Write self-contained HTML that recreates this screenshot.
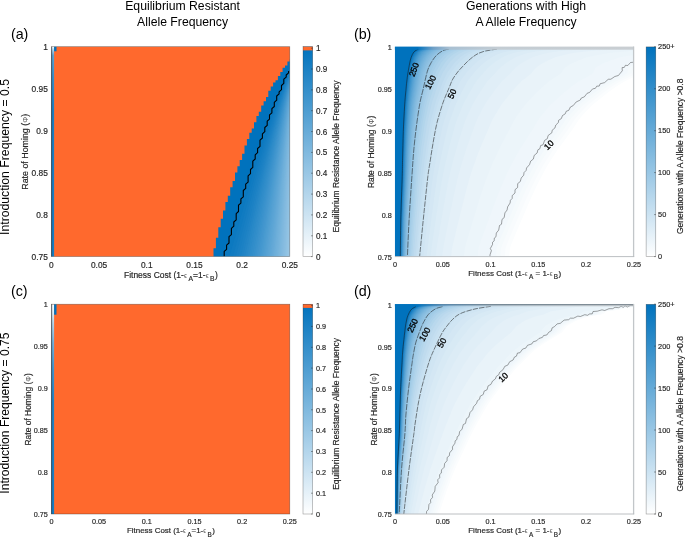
<!DOCTYPE html>
<html><head><meta charset="utf-8"><title>Figure</title>
<style>html,body{margin:0;padding:0;background:#fff}svg{display:block;will-change:transform;filter:blur(0.3px)}</style></head>
<body>
<svg width="685" height="542" viewBox="0 0 685 542" font-family="'Liberation Sans', Arial, Helvetica, sans-serif">
<defs>
<clipPath id="clipa"><rect x="49" y="44" width="243" height="215"/></clipPath>
<clipPath id="clipb"><rect x="392" y="44" width="244" height="215"/></clipPath>
<clipPath id="clipc"><rect x="49" y="302" width="243" height="214"/></clipPath>
<clipPath id="clipd"><rect x="392" y="302" width="244" height="214"/></clipPath>
<linearGradient id="cbg" x1="0" y1="0" x2="0" y2="1"><stop offset="0" stop-color="#0072bd"/><stop offset="1" stop-color="#fff"/></linearGradient>
<linearGradient id="fca" x1="0" y1="0" x2="0" y2="1"><stop offset="0" stop-color="#ffffff"/><stop offset="0.015" stop-color="#b2d5eb"/><stop offset="0.04" stop-color="#59a3d4"/><stop offset="0.15" stop-color="#338eca"/><stop offset="0.3" stop-color="#1a80c4"/><stop offset="1" stop-color="#147dc2"/></linearGradient>
<linearGradient id="fcc" x1="0" y1="0" x2="0" y2="1"><stop offset="0" stop-color="#ffffff"/><stop offset="0.04" stop-color="#e0eef7"/><stop offset="0.09" stop-color="#b2d5eb"/><stop offset="0.18" stop-color="#73b1db"/><stop offset="0.3" stop-color="#4095ce"/><stop offset="0.45" stop-color="#1f83c5"/><stop offset="1" stop-color="#147dc2"/></linearGradient>
<linearGradient id="topb" x1="0" y1="0" x2="1" y2="0"><stop offset="0" stop-color="#0072bd"/><stop offset="0.095" stop-color="#0072bd"/><stop offset="0.16" stop-color="#6f9fc6"/><stop offset="0.23" stop-color="#a9c0d2"/><stop offset="0.43" stop-color="#c3ccd3"/><stop offset="1" stop-color="#c9ced2"/></linearGradient>
<linearGradient id="topd" x1="0" y1="0" x2="1" y2="0"><stop offset="0" stop-color="#0072bd"/><stop offset="0.08" stop-color="#0072bd"/><stop offset="0.2" stop-color="#5d87a8"/><stop offset="0.4" stop-color="#7c8890"/><stop offset="1" stop-color="#8a8d90"/></linearGradient>
</defs>
<rect width="685" height="542" fill="#fff"/>
<g clip-path="url(#clipa)">
<rect x="47.4" y="42.7" width="246.4" height="217.9" fill="rgb(255, 105, 45)"/>
<path fill="#0072bd" d="M295.8 59.3 L289.8 59.3 L289.8 61.4 L287.4 61.4 L287.4 63.5 L287.4 63.5 L287.4 65.6 L285 65.6 L285 67.7 L282.6 67.7 L282.6 69.8 L282.6 69.8 L282.6 71.9 L280.3 71.9 L280.3 74 L280.3 74 L280.3 76.1 L277.9 76.1 L277.9 78.2 L277.9 78.2 L277.9 80.3 L275.5 80.3 L275.5 82.4 L273.1 82.4 L273.1 84.5 L273.1 84.5 L273.1 86.6 L270.7 86.6 L270.7 88.7 L270.7 88.7 L270.7 90.8 L268.3 90.8 L268.3 92.9 L268.3 92.9 L268.3 95 L268.3 95 L268.3 97.1 L266 97.1 L266 99.2 L266 99.2 L266 101.3 L263.6 101.3 L263.6 103.4 L263.6 103.4 L263.6 105.5 L261.2 105.5 L261.2 107.6 L261.2 107.6 L261.2 109.7 L261.2 109.7 L261.2 111.8 L258.8 111.8 L258.8 113.9 L258.8 113.9 L258.8 116 L256.4 116 L256.4 118.1 L256.4 118.1 L256.4 120.2 L256.4 120.2 L256.4 122.3 L254 122.3 L254 124.4 L254 124.4 L254 126.5 L254 126.5 L254 128.6 L251.7 128.6 L251.7 130.7 L251.7 130.7 L251.7 132.8 L249.3 132.8 L249.3 134.9 L249.3 134.9 L249.3 137 L249.3 137 L249.3 139.1 L246.9 139.1 L246.9 141.2 L246.9 141.2 L246.9 143.3 L246.9 143.3 L246.9 145.4 L244.5 145.4 L244.5 147.5 L244.5 147.5 L244.5 149.6 L244.5 149.6 L244.5 151.7 L244.5 151.7 L244.5 153.7 L242.1 153.7 L242.1 155.8 L242.1 155.8 L242.1 157.9 L242.1 157.9 L242.1 160 L239.7 160 L239.7 162.1 L239.7 162.1 L239.7 164.2 L239.7 164.2 L239.7 166.3 L237.4 166.3 L237.4 168.4 L237.4 168.4 L237.4 170.5 L237.4 170.5 L237.4 172.6 L235 172.6 L235 174.7 L235 174.7 L235 176.8 L235 176.8 L235 178.9 L235 178.9 L235 181 L232.6 181 L232.6 183.1 L232.6 183.1 L232.6 185.2 L232.6 185.2 L232.6 187.3 L230.2 187.3 L230.2 189.4 L230.2 189.4 L230.2 191.5 L230.2 191.5 L230.2 193.6 L230.2 193.6 L230.2 195.7 L227.8 195.7 L227.8 197.8 L227.8 197.8 L227.8 199.9 L227.8 199.9 L227.8 202 L225.4 202 L225.4 204.1 L225.4 204.1 L225.4 206.2 L225.4 206.2 L225.4 208.3 L225.4 208.3 L225.4 210.4 L223 210.4 L223 212.5 L223 212.5 L223 214.6 L223 214.6 L223 216.7 L223 216.7 L223 218.8 L220.7 218.8 L220.7 220.9 L220.7 220.9 L220.7 223 L220.7 223 L220.7 225.1 L220.7 225.1 L220.7 227.2 L218.3 227.2 L218.3 229.3 L218.3 229.3 L218.3 231.4 L218.3 231.4 L218.3 233.5 L218.3 233.5 L218.3 235.6 L218.3 235.6 L218.3 237.7 L215.9 237.7 L215.9 239.8 L215.9 239.8 L215.9 241.9 L215.9 241.9 L215.9 244 L215.9 244 L215.9 246.1 L215.9 246.1 L215.9 248.2 L213.5 248.2 L213.5 250.3 L213.5 250.3 L213.5 252.4 L213.5 252.4 L213.5 254.5 L213.5 254.5 L213.5 261.6 L295.8 261.6 Z"/>
<path fill="#0072bd" d="M369.8 71.1 L288.6 71.1 L288.6 72.9 L286.2 75 L286.2 77.1 L283.8 79.2 L283.8 81.3 L283.8 83.4 L281.5 85.5 L281.5 87.6 L281.5 89.7 L279.1 91.8 L279.1 93.9 L276.7 96 L276.7 98.1 L276.7 100.2 L274.3 102.3 L274.3 104.4 L274.3 106.5 L271.9 108.6 L271.9 110.7 L271.9 112.8 L269.5 114.9 L269.5 117 L269.5 119.1 L267.2 121.2 L267.2 123.3 L267.2 125.4 L264.8 127.5 L264.8 129.6 L264.8 131.7 L262.4 133.8 L262.4 135.9 L262.4 138 L260 140.1 L260 142.2 L260 144.3 L260 146.4 L257.6 148.5 L257.6 150.6 L257.6 152.7 L255.2 154.8 L255.2 156.9 L255.2 159 L252.8 161.1 L252.8 163.2 L252.8 165.3 L252.8 167.4 L250.5 169.5 L250.5 171.6 L250.5 173.7 L248.1 175.8 L248.1 177.9 L248.1 180 L248.1 182.1 L245.7 184.2 L245.7 186.3 L245.7 188.4 L243.3 190.5 L243.3 192.6 L243.3 194.7 L243.3 196.8 L240.9 198.9 L240.9 201 L240.9 203.1 L238.5 205.2 L238.5 207.3 L238.5 209.4 L238.5 211.5 L236.2 213.6 L236.2 215.7 L236.2 217.8 L236.2 219.9 L233.8 222 L233.8 224.1 L233.8 226.2 L231.4 228.3 L231.4 230.4 L231.4 232.5 L231.4 234.6 L229 236.7 L229 238.8 L229 240.9 L229 243 L226.6 245.1 L226.6 247.2 L226.6 249.3 L224.2 251.4 L224.2 253.5 L224.2 255.6 L224.2 256.6 L224.2 261.6 L369.8 261.6 Z"/>
<path fill="#0c79c0" d="M295.8 60 L293.8 60 L291 66 L288.2 72 L285.5 78 L282.9 84 L280.3 90 L277.8 96 L275.4 102 L273 108 L270.7 114 L268.4 120 L266.2 126 L264 132 L261.8 138 L259.7 144 L257.6 150 L255.6 156 L253.6 162 L251.6 168 L249.6 174 L247.7 180 L245.7 186 L243.8 192 L241.9 198 L240.1 204 L238.2 210 L236.3 216 L234.4 222 L232.6 228 L230.7 234 L228.8 240 L226.9 246 L225 252 L222 261.6 L295.8 261.6 Z"/>
<path fill="#107bc1" d="M295.8 60 L294 60 L291.4 66 L288.9 72 L286.4 78 L284 84 L281.6 90 L279.3 96 L277.1 102 L274.9 108 L272.7 114 L270.6 120 L268.6 126 L266.6 132 L264.6 138 L262.6 144 L260.7 150 L258.8 156 L257 162 L255.2 168 L253.4 174 L251.6 180 L249.8 186 L248.1 192 L246.3 198 L244.6 204 L242.9 210 L241.2 216 L239.4 222 L237.7 228 L236 234 L234.3 240 L232.5 246 L230.8 252 L228 261.6 L295.8 261.6 Z"/>
<path fill="#147dc2" d="M295.8 60 L294.1 60 L291.6 66 L289.2 72 L286.9 78 L284.6 84 L282.4 90 L280.2 96 L278.1 102 L276 108 L273.9 114 L271.9 120 L270 126 L268.1 132 L266.2 138 L264.4 144 L262.6 150 L260.8 156 L259 162 L257.3 168 L255.6 174 L253.9 180 L252.2 186 L250.5 192 L248.9 198 L247.3 204 L245.6 210 L244 216 L242.4 222 L240.7 228 L239.1 234 L237.5 240 L235.8 246 L234.2 252 L231.5 261.6 L295.8 261.6 Z"/>
<path fill="#187fc3" d="M295.8 60 L294.2 60 L291.8 66 L289.5 72 L287.3 78 L285.1 84 L283 90 L280.9 96 L278.9 102 L276.9 108 L274.9 114 L273 120 L271.2 126 L269.4 132 L267.6 138 L265.8 144 L264.1 150 L262.4 156 L260.7 162 L259.1 168 L257.4 174 L255.8 180 L254.2 186 L252.6 192 L251.1 198 L249.5 204 L247.9 210 L246.4 216 L244.8 222 L243.3 228 L241.7 234 L240.2 240 L238.6 246 L237 252 L234.5 261.6 L295.8 261.6 Z"/>
<path fill="#1b81c4" d="M295.8 60 L294.3 60 L292 66 L289.8 72 L287.7 78 L285.6 84 L283.5 90 L281.6 96 L279.6 102 L277.7 108 L275.9 114 L274 120 L272.3 126 L270.5 132 L268.8 138 L267.1 144 L265.5 150 L263.8 156 L262.2 162 L260.6 168 L259.1 174 L257.5 180 L256 186 L254.5 192 L253 198 L251.5 204 L250 210 L248.5 216 L247 222 L245.5 228 L244 234 L242.5 240 L241 246 L239.5 252 L237.1 261.6 L295.8 261.6 Z"/>
<path fill="#1f83c5" d="M295.8 60 L294.3 60 L292.2 66 L290.1 72 L288 78 L286 84 L284.1 90 L282.1 96 L280.3 102 L278.5 108 L276.7 114 L274.9 120 L273.2 126 L271.6 132 L269.9 138 L268.3 144 L266.7 150 L265.2 156 L263.6 162 L262.1 168 L260.6 174 L259.1 180 L257.7 186 L256.2 192 L254.8 198 L253.3 204 L251.9 210 L250.5 216 L249 222 L247.6 228 L246.2 234 L244.7 240 L243.3 246 L241.9 252 L239.5 261.6 L295.8 261.6 Z"/>
<path fill="#2385c6" d="M295.8 60 L294.4 60 L292.3 66 L290.3 72 L288.3 78 L286.4 84 L284.5 90 L282.7 96 L280.9 102 L279.2 108 L277.5 114 L275.8 120 L274.1 126 L272.5 132 L271 138 L269.4 144 L267.9 150 L266.4 156 L264.9 162 L263.5 168 L262 174 L260.6 180 L259.2 186 L257.8 192 L256.4 198 L255 204 L253.7 210 L252.3 216 L250.9 222 L249.6 228 L248.2 234 L246.8 240 L245.4 246 L244 252 L241.8 261.6 L295.8 261.6 Z"/>
<path fill="#2788c7" d="M295.8 60 L294.5 60 L292.5 66 L290.5 72 L288.6 78 L286.8 84 L285 90 L283.2 96 L281.5 102 L279.8 108 L278.2 114 L276.6 120 L275 126 L273.5 132 L272 138 L270.5 144 L269 150 L267.6 156 L266.1 162 L264.7 168 L263.4 174 L262 180 L260.6 186 L259.3 192 L258 198 L256.7 204 L255.3 210 L254 216 L252.7 222 L251.4 228 L250.1 234 L248.8 240 L247.4 246 L246.1 252 L243.9 261.6 L295.8 261.6 Z"/>
<path fill="#2b8ac8" d="M295.8 60 L294.5 60 L292.6 66 L290.7 72 L288.9 78 L287.2 84 L285.4 90 L283.7 96 L282.1 102 L280.5 108 L278.9 114 L277.3 120 L275.8 126 L274.3 132 L272.9 138 L271.5 144 L270.1 150 L268.7 156 L267.3 162 L266 168 L264.6 174 L263.3 180 L262 186 L260.7 192 L259.5 198 L258.2 204 L256.9 210 L255.7 216 L254.4 222 L253.1 228 L251.9 234 L250.6 240 L249.3 246 L248 252 L246 261.6 L295.8 261.6 Z"/>
<path fill="#2f8cc9" d="M295.8 60 L294.6 60 L292.7 66 L291 72 L289.2 78 L287.5 84 L285.8 90 L284.2 96 L282.6 102 L281.1 108 L279.6 114 L278.1 120 L276.6 126 L275.2 132 L273.8 138 L272.4 144 L271.1 150 L269.8 156 L268.4 162 L267.2 168 L265.9 174 L264.6 180 L263.4 186 L262.1 192 L260.9 198 L259.7 204 L258.5 210 L257.2 216 L256 222 L254.8 228 L253.6 234 L252.4 240 L251.2 246 L249.9 252 L247.9 261.6 L295.8 261.6 Z"/>
<path fill="#328eca" d="M295.8 60 L294.6 60 L292.9 66 L291.2 72 L289.5 78 L287.8 84 L286.2 90 L284.7 96 L283.2 102 L281.7 108 L280.2 114 L278.8 120 L277.4 126 L276 132 L274.7 138 L273.4 144 L272.1 150 L270.8 156 L269.5 162 L268.3 168 L267.1 174 L265.8 180 L264.7 186 L263.5 192 L262.3 198 L261.1 204 L259.9 210 L258.8 216 L257.6 222 L256.4 228 L255.3 234 L254.1 240 L252.9 246 L251.7 252 L249.8 261.6 L295.8 261.6 Z"/>
<path fill="#3690cb" d="M295.8 60 L294.7 60 L293 66 L291.3 72 L289.7 78 L288.2 84 L286.6 90 L285.1 96 L283.7 102 L282.2 108 L280.8 114 L279.5 120 L278.1 126 L276.8 132 L275.5 138 L274.3 144 L273 150 L271.8 156 L270.6 162 L269.4 168 L268.2 174 L267 180 L265.9 186 L264.7 192 L263.6 198 L262.5 204 L261.4 210 L260.2 216 L259.1 222 L258 228 L256.9 234 L255.8 240 L254.6 246 L253.5 252 L251.7 261.6 L295.8 261.6 Z"/>
<path fill="#3a92cc" d="M295.8 60 L294.7 60 L293.1 66 L291.5 72 L290 78 L288.5 84 L287 90 L285.6 96 L284.2 102 L282.8 108 L281.4 114 L280.1 120 L278.8 126 L277.6 132 L276.3 138 L275.1 144 L273.9 150 L272.7 156 L271.6 162 L270.4 168 L269.3 174 L268.2 180 L267.1 186 L266 192 L264.9 198 L263.8 204 L262.7 210 L261.7 216 L260.6 222 L259.5 228 L258.4 234 L257.4 240 L256.3 246 L255.2 252 L253.4 261.6 L295.8 261.6 Z"/>
<path fill="#3e94cd" d="M295.8 60 L294.8 60 L293.2 66 L291.7 72 L290.2 78 L288.8 84 L287.4 90 L286 96 L284.6 102 L283.3 108 L282 114 L280.8 120 L279.5 126 L278.3 132 L277.1 138 L276 144 L274.8 150 L273.7 156 L272.6 162 L271.5 168 L270.4 174 L269.3 180 L268.3 186 L267.2 192 L266.2 198 L265.1 204 L264.1 210 L263.1 216 L262 222 L261 228 L260 234 L258.9 240 L257.9 246 L256.8 252 L255.1 261.6 L295.8 261.6 Z"/>
<path fill="#4296ce" d="M295.8 60 L294.8 60 L293.3 66 L291.9 72 L290.5 78 L289.1 84 L287.7 90 L286.4 96 L285.1 102 L283.8 108 L282.6 114 L281.4 120 L280.2 126 L279 132 L277.9 138 L276.8 144 L275.7 150 L274.6 156 L273.5 162 L272.5 168 L271.4 174 L270.4 180 L269.4 186 L268.4 192 L267.4 198 L266.4 204 L265.4 210 L264.4 216 L263.4 222 L262.4 228 L261.4 234 L260.5 240 L259.5 246 L258.5 252 L256.8 261.6 L295.8 261.6 Z"/>
<path fill="#4598cf" d="M295.8 60 L294.9 60 L293.5 66 L292.1 72 L290.7 78 L289.4 84 L288.1 90 L286.8 96 L285.6 102 L284.3 108 L283.2 114 L282 120 L280.9 126 L279.8 132 L278.7 138 L277.6 144 L276.5 150 L275.5 156 L274.5 162 L273.5 168 L272.5 174 L271.5 180 L270.5 186 L269.6 192 L268.6 198 L267.6 204 L266.7 210 L265.7 216 L264.8 222 L263.8 228 L262.9 234 L261.9 240 L261 246 L260 252 L258.5 261.6 L295.8 261.6 Z"/>
<path fill="#499bd0" d="M295.8 60 L294.9 60 L293.6 66 L292.2 72 L290.9 78 L289.6 84 L288.4 90 L287.2 96 L286 102 L284.8 108 L283.7 114 L282.6 120 L281.5 126 L280.5 132 L279.4 138 L278.4 144 L277.4 150 L276.4 156 L275.4 162 L274.4 168 L273.5 174 L272.5 180 L271.6 186 L270.7 192 L269.8 198 L268.9 204 L267.9 210 L267 216 L266.1 222 L265.2 228 L264.3 234 L263.4 240 L262.5 246 L261.6 252 L260.1 261.6 L295.8 261.6 Z"/>
<path fill="#4d9dd1" d="M295.8 60 L295 60 L293.7 66 L292.4 72 L291.1 78 L289.9 84 L288.7 90 L287.6 96 L286.4 102 L285.3 108 L284.2 114 L283.2 120 L282.1 126 L281.1 132 L280.1 138 L279.2 144 L278.2 150 L277.2 156 L276.3 162 L275.4 168 L274.5 174 L273.6 180 L272.7 186 L271.8 192 L270.9 198 L270 204 L269.2 210 L268.3 216 L267.4 222 L266.6 228 L265.7 234 L264.8 240 L264 246 L263.1 252 L261.6 261.6 L295.8 261.6 Z"/>
<path fill="#519fd2" d="M295.8 60 L295 60 L293.8 66 L292.6 72 L291.4 78 L290.2 84 L289.1 90 L288 96 L286.9 102 L285.8 108 L284.8 114 L283.8 120 L282.8 126 L281.8 132 L280.8 138 L279.9 144 L279 150 L278.1 156 L277.2 162 L276.3 168 L275.4 174 L274.6 180 L273.7 186 L272.9 192 L272 198 L271.2 204 L270.4 210 L269.5 216 L268.7 222 L267.9 228 L267.1 234 L266.2 240 L265.4 246 L264.5 252 L263.2 261.6 L295.8 261.6 Z"/>
<path fill="#55a1d3" d="M295.8 60 L295.1 60 L293.9 66 L292.7 72 L291.6 78 L290.5 84 L289.4 90 L288.3 96 L287.3 102 L286.3 108 L285.3 114 L284.3 120 L283.4 126 L282.5 132 L281.5 138 L280.6 144 L279.8 150 L278.9 156 L278.1 162 L277.2 168 L276.4 174 L275.6 180 L274.7 186 L273.9 192 L273.1 198 L272.3 204 L271.6 210 L270.8 216 L270 222 L269.2 228 L268.4 234 L267.6 240 L266.8 246 L266 252 L264.7 261.6 L295.8 261.6 Z"/>
<path fill="#59a3d4" d="M295.8 60 L295.1 60 L294 66 L292.9 72 L291.8 78 L290.7 84 L289.7 90 L288.7 96 L287.7 102 L286.7 108 L285.8 114 L284.9 120 L284 126 L283.1 132 L282.2 138 L281.4 144 L280.5 150 L279.7 156 L278.9 162 L278.1 168 L277.3 174 L276.5 180 L275.8 186 L275 192 L274.2 198 L273.5 204 L272.7 210 L272 216 L271.2 222 L270.5 228 L269.7 234 L268.9 240 L268.2 246 L267.4 252 L266.2 261.6 L295.8 261.6 Z"/>
<path fill="#5ca5d5" d="M295.8 60 L295.2 60 L294.1 66 L293 72 L292 78 L291 84 L290 90 L289 96 L288.1 102 L287.2 108 L286.3 114 L285.4 120 L284.6 126 L283.7 132 L282.9 138 L282.1 144 L281.3 150 L280.5 156 L279.7 162 L279 168 L278.2 174 L277.5 180 L276.7 186 L276 192 L275.3 198 L274.6 204 L273.9 210 L273.1 216 L272.4 222 L271.7 228 L271 234 L270.3 240 L269.5 246 L268.8 252 L267.6 261.6 L295.8 261.6 Z"/>
<path fill="#60a7d6" d="M295.8 60 L295.2 60 L294.2 66 L293.2 72 L292.2 78 L291.2 84 L290.3 90 L289.4 96 L288.5 102 L287.6 108 L286.8 114 L286 120 L285.1 126 L284.4 132 L283.6 138 L282.8 144 L282 150 L281.3 156 L280.6 162 L279.8 168 L279.1 174 L278.4 180 L277.7 186 L277 192 L276.3 198 L275.7 204 L275 210 L274.3 216 L273.6 222 L272.9 228 L272.3 234 L271.6 240 L270.9 246 L270.2 252 L269.1 261.6 L295.8 261.6 Z"/>
<path fill="#64a9d7" d="M295.8 60 L295.3 60 L294.3 66 L293.3 72 L292.4 78 L291.5 84 L290.6 90 L289.7 96 L288.9 102 L288.1 108 L287.3 114 L286.5 120 L285.7 126 L285 132 L284.2 138 L283.5 144 L282.8 150 L282.1 156 L281.4 162 L280.7 168 L280 174 L279.4 180 L278.7 186 L278 192 L277.4 198 L276.7 204 L276.1 210 L275.4 216 L274.8 222 L274.2 228 L273.5 234 L272.9 240 L272.2 246 L271.6 252 L270.5 261.6 L295.8 261.6 Z"/>
<path fill="#68abd8" d="M295.8 60 L295.3 60 L294.4 66 L293.5 72 L292.6 78 L291.7 84 L290.9 90 L290.1 96 L289.3 102 L288.5 108 L287.8 114 L287 120 L286.3 126 L285.6 132 L284.9 138 L284.2 144 L283.5 150 L282.8 156 L282.2 162 L281.5 168 L280.9 174 L280.3 180 L279.6 186 L279 192 L278.4 198 L277.8 204 L277.2 210 L276.6 216 L276 222 L275.4 228 L274.7 234 L274.1 240 L273.5 246 L272.9 252 L271.9 261.6 L295.8 261.6 Z"/>
<path fill="#6caed9" d="M295.8 60 L295.3 60 L294.5 66 L293.6 72 L292.8 78 L292 84 L291.2 90 L290.4 96 L289.7 102 L288.9 108 L288.2 114 L287.5 120 L286.8 126 L286.2 132 L285.5 138 L284.9 144 L284.2 150 L283.6 156 L283 162 L282.4 168 L281.8 174 L281.2 180 L280.6 186 L280 192 L279.4 198 L278.8 204 L278.3 210 L277.7 216 L277.1 222 L276.5 228 L276 234 L275.4 240 L274.8 246 L274.2 252 L273.3 261.6 L295.8 261.6 Z"/>
<path fill="#70b0da" d="M295.8 60 L295.4 60 L294.6 66 L293.8 72 L293 78 L292.2 84 L291.5 90 L290.8 96 L290.1 102 L289.4 108 L288.7 114 L288 120 L287.4 126 L286.8 132 L286.1 138 L285.5 144 L284.9 150 L284.3 156 L283.7 162 L283.2 168 L282.6 174 L282 180 L281.5 186 L280.9 192 L280.4 198 L279.9 204 L279.3 210 L278.8 216 L278.2 222 L277.7 228 L277.2 234 L276.6 240 L276.1 246 L275.5 252 L274.6 261.6 L295.8 261.6 Z"/>
<path fill="#73b2db" d="M295.8 60 L295.4 60 L294.6 66 L293.9 72 L293.2 78 L292.5 84 L291.8 90 L291.1 96 L290.4 102 L289.8 108 L289.2 114 L288.5 120 L287.9 126 L287.3 132 L286.8 138 L286.2 144 L285.6 150 L285.1 156 L284.5 162 L284 168 L283.5 174 L282.9 180 L282.4 186 L281.9 192 L281.4 198 L280.9 204 L280.4 210 L279.9 216 L279.4 222 L278.8 228 L278.3 234 L277.8 240 L277.3 246 L276.8 252 L276 261.6 L295.8 261.6 Z"/>
<path fill="#77b4dc" d="M295.8 60 L295.5 60 L294.7 66 L294 72 L293.4 78 L292.7 84 L292 90 L291.4 96 L290.8 102 L290.2 108 L289.6 114 L289 120 L288.5 126 L287.9 132 L287.4 138 L286.8 144 L286.3 150 L285.8 156 L285.3 162 L284.8 168 L284.3 174 L283.8 180 L283.3 186 L282.8 192 L282.3 198 L281.9 204 L281.4 210 L280.9 216 L280.5 222 L280 228 L279.5 234 L279 240 L278.6 246 L278.1 252 L277.3 261.6 L295.8 261.6 Z"/>
<path fill="#7bb6dd" d="M295.8 60 L295.5 60 L294.8 66 L294.2 72 L293.5 78 L292.9 84 L292.3 90 L291.7 96 L291.2 102 L290.6 108 L290.1 114 L289.5 120 L289 126 L288.5 132 L288 138 L287.5 144 L287 150 L286.5 156 L286 162 L285.6 168 L285.1 174 L284.6 180 L284.2 186 L283.7 192 L283.3 198 L282.9 204 L282.4 210 L282 216 L281.5 222 L281.1 228 L280.7 234 L280.2 240 L279.8 246 L279.3 252 L278.6 261.6 L295.8 261.6 Z"/>
<path fill="#7fb8de" d="M295.8 60 L295.5 60 L294.9 66 L294.3 72 L293.7 78 L293.2 84 L292.6 90 L292.1 96 L291.5 102 L291 108 L290.5 114 L290 120 L289.5 126 L289 132 L288.6 138 L288.1 144 L287.7 150 L287.2 156 L286.8 162 L286.3 168 L285.9 174 L285.5 180 L285.1 186 L284.7 192 L284.2 198 L283.8 204 L283.4 210 L283 216 L282.6 222 L282.2 228 L281.8 234 L281.4 240 L281 246 L280.6 252 L279.9 261.6 L295.8 261.6 Z"/>
<path fill="#83badf" d="M295.8 60 L295.6 60 L295 66 L294.4 72 L293.9 78 L293.4 84 L292.9 90 L292.4 96 L291.9 102 L291.4 108 L290.9 114 L290.5 120 L290 126 L289.6 132 L289.2 138 L288.7 144 L288.3 150 L287.9 156 L287.5 162 L287.1 168 L286.7 174 L286.3 180 L285.9 186 L285.6 192 L285.2 198 L284.8 204 L284.4 210 L284.1 216 L283.7 222 L283.3 228 L282.9 234 L282.6 240 L282.2 246 L281.8 252 L281.2 261.6 L295.8 261.6 Z"/>
<path fill="#87bce0" d="M295.8 60 L295.6 60 L295.1 66 L294.6 72 L294.1 78 L293.6 84 L293.1 90 L292.7 96 L292.2 102 L291.8 108 L291.4 114 L290.9 120 L290.5 126 L290.1 132 L289.7 138 L289.4 144 L289 150 L288.6 156 L288.2 162 L287.9 168 L287.5 174 L287.2 180 L286.8 186 L286.5 192 L286.1 198 L285.8 204 L285.4 210 L285.1 216 L284.7 222 L284.4 228 L284.1 234 L283.7 240 L283.4 246 L283 252 L282.5 261.6 L295.8 261.6 Z"/>
<path fill="#8abee1" d="M295.8 60 L295.6 60 L295.2 66 L294.7 72 L294.3 78 L293.8 84 L293.4 90 L293 96 L292.6 102 L292.2 108 L291.8 114 L291.4 120 L291 126 L290.7 132 L290.3 138 L290 144 L289.6 150 L289.3 156 L289 162 L288.6 168 L288.3 174 L288 180 L287.7 186 L287.3 192 L287 198 L286.7 204 L286.4 210 L286.1 216 L285.8 222 L285.5 228 L285.2 234 L284.8 240 L284.5 246 L284.2 252 L283.7 261.6 L295.8 261.6 Z"/>
<path fill="#8ec1e2" d="M295.8 60 L295.7 60 L295.3 66 L294.8 72 L294.4 78 L294 84 L293.7 90 L293.3 96 L292.9 102 L292.6 108 L292.2 114 L291.9 120 L291.5 126 L291.2 132 L290.9 138 L290.6 144 L290.3 150 L290 156 L289.7 162 L289.4 168 L289.1 174 L288.8 180 L288.5 186 L288.2 192 L287.9 198 L287.6 204 L287.4 210 L287.1 216 L286.8 222 L286.5 228 L286.3 234 L286 240 L285.7 246 L285.4 252 L284.9 261.6 L295.8 261.6 Z"/>
<path fill="#92c3e3" d="M295.8 60 L295.7 60 L295.3 66 L295 72 L294.6 78 L294.3 84 L293.9 90 L293.6 96 L293.3 102 L292.9 108 L292.6 114 L292.3 120 L292 126 L291.7 132 L291.5 138 L291.2 144 L290.9 150 L290.6 156 L290.4 162 L290.1 168 L289.8 174 L289.6 180 L289.3 186 L289.1 192 L288.8 198 L288.6 204 L288.3 210 L288.1 216 L287.8 222 L287.6 228 L287.3 234 L287.1 240 L286.8 246 L286.6 252 L286.2 261.6 L295.8 261.6 Z"/>
<path fill="#96c5e4" d="M295.8 60 L295.7 60 L295.4 66 L295.1 72 L294.8 78 L294.5 84 L294.2 90 L293.9 96 L293.6 102 L293.3 108 L293.1 114 L292.8 120 L292.5 126 L292.3 132 L292 138 L291.8 144 L291.5 150 L291.3 156 L291.1 162 L290.8 168 L290.6 174 L290.4 180 L290.2 186 L289.9 192 L289.7 198 L289.5 204 L289.3 210 L289.1 216 L288.8 222 L288.6 228 L288.4 234 L288.2 240 L288 246 L287.7 252 L287.4 261.6 L295.8 261.6 Z"/>
<path fill="#9ac7e5" d="M295.8 60 L295.8 60 L295.5 66 L295.2 72 L295 78 L294.7 84 L294.4 90 L294.2 96 L293.9 102 L293.7 108 L293.5 114 L293.2 120 L293 126 L292.8 132 L292.6 138 L292.4 144 L292.2 150 L292 156 L291.8 162 L291.6 168 L291.4 174 L291.2 180 L291 186 L290.8 192 L290.6 198 L290.4 204 L290.2 210 L290 216 L289.8 222 L289.7 228 L289.5 234 L289.3 240 L289.1 246 L288.9 252 L288.6 261.6 L295.8 261.6 Z"/>
<path fill="#9dc9e6" d="M295.8 60 L295.8 60 L295.6 66 L295.3 72 L295.1 78 L294.9 84 L294.7 90 L294.5 96 L294.3 102 L294.1 108 L293.9 114 L293.7 120 L293.5 126 L293.3 132 L293.1 138 L293 144 L292.8 150 L292.6 156 L292.4 162 L292.3 168 L292.1 174 L291.9 180 L291.8 186 L291.6 192 L291.5 198 L291.3 204 L291.2 210 L291 216 L290.8 222 L290.7 228 L290.5 234 L290.4 240 L290.2 246 L290.1 252 L289.8 261.6 L295.8 261.6 Z"/>
<path fill="#a1cbe7" d="M295.8 60 L295.9 60 L295.7 66 L295.5 72 L295.3 78 L295.1 84 L294.9 90 L294.8 96 L294.6 102 L294.4 108 L294.3 114 L294.1 120 L294 126 L293.8 132 L293.7 138 L293.5 144 L293.4 150 L293.3 156 L293.1 162 L293 168 L292.9 174 L292.7 180 L292.6 186 L292.5 192 L292.3 198 L292.2 204 L292.1 210 L292 216 L291.8 222 L291.7 228 L291.6 234 L291.4 240 L291.3 246 L291.2 252 L291 261.6 L295.8 261.6 Z"/>
<path fill="#a5cde8" d="M295.8 60 L295.9 60 L295.7 66 L295.6 72 L295.5 78 L295.3 84 L295.2 90 L295.1 96 L294.9 102 L294.8 108 L294.7 114 L294.6 120 L294.4 126 L294.3 132 L294.2 138 L294.1 144 L294 150 L293.9 156 L293.8 162 L293.7 168 L293.6 174 L293.5 180 L293.4 186 L293.3 192 L293.2 198 L293.1 204 L293 210 L292.9 216 L292.8 222 L292.7 228 L292.6 234 L292.5 240 L292.4 246 L292.3 252 L292.2 261.6 L295.8 261.6 Z"/>
<path fill="#a9cfe9" d="M295.8 60 L295.9 60 L295.8 66 L295.7 72 L295.6 78 L295.5 84 L295.4 90 L295.3 96 L295.3 102 L295.2 108 L295.1 114 L295 120 L294.9 126 L294.8 132 L294.8 138 L294.7 144 L294.6 150 L294.5 156 L294.5 162 L294.4 168 L294.3 174 L294.2 180 L294.2 186 L294.1 192 L294 198 L294 204 L293.9 210 L293.8 216 L293.8 222 L293.7 228 L293.6 234 L293.6 240 L293.5 246 L293.4 252 L293.3 261.6 L295.8 261.6 Z"/>
<path fill="#add2ea" d="M295.8 60 L296 60 L295.9 66 L295.8 72 L295.8 78 L295.7 84 L295.7 90 L295.6 96 L295.6 102 L295.5 108 L295.5 114 L295.4 120 L295.4 126 L295.3 132 L295.3 138 L295.3 144 L295.2 150 L295.2 156 L295.1 162 L295.1 168 L295 174 L295 180 L295 186 L294.9 192 L294.9 198 L294.8 204 L294.8 210 L294.8 216 L294.7 222 L294.7 228 L294.7 234 L294.6 240 L294.6 246 L294.5 252 L294.5 261.6 L295.8 261.6 Z"/>
<path fill="#b1d4eb" d="M295.8 60 L296 60 L296 66 L296 72 L295.9 78 L295.9 84 L295.9 90 L295.9 96 L295.9 102 L295.9 108 L295.9 114 L295.9 120 L295.8 126 L295.8 132 L295.8 138 L295.8 144 L295.8 150 L295.8 156 L295.8 162 L295.8 168 L295.8 174 L295.8 180 L295.7 186 L295.7 192 L295.7 198 L295.7 204 L295.7 210 L295.7 216 L295.7 222 L295.7 228 L295.7 234 L295.7 240 L295.6 246 L295.6 252 L295.6 261.6 L295.8 261.6 Z"/>
<path fill="none" stroke="#000" stroke-width="1.1" stroke-linejoin="round" d="M288.6 71.1 L288.6 72.9 L286.2 75 L286.2 77.1 L283.8 79.2 L283.8 81.3 L283.8 83.4 L281.5 85.5 L281.5 87.6 L281.5 89.7 L279.1 91.8 L279.1 93.9 L276.7 96 L276.7 98.1 L276.7 100.2 L274.3 102.3 L274.3 104.4 L274.3 106.5 L271.9 108.6 L271.9 110.7 L271.9 112.8 L269.5 114.9 L269.5 117 L269.5 119.1 L267.2 121.2 L267.2 123.3 L267.2 125.4 L264.8 127.5 L264.8 129.6 L264.8 131.7 L262.4 133.8 L262.4 135.9 L262.4 138 L260 140.1 L260 142.2 L260 144.3 L260 146.4 L257.6 148.5 L257.6 150.6 L257.6 152.7 L255.2 154.8 L255.2 156.9 L255.2 159 L252.8 161.1 L252.8 163.2 L252.8 165.3 L252.8 167.4 L250.5 169.5 L250.5 171.6 L250.5 173.7 L248.1 175.8 L248.1 177.9 L248.1 180 L248.1 182.1 L245.7 184.2 L245.7 186.3 L245.7 188.4 L243.3 190.5 L243.3 192.6 L243.3 194.7 L243.3 196.8 L240.9 198.9 L240.9 201 L240.9 203.1 L238.5 205.2 L238.5 207.3 L238.5 209.4 L238.5 211.5 L236.2 213.6 L236.2 215.7 L236.2 217.8 L236.2 219.9 L233.8 222 L233.8 224.1 L233.8 226.2 L231.4 228.3 L231.4 230.4 L231.4 232.5 L231.4 234.6 L229 236.7 L229 238.8 L229 240.9 L229 243 L226.6 245.1 L226.6 247.2 L226.6 249.3 L224.2 251.4 L224.2 253.5 L224.2 255.6 L224.2 256.6"/>
<rect x="47.4" y="46.7" width="6.7" height="214.9" fill="url(#fca)"/>
<rect x="47.4" y="42.7" width="6.7" height="4.05" fill="#fff"/>
<rect x="54.1" y="42.7" width="2.4" height="8.6" fill="#0072bd"/>
</g>
<path fill="#fff" fill-rule="evenodd" d="M48 43H293V260H48Z M51.40 46.70H289.80V256.60H51.40Z"/>
<rect x="51.4" y="46.7" width="238.4" height="209.9" fill="none" stroke="#262626" stroke-opacity="0.55" stroke-width="0.6"/>
<path d="M51.7 46.7V256.6" stroke="#1c2530" stroke-opacity="0.7" stroke-width="0.8" fill="none"/>
<g clip-path="url(#clipc)">
<rect x="47.4" y="300.2" width="246.4" height="217.8" fill="rgb(255, 105, 45)"/>
<rect x="47.4" y="304.2" width="6.7" height="214.8" fill="url(#fcc)"/>
<rect x="47.4" y="300.2" width="6.7" height="4.05" fill="#fff"/>
<rect x="54.1" y="300.2" width="2.4" height="14.5" fill="#0072bd"/>
</g>
<path fill="#fff" fill-rule="evenodd" d="M48 301H293V517H48Z M51.40 304.20H289.80V514.00H51.40Z"/>
<rect x="51.4" y="304.2" width="238.4" height="209.8" fill="none" stroke="#262626" stroke-opacity="0.55" stroke-width="0.6"/>
<path d="M51.7 304.2V514" stroke="#1c2530" stroke-opacity="0.7" stroke-width="0.8" fill="none"/>
<g clip-path="url(#clipb)">
<rect x="390.9" y="42.9" width="246.9" height="217.7" fill="#fff"/>
<path fill="#fbfdfe" d="M390.9 260.6 L390.9 42.9 L639.9 42.9 L639.9 72.9 L639.3 73.9 L637.7 74.9 L636 75.9 L633.9 76.9 L633.9 76.9 L625.4 80.9 L618.7 84.9 L612.8 88.9 L607.3 92.9 L602.3 96.9 L597.3 100.9 L592.3 104.9 L588.4 108.9 L584.7 112.9 L581 116.9 L578 120.9 L575.4 124.9 L572.8 128.9 L569.9 132.9 L567 136.9 L564.1 140.9 L561.1 144.9 L558.1 148.9 L555.5 152.9 L552.9 156.9 L550.3 160.9 L547.8 164.9 L545.5 168.9 L543.4 172.9 L541.3 176.9 L539.1 180.9 L537.1 184.9 L535.2 188.9 L533.4 192.9 L531.5 196.9 L529.7 200.9 L528 204.9 L526.3 208.9 L524.6 212.9 L522.9 216.9 L521.1 220.9 L519.4 224.9 L517.7 228.9 L516 232.9 L514.3 236.9 L512.7 240.9 L511 244.9 L509.8 248.9 L509.5 252.9 L509.3 256.6 L509.3 260.6 Z"/>
<path fill="#f8fbfd" d="M390.9 260.6 L390.9 42.9 L639.9 42.9 L639.9 65.9 L638.7 66.9 L637.3 67.9 L637.1 68.9 L636.8 69.9 L636.6 70.9 L636.4 71.9 L636.1 72.9 L634.9 73.9 L633.3 74.9 L631.6 75.9 L629.5 76.9 L629.5 76.9 L621 80.9 L614.3 84.9 L608.4 88.9 L602.9 92.9 L597.9 96.9 L592.9 100.9 L587.9 104.9 L584 108.9 L580.3 112.9 L576.6 116.9 L573.6 120.9 L571 124.9 L568.4 128.9 L565.5 132.9 L562.6 136.9 L559.7 140.9 L556.7 144.9 L553.7 148.9 L551.1 152.9 L548.5 156.9 L545.9 160.9 L543.4 164.9 L541.1 168.9 L539 172.9 L536.9 176.9 L534.7 180.9 L532.7 184.9 L530.8 188.9 L529 192.9 L527.1 196.9 L525.3 200.9 L523.6 204.9 L521.9 208.9 L520.2 212.9 L518.5 216.9 L516.7 220.9 L515 224.9 L513.3 228.9 L511.6 232.9 L509.9 236.9 L508.3 240.9 L506.6 244.9 L505.4 248.9 L505.1 252.9 L504.9 256.6 L504.9 260.6 Z"/>
<path fill="#f5fafc" d="M390.9 260.6 L390.9 42.9 L639.9 42.9 L639.9 62.9 L639.5 63.9 L637.7 64.9 L636 65.9 L634.3 66.9 L632.9 67.9 L632.7 68.9 L632.4 69.9 L632.2 70.9 L632 71.9 L631.7 72.9 L630.5 73.9 L628.9 74.9 L627.2 75.9 L625.1 76.9 L625.1 76.9 L616.6 80.9 L609.9 84.9 L604 88.9 L598.5 92.9 L593.5 96.9 L588.5 100.9 L583.5 104.9 L579.6 108.9 L575.9 112.9 L572.2 116.9 L569.2 120.9 L566.6 124.9 L564 128.9 L561.1 132.9 L558.2 136.9 L555.3 140.9 L552.3 144.9 L549.3 148.9 L546.7 152.9 L544.1 156.9 L541.5 160.9 L539 164.9 L536.7 168.9 L534.6 172.9 L532.5 176.9 L530.3 180.9 L528.3 184.9 L526.4 188.9 L524.6 192.9 L522.7 196.9 L520.9 200.9 L519.2 204.9 L517.5 208.9 L515.8 212.9 L514.1 216.9 L512.3 220.9 L510.6 224.9 L508.9 228.9 L507.2 232.9 L505.5 236.9 L503.9 240.9 L502.2 244.9 L501 248.9 L500.7 252.9 L500.5 256.6 L500.5 260.6 Z"/>
<path fill="#f2f8fc" d="M390.9 260.6 L390.9 42.9 L639.9 42.9 L639.9 61.9 L637.7 62.9 L635.1 63.9 L633.3 64.9 L631.6 65.9 L629.9 66.9 L628.5 67.9 L628.3 68.9 L628 69.9 L627.8 70.9 L627.6 71.9 L627.3 72.9 L626.1 73.9 L624.5 74.9 L622.8 75.9 L620.7 76.9 L620.7 76.9 L612.2 80.9 L605.5 84.9 L599.6 88.9 L594.1 92.9 L589.1 96.9 L584.1 100.9 L579.1 104.9 L575.2 108.9 L571.5 112.9 L567.8 116.9 L564.8 120.9 L562.2 124.9 L559.6 128.9 L556.7 132.9 L553.8 136.9 L550.9 140.9 L547.9 144.9 L544.9 148.9 L542.3 152.9 L539.7 156.9 L537.1 160.9 L534.6 164.9 L532.3 168.9 L530.2 172.9 L528.1 176.9 L525.9 180.9 L523.9 184.9 L522 188.9 L520.2 192.9 L518.3 196.9 L516.5 200.9 L514.8 204.9 L513.1 208.9 L511.4 212.9 L509.7 216.9 L507.9 220.9 L506.2 224.9 L504.5 228.9 L502.8 232.9 L501.1 236.9 L499.5 240.9 L497.8 244.9 L496.6 248.9 L496.3 252.9 L496.1 256.6 L496.1 260.6 Z"/>
<path fill="#eff6fb" d="M390.9 260.6 L390.9 42.9 L639.9 42.9 L639.9 59.9 L639.4 60.9 L636.3 61.9 L633.3 62.9 L630.7 63.9 L628.9 64.9 L627.2 65.9 L625.5 66.9 L624.1 67.9 L623.9 68.9 L623.6 69.9 L623.4 70.9 L623.2 71.9 L622.9 72.9 L621.7 73.9 L620.1 74.9 L618.4 75.9 L616.3 76.9 L616.3 76.9 L607.8 80.9 L601.1 84.9 L595.2 88.9 L589.7 92.9 L584.7 96.9 L579.7 100.9 L574.7 104.9 L570.8 108.9 L567.1 112.9 L563.4 116.9 L560.4 120.9 L557.8 124.9 L555.2 128.9 L552.3 132.9 L549.4 136.9 L546.5 140.9 L543.5 144.9 L540.5 148.9 L537.9 152.9 L535.3 156.9 L532.7 160.9 L530.2 164.9 L527.9 168.9 L525.8 172.9 L523.7 176.9 L521.5 180.9 L519.5 184.9 L517.6 188.9 L515.8 192.9 L513.9 196.9 L512.1 200.9 L510.4 204.9 L508.7 208.9 L507 212.9 L505.3 216.9 L503.5 220.9 L501.8 224.9 L500.1 228.9 L498.4 232.9 L496.7 236.9 L495.1 240.9 L493.4 244.9 L492.2 248.9 L491.9 252.9 L491.7 256.6 L491.7 260.6 Z"/>
<path fill="#ecf5fa" d="M390.9 260.6 L390.9 42.9 L639.9 42.9 L639.9 53.9 L633.8 54.9 L627.4 55.9 L621 56.9 L617.9 57.9 L615.1 58.9 L612.2 59.9 L609.4 60.9 L606.7 61.9 L604 62.9 L601.6 63.9 L600 64.9 L598.3 65.9 L596.7 66.9 L595.3 67.9 L594.8 68.9 L594.3 69.9 L593.9 70.9 L593.4 71.9 L593 72.9 L591.8 73.9 L590.3 74.9 L588.8 75.9 L586.9 76.9 L586.9 76.9 L579.4 80.9 L573.6 84.9 L568.4 88.9 L563.6 92.9 L559.2 96.9 L554.7 100.9 L550.3 104.9 L546.9 108.9 L543.6 112.9 L540.3 116.9 L537.5 120.9 L535.2 124.9 L532.9 128.9 L530.3 132.9 L527.8 136.9 L525.2 140.9 L522.7 144.9 L520.1 148.9 L517.8 152.9 L515.6 156.9 L513.4 160.9 L511.2 164.9 L509.2 168.9 L507.3 172.9 L505.5 176.9 L503.7 180.9 L501.9 184.9 L500.3 188.9 L498.7 192.9 L497.1 196.9 L495.6 200.9 L494.1 204.9 L492.6 208.9 L491.1 212.9 L489.7 216.9 L488.2 220.9 L486.7 224.9 L485.2 228.9 L483.8 232.9 L482.3 236.9 L480.9 240.9 L479.5 244.9 L478.4 248.9 L478 252.9 L477.7 256.6 L477.7 260.6 Z"/>
<path fill="#e9f3f9" d="M390.9 260.6 L390.9 42.9 L639.9 42.9 L639.9 50.2 L638.2 50.4 L633.9 50.7 L630.8 50.9 L627.7 51.2 L624.8 51.4 L622.1 51.7 L619.4 51.9 L616.8 52.2 L614.1 52.4 L611.4 52.7 L609.3 52.9 L603.1 53.9 L597.9 54.9 L592.7 55.9 L587.5 56.9 L584.8 57.9 L582.3 58.9 L579.8 59.9 L577.3 60.9 L575 61.9 L572.7 62.9 L570.6 63.9 L569 64.9 L567.5 65.9 L565.9 66.9 L564.6 67.9 L563.9 68.9 L563.2 69.9 L562.5 70.9 L561.8 71.9 L561.2 72.9 L560.1 73.9 L558.8 74.9 L557.4 75.9 L555.8 76.9 L555.8 76.9 L549.5 80.9 L544.7 84.9 L540.3 88.9 L536.2 92.9 L532.4 96.9 L528.5 100.9 L524.9 104.9 L521.9 108.9 L519.1 112.9 L516.2 116.9 L513.8 120.9 L511.7 124.9 L509.8 128.9 L507.6 132.9 L505.5 136.9 L503.4 140.9 L501.3 144.9 L499.2 148.9 L497.3 152.9 L495.5 156.9 L493.6 160.9 L491.8 164.9 L490.2 168.9 L488.6 172.9 L487 176.9 L485.5 180.9 L484.1 184.9 L482.8 188.9 L481.5 192.9 L480.2 196.9 L478.9 200.9 L477.7 204.9 L476.5 208.9 L475.3 212.9 L474 216.9 L472.8 220.9 L471.6 224.9 L470.4 228.9 L469.2 232.9 L468 236.9 L466.8 240.9 L465.6 244.9 L464.7 248.9 L464.3 252.9 L463.9 256.6 L463.9 260.6 Z"/>
<path fill="#e4f0f8" d="M390.9 260.6 L390.9 42.9 L639.9 42.9 L639.9 48.9 L630.9 49.2 L623.9 49.4 L617 49.7 L610 49.9 L603 50.2 L596.2 50.4 L592.7 50.7 L590.2 50.9 L587.6 51.2 L585.1 51.4 L583.1 51.7 L581 51.9 L579 52.2 L576.9 52.4 L574.9 52.7 L573.2 52.9 L568.1 53.9 L564 54.9 L559.9 55.9 L555.8 56.9 L553.5 57.9 L551.4 58.9 L549.2 59.9 L547 60.9 L545 61.9 L543.1 62.9 L541.3 63.9 L539.8 64.9 L538.4 65.9 L537 66.9 L535.7 67.9 L534.9 68.9 L534 69.9 L533.2 70.9 L532.4 71.9 L531.7 72.9 L530.6 73.9 L529.4 74.9 L528.3 75.9 L526.9 76.9 L526.9 76.9 L521.7 80.9 L517.8 84.9 L514.2 88.9 L510.8 92.9 L507.5 96.9 L504.3 100.9 L501.2 104.9 L498.8 108.9 L496.4 112.9 L494 116.9 L491.8 120.9 L490.1 124.9 L488.4 128.9 L486.7 132.9 L484.9 136.9 L483.2 140.9 L481.5 144.9 L479.9 148.9 L478.3 152.9 L476.8 156.9 L475.4 160.9 L473.9 164.9 L472.5 168.9 L471.2 172.9 L469.9 176.9 L468.8 180.9 L467.7 184.9 L466.6 188.9 L465.6 192.9 L464.5 196.9 L463.5 200.9 L462.5 204.9 L461.5 208.9 L460.5 212.9 L459.6 216.9 L458.6 220.9 L457.6 224.9 L456.6 228.9 L455.7 232.9 L454.7 236.9 L453.8 240.9 L452.8 244.9 L452 248.9 L451.6 252.9 L451.1 256.6 L451.1 260.6 Z"/>
<path fill="#e0eef7" d="M390.9 260.6 L390.9 42.9 L639.9 42.9 L639.9 48.2 L634 48.4 L619.9 48.7 L605.7 48.9 L592.5 49.2 L587.3 49.4 L582 49.7 L576.7 49.9 L571.4 50.2 L566.3 50.4 L563.5 50.7 L561.3 50.9 L559.1 51.2 L557 51.4 L555.3 51.7 L553.7 51.9 L552.1 52.2 L550.4 52.4 L548.8 52.7 L547.5 52.9 L543.2 53.9 L539.8 54.9 L536.4 55.9 L533.1 56.9 L531.1 57.9 L529.2 58.9 L527.3 59.9 L525.4 60.9 L523.6 61.9 L522 62.9 L520.4 63.9 L519 64.9 L517.7 65.9 L516.4 66.9 L515.2 67.9 L514.3 68.9 L513.4 69.9 L512.4 70.9 L511.5 71.9 L510.8 72.9 L509.8 73.9 L508.8 74.9 L507.7 75.9 L506.5 76.9 L506.5 76.9 L502.1 80.9 L498.9 84.9 L495.8 88.9 L492.9 92.9 L490 96.9 L487.2 100.9 L484.7 104.9 L482.5 108.9 L480.5 112.9 L478.4 116.9 L476.5 120.9 L474.9 124.9 L473.5 128.9 L472 132.9 L470.6 136.9 L469.1 140.9 L467.7 144.9 L466.3 148.9 L465.1 152.9 L463.8 156.9 L462.6 160.9 L461.3 164.9 L460.2 168.9 L459.1 172.9 L458 176.9 L457.1 180.9 L456.1 184.9 L455.3 188.9 L454.4 192.9 L453.5 196.9 L452.7 200.9 L451.9 204.9 L451 208.9 L450.2 212.9 L449.4 216.9 L448.6 220.9 L447.8 224.9 L447 228.9 L446.2 232.9 L445.4 236.9 L444.6 240.9 L443.8 244.9 L443.1 248.9 L442.6 252.9 L442.2 256.6 L442.2 260.6 Z"/>
<path fill="#dcecf6" d="M390.9 260.6 L390.9 42.9 L639.9 42.9 L639.9 47.9 L621.9 48.2 L596.6 48.4 L585.5 48.7 L574.4 48.9 L564.4 49.2 L560.3 49.4 L556.2 49.7 L552.1 49.9 L548 50.2 L544.1 50.4 L541.8 50.7 L539.8 50.9 L537.8 51.2 L536 51.4 L534.7 51.7 L533.3 51.9 L532 52.2 L530.6 52.4 L529.3 52.7 L528.2 52.9 L524.5 53.9 L521.7 54.9 L518.8 55.9 L516.1 56.9 L514.3 57.9 L512.6 58.9 L510.8 59.9 L509.1 60.9 L507.6 61.9 L506.1 62.9 L504.7 63.9 L503.4 64.9 L502.2 65.9 L500.9 66.9 L499.8 67.9 L498.9 68.9 L497.9 69.9 L497 70.9 L496.1 71.9 L495.3 72.9 L494.4 73.9 L493.5 74.9 L492.5 75.9 L491.5 76.9 L491.5 76.9 L487.6 80.9 L484.8 84.9 L482.2 88.9 L479.6 92.9 L477.1 96.9 L474.6 100.9 L472.4 104.9 L470.5 108.9 L468.7 112.9 L466.9 116.9 L465.1 120.9 L463.8 124.9 L462.5 128.9 L461.3 132.9 L460 136.9 L458.7 140.9 L457.5 144.9 L456.4 148.9 L455.3 152.9 L454.2 156.9 L453.1 160.9 L452.1 164.9 L451.1 168.9 L450.1 172.9 L449.2 176.9 L448.4 180.9 L447.6 184.9 L446.9 188.9 L446.2 192.9 L445.4 196.9 L444.7 200.9 L444 204.9 L443.3 208.9 L442.6 212.9 L441.9 216.9 L441.2 220.9 L440.5 224.9 L439.8 228.9 L439.2 232.9 L438.5 236.9 L437.8 240.9 L437.1 244.9 L436.5 248.9 L436.1 252.9 L435.6 256.6 L435.6 260.6 Z"/>
<path fill="#d8eaf5" d="M390.9 260.6 L390.9 42.9 L639.9 42.9 L639.9 47.7 L628 47.9 L591.6 48.2 L568.5 48.4 L559.6 48.7 L550.6 48.9 L542.9 49.2 L539.7 49.4 L536.5 49.7 L533.2 49.9 L529.9 50.2 L526.9 50.4 L524.9 50.7 L523.1 50.9 L521.4 51.2 L519.7 51.4 L518.6 51.7 L517.5 51.9 L516.4 52.2 L515.3 52.4 L514.2 52.7 L513.3 52.9 L510 53.9 L507.6 54.9 L505.1 55.9 L502.8 56.9 L501.2 57.9 L499.6 58.9 L498 59.9 L496.5 60.9 L495.1 61.9 L493.8 62.9 L492.5 63.9 L491.3 64.9 L490.1 65.9 L489 66.9 L487.9 67.9 L487 68.9 L486 69.9 L485.1 70.9 L484.1 71.9 L483.4 72.9 L482.6 73.9 L481.7 74.9 L480.8 75.9 L479.9 76.9 L479.9 76.9 L476.5 80.9 L474 84.9 L471.7 88.9 L469.4 92.9 L467.2 96.9 L464.9 100.9 L463 104.9 L461.3 108.9 L459.7 112.9 L458 116.9 L456.5 120.9 L455.2 124.9 L454.1 128.9 L453 132.9 L451.9 136.9 L450.8 140.9 L449.7 144.9 L448.8 148.9 L447.8 152.9 L446.9 156.9 L445.9 160.9 L445 164.9 L444.2 168.9 L443.3 172.9 L442.5 176.9 L441.8 180.9 L441.1 184.9 L440.5 188.9 L439.9 192.9 L439.2 196.9 L438.6 200.9 L438 204.9 L437.4 208.9 L436.7 212.9 L436.1 216.9 L435.6 220.9 L435 224.9 L434.4 228.9 L433.8 232.9 L433.2 236.9 L432.6 240.9 L432 244.9 L431.5 248.9 L431 252.9 L430.6 256.6 L430.6 260.6 Z"/>
<path fill="#d4e7f4" d="M390.9 260.6 L390.9 42.9 L639.9 42.9 L639.9 47.7 L598.4 47.9 L567.9 48.2 L546.6 48.4 L539.4 48.7 L532.1 48.9 L526 49.2 L523.4 49.4 L520.8 49.7 L518.2 49.9 L515.6 50.2 L513.2 50.4 L511.5 50.7 L509.9 50.9 L508.3 51.2 L506.8 51.4 L505.9 51.7 L504.9 51.9 L504 52.2 L503 52.4 L502.1 52.7 L501.3 52.9 L498.4 53.9 L496.3 54.9 L494.2 55.9 L492.1 56.9 L490.7 57.9 L489.2 58.9 L487.8 59.9 L486.3 60.9 L485.1 61.9 L483.9 62.9 L482.7 63.9 L481.6 64.9 L480.5 65.9 L479.4 66.9 L478.4 67.9 L477.5 68.9 L476.5 69.9 L475.6 70.9 L474.7 71.9 L473.9 72.9 L473.1 73.9 L472.3 74.9 L471.5 75.9 L470.7 76.9 L470.7 76.9 L467.6 80.9 L465.5 84.9 L463.4 88.9 L461.3 92.9 L459.3 96.9 L457.3 100.9 L455.5 104.9 L454 108.9 L452.5 112.9 L451.1 116.9 L449.6 120.9 L448.5 124.9 L447.5 128.9 L446.5 132.9 L445.5 136.9 L444.5 140.9 L443.6 144.9 L442.7 148.9 L441.9 152.9 L441.1 156.9 L440.2 160.9 L439.4 164.9 L438.7 168.9 L437.9 172.9 L437.1 176.9 L436.6 180.9 L436 184.9 L435.4 188.9 L434.9 192.9 L434.3 196.9 L433.8 200.9 L433.2 204.9 L432.7 208.9 L432.1 212.9 L431.6 216.9 L431.1 220.9 L430.6 224.9 L430 228.9 L429.5 232.9 L429 236.9 L428.5 240.9 L427.9 244.9 L427.5 248.9 L427 252.9 L426.6 256.6 L426.6 260.6 Z"/>
<path fill="#d0e5f3" d="M390.9 260.6 L390.9 42.9 L639.9 42.9 L639.9 47.4 L638.1 47.7 L574.8 47.9 L548.9 48.2 L529.3 48.4 L523.3 48.7 L517.2 48.9 L512.4 49.2 L510.3 49.4 L508.2 49.7 L506 49.9 L503.9 50.2 L502 50.4 L500.5 50.7 L499.1 50.9 L497.6 51.2 L496.3 51.4 L495.5 51.7 L494.6 51.9 L493.8 52.2 L493 52.4 L492.2 52.7 L491.6 52.9 L488.9 53.9 L487 54.9 L485.2 55.9 L483.4 56.9 L482.1 57.9 L480.7 58.9 L479.4 59.9 L478.1 60.9 L476.9 61.9 L475.8 62.9 L474.7 63.9 L473.7 64.9 L472.6 65.9 L471.6 66.9 L470.7 67.9 L469.7 68.9 L468.8 69.9 L467.9 70.9 L467 71.9 L466.2 72.9 L465.5 73.9 L464.7 74.9 L464 75.9 L463.2 76.9 L463.2 76.9 L460.5 80.9 L458.5 84.9 L456.7 88.9 L454.8 92.9 L452.9 96.9 L451.1 100.9 L449.5 104.9 L448.1 108.9 L446.8 112.9 L445.4 116.9 L444.1 120.9 L443 124.9 L442.1 128.9 L441.2 132.9 L440.3 136.9 L439.4 140.9 L438.6 144.9 L437.9 148.9 L437.1 152.9 L436.4 156.9 L435.6 160.9 L434.9 164.9 L434.2 168.9 L433.5 172.9 L432.9 176.9 L432.4 180.9 L431.8 184.9 L431.3 188.9 L430.9 192.9 L430.4 196.9 L429.9 200.9 L429.4 204.9 L428.9 208.9 L428.4 212.9 L427.9 216.9 L427.5 220.9 L427 224.9 L426.5 228.9 L426.1 232.9 L425.6 236.9 L425.1 240.9 L424.7 244.9 L424.2 248.9 L423.8 252.9 L423.4 256.6 L423.4 260.6 Z"/>
<path fill="#cce3f2" d="M390.9 260.6 L390.9 42.9 L639.9 42.9 L639.9 47.4 L607.4 47.7 L555.7 47.9 L533.4 48.2 L515.2 48.4 L510.1 48.7 L505.1 48.9 L501.2 49.2 L499.5 49.4 L497.7 49.7 L496 49.9 L494.2 50.2 L492.8 50.4 L491.4 50.7 L490.1 50.9 L488.7 51.2 L487.5 51.4 L486.8 51.7 L486.1 51.9 L485.4 52.2 L484.7 52.4 L484 52.7 L483.4 52.9 L481 53.9 L479.3 54.9 L477.7 55.9 L476.1 56.9 L474.9 57.9 L473.6 58.9 L472.4 59.9 L471.2 60.9 L470.1 61.9 L469.1 62.9 L468.1 63.9 L467.1 64.9 L466.1 65.9 L465.1 66.9 L464.2 67.9 L463.3 68.9 L462.4 69.9 L461.5 70.9 L460.6 71.9 L459.9 72.9 L459.2 73.9 L458.5 74.9 L457.8 75.9 L457.1 76.9 L457.1 76.9 L454.5 80.9 L452.8 84.9 L451.1 88.9 L449.4 92.9 L447.7 96.9 L446 100.9 L444.5 104.9 L443.3 108.9 L442 112.9 L440.8 116.9 L439.5 120.9 L438.5 124.9 L437.7 128.9 L436.9 132.9 L436.1 136.9 L435.3 140.9 L434.5 144.9 L433.9 148.9 L433.2 152.9 L432.5 156.9 L431.9 160.9 L431.2 164.9 L430.6 168.9 L429.9 172.9 L429.3 176.9 L428.9 180.9 L428.4 184.9 L428 188.9 L427.5 192.9 L427.1 196.9 L426.6 200.9 L426.2 204.9 L425.7 208.9 L425.3 212.9 L424.9 216.9 L424.5 220.9 L424 224.9 L423.6 228.9 L423.2 232.9 L422.8 236.9 L422.4 240.9 L422 244.9 L421.5 248.9 L421.1 252.9 L420.8 256.6 L420.8 260.6 Z"/>
<path fill="#c8e1f1" d="M390.9 260.6 L390.9 42.9 L639.9 42.9 L639.9 47.4 L586.9 47.7 L542 47.9 L522.1 48.2 L505.2 48.4 L500.6 48.7 L496 48.9 L492.7 49.2 L491.2 49.4 L489.7 49.7 L488.1 49.9 L486.6 50.2 L485.3 50.4 L484.1 50.7 L482.8 50.9 L481.6 51.2 L480.5 51.4 L479.9 51.7 L479.3 51.9 L478.6 52.2 L478 52.4 L477.4 52.7 L476.8 52.9 L474.6 53.9 L473 54.9 L471.5 55.9 L470.1 56.9 L468.9 57.9 L467.7 58.9 L466.6 59.9 L465.4 60.9 L464.4 61.9 L463.5 62.9 L462.5 63.9 L461.6 64.9 L460.6 65.9 L459.8 66.9 L458.9 67.9 L458 68.9 L457.2 69.9 L456.3 70.9 L455.5 71.9 L454.8 72.9 L454.2 73.9 L453.5 74.9 L452.9 75.9 L452.2 76.9 L452.2 76.9 L449.9 80.9 L448.3 84.9 L446.7 88.9 L445.1 92.9 L443.5 96.9 L442 100.9 L440.6 104.9 L439.5 108.9 L438.3 112.9 L437.1 116.9 L436 120.9 L435.1 124.9 L434.3 128.9 L433.6 132.9 L432.8 136.9 L432 140.9 L431.4 144.9 L430.7 148.9 L430.1 152.9 L429.5 156.9 L428.9 160.9 L428.3 164.9 L427.7 168.9 L427.1 172.9 L426.6 176.9 L426.2 180.9 L425.7 184.9 L425.3 188.9 L424.9 192.9 L424.5 196.9 L424.1 200.9 L423.7 204.9 L423.3 208.9 L422.9 212.9 L422.5 216.9 L422.1 220.9 L421.7 224.9 L421.3 228.9 L420.9 232.9 L420.5 236.9 L420.2 240.9 L419.8 244.9 L419.4 248.9 L419 252.9 L418.7 256.6 L418.7 260.6 Z"/>
<path fill="#c4def0" d="M390.9 260.6 L390.9 42.9 L639.9 42.9 L639.9 47.4 L573.7 47.7 L532.1 47.9 L513.8 48.2 L498.3 48.4 L493.8 48.7 L489.3 48.9 L486.3 49.2 L484.8 49.4 L483.3 49.7 L481.9 49.9 L480.4 50.2 L479.2 50.4 L478 50.7 L476.9 50.9 L475.9 51.2 L474.9 51.4 L474.3 51.7 L473.7 51.9 L473.1 52.2 L472.5 52.4 L471.9 52.7 L471.5 52.9 L469.3 53.9 L467.7 54.9 L466.3 55.9 L465 56.9 L463.9 57.9 L462.8 58.9 L461.7 59.9 L460.5 60.9 L459.6 61.9 L458.7 62.9 L457.8 63.9 L456.9 64.9 L456.1 65.9 L455.3 66.9 L454.5 67.9 L453.7 68.9 L452.9 69.9 L452.1 70.9 L451.3 71.9 L450.7 72.9 L450.1 73.9 L449.6 74.9 L449 75.9 L448.4 76.9 L448.4 76.9 L446.3 80.9 L444.8 84.9 L443.3 88.9 L441.8 92.9 L440.3 96.9 L438.8 100.9 L437.5 104.9 L436.5 108.9 L435.4 112.9 L434.3 116.9 L433.2 120.9 L432.4 124.9 L431.7 128.9 L430.9 132.9 L430.2 136.9 L429.5 140.9 L428.9 144.9 L428.2 148.9 L427.7 152.9 L427.1 156.9 L426.6 160.9 L426 164.9 L425.5 168.9 L424.9 172.9 L424.4 176.9 L424 180.9 L423.6 184.9 L423.2 188.9 L422.8 192.9 L422.4 196.9 L422.1 200.9 L421.7 204.9 L421.3 208.9 L420.9 212.9 L420.5 216.9 L420.1 220.9 L419.8 224.9 L419.4 228.9 L419.1 232.9 L418.7 236.9 L418.4 240.9 L418 244.9 L417.7 248.9 L417.3 252.9 L417 256.6 L417 260.6 Z"/>
<path fill="#bfdbee" d="M390.9 260.6 L390.9 42.9 L639.9 42.9 L639.9 47.2 L633.6 47.4 L562.2 47.7 L523.5 47.9 L506.6 48.2 L492.3 48.4 L487.8 48.7 L483.4 48.9 L480.6 49.2 L479.2 49.4 L477.8 49.7 L476.5 49.9 L475.1 50.2 L473.9 50.4 L472.8 50.7 L471.8 50.9 L470.9 51.2 L470 51.4 L469.4 51.7 L468.9 51.9 L468.3 52.2 L467.8 52.4 L467.2 52.7 L466.8 52.9 L464.7 53.9 L463.2 54.9 L461.8 55.9 L460.5 56.9 L459.5 57.9 L458.4 58.9 L457.4 59.9 L456.3 60.9 L455.4 61.9 L454.5 62.9 L453.7 63.9 L452.9 64.9 L452.1 65.9 L451.4 66.9 L450.6 67.9 L449.9 68.9 L449.2 69.9 L448.4 70.9 L447.7 71.9 L447.1 72.9 L446.6 73.9 L446.1 74.9 L445.6 75.9 L445.1 76.9 L445.1 76.9 L443.2 80.9 L441.7 84.9 L440.3 88.9 L438.9 92.9 L437.5 96.9 L436 100.9 L434.9 104.9 L433.9 108.9 L432.9 112.9 L431.8 116.9 L430.8 120.9 L430 124.9 L429.3 128.9 L428.7 132.9 L428 136.9 L427.3 140.9 L426.7 144.9 L426.1 148.9 L425.6 152.9 L425 156.9 L424.5 160.9 L424 164.9 L423.5 168.9 L423 172.9 L422.5 176.9 L422.2 180.9 L421.8 184.9 L421.4 188.9 L421 192.9 L420.7 196.9 L420.3 200.9 L419.9 204.9 L419.5 208.9 L419.2 212.9 L418.8 216.9 L418.5 220.9 L418.1 224.9 L417.8 228.9 L417.5 232.9 L417.2 236.9 L416.8 240.9 L416.5 244.9 L416.2 248.9 L415.8 252.9 L415.5 256.6 L415.5 260.6 Z"/>
<path fill="#b9d8ed" d="M390.9 260.6 L390.9 42.9 L639.9 42.9 L639.9 47.2 L612.4 47.4 L547.5 47.7 L512.5 47.9 L497.4 48.2 L484.5 48.4 L480.2 48.7 L475.9 48.9 L473.4 49.2 L472.1 49.4 L470.8 49.7 L469.5 49.9 L468.2 50.2 L467.1 50.4 L466.1 50.7 L465.3 50.9 L464.5 51.2 L463.7 51.4 L463.2 51.7 L462.7 51.9 L462.2 52.2 L461.7 52.4 L461.1 52.7 L460.7 52.9 L458.8 53.9 L457.3 54.9 L456 55.9 L454.9 56.9 L453.9 57.9 L452.9 58.9 L451.9 59.9 L450.9 60.9 L450 61.9 L449.2 62.9 L448.5 63.9 L447.8 64.9 L447.1 65.9 L446.4 66.9 L445.7 67.9 L445.1 68.9 L444.4 69.9 L443.7 70.9 L443.1 71.9 L442.6 72.9 L442.1 73.9 L441.7 74.9 L441.2 75.9 L440.8 76.9 L440.8 76.9 L439.1 80.9 L437.8 84.9 L436.5 88.9 L435.2 92.9 L433.9 96.9 L432.5 100.9 L431.4 104.9 L430.5 108.9 L429.6 112.9 L428.7 116.9 L427.8 120.9 L427 124.9 L426.4 128.9 L425.7 132.9 L425.1 136.9 L424.5 140.9 L423.9 144.9 L423.3 148.9 L422.9 152.9 L422.4 156.9 L421.9 160.9 L421.5 164.9 L421 168.9 L420.6 172.9 L420.1 176.9 L419.8 180.9 L419.4 184.9 L419.1 188.9 L418.7 192.9 L418.4 196.9 L418 200.9 L417.7 204.9 L417.3 208.9 L417 212.9 L416.6 216.9 L416.3 220.9 L416 224.9 L415.7 228.9 L415.4 232.9 L415.1 236.9 L414.9 240.9 L414.6 244.9 L414.3 248.9 L414 252.9 L413.7 256.6 L413.7 260.6 Z"/>
<path fill="#b2d5eb" d="M390.9 260.6 L390.9 42.9 L639.9 42.9 L639.9 47.2 L594.7 47.4 L535.2 47.7 L503.3 47.9 L489.7 48.2 L478 48.4 L473.8 48.7 L469.5 48.9 L467.3 49.2 L466.1 49.4 L464.9 49.7 L463.7 49.9 L462.5 50.2 L461.4 50.4 L460.4 50.7 L459.8 50.9 L459.1 51.2 L458.4 51.4 L458 51.7 L457.5 51.9 L457 52.2 L456.5 52.4 L456.1 52.7 L455.7 52.9 L453.9 53.9 L452.4 54.9 L451.1 55.9 L450.1 56.9 L449.2 57.9 L448.3 58.9 L447.3 59.9 L446.4 60.9 L445.6 61.9 L444.8 62.9 L444.1 63.9 L443.5 64.9 L442.9 65.9 L442.2 66.9 L441.6 67.9 L441 68.9 L440.4 69.9 L439.8 70.9 L439.2 71.9 L438.8 72.9 L438.4 73.9 L438 74.9 L437.6 75.9 L437.2 76.9 L437.2 76.9 L435.7 80.9 L434.5 84.9 L433.3 88.9 L432.1 92.9 L430.8 96.9 L429.6 100.9 L428.6 104.9 L427.7 108.9 L426.9 112.9 L426.1 116.9 L425.2 120.9 L424.5 124.9 L423.9 128.9 L423.3 132.9 L422.7 136.9 L422.1 140.9 L421.6 144.9 L421 148.9 L420.6 152.9 L420.2 156.9 L419.7 160.9 L419.3 164.9 L418.9 168.9 L418.5 172.9 L418.1 176.9 L417.8 180.9 L417.5 184.9 L417.1 188.9 L416.8 192.9 L416.5 196.9 L416.1 200.9 L415.8 204.9 L415.5 208.9 L415.2 212.9 L414.8 216.9 L414.5 220.9 L414.3 224.9 L414 228.9 L413.7 232.9 L413.5 236.9 L413.2 240.9 L412.9 244.9 L412.7 248.9 L412.4 252.9 L412.2 256.6 L412.2 260.6 Z"/>
<path fill="#acd1ea" d="M390.9 260.6 L390.9 42.9 L639.9 42.9 L639.9 46.9 L634.7 47.2 L579.7 47.4 L524.8 47.7 L495.4 47.9 L483.1 48.2 L472.4 48.4 L468.3 48.7 L464.2 48.9 L462.2 49.2 L461 49.4 L459.9 49.7 L458.7 49.9 L457.6 50.2 L456.5 50.4 L455.7 50.7 L455.1 50.9 L454.5 51.2 L453.9 51.4 L453.5 51.7 L453.1 51.9 L452.6 52.2 L452.2 52.4 L451.7 52.7 L451.4 52.9 L449.7 53.9 L448.2 54.9 L447 55.9 L446.1 56.9 L445.2 57.9 L444.3 58.9 L443.5 59.9 L442.6 60.9 L441.8 61.9 L441 62.9 L440.4 63.9 L439.9 64.9 L439.3 65.9 L438.7 66.9 L438.1 67.9 L437.6 68.9 L437 69.9 L436.5 70.9 L435.9 71.9 L435.6 72.9 L435.2 73.9 L434.9 74.9 L434.5 75.9 L434.2 76.9 L434.2 76.9 L432.8 80.9 L431.7 84.9 L430.6 88.9 L429.4 92.9 L428.2 96.9 L427.1 100.9 L426.1 104.9 L425.3 108.9 L424.6 112.9 L423.8 116.9 L423 120.9 L422.3 124.9 L421.8 128.9 L421.2 132.9 L420.7 136.9 L420.1 140.9 L419.6 144.9 L419.1 148.9 L418.7 152.9 L418.3 156.9 L417.9 160.9 L417.5 164.9 L417.1 168.9 L416.8 172.9 L416.4 176.9 L416.1 180.9 L415.8 184.9 L415.5 188.9 L415.2 192.9 L414.9 196.9 L414.6 200.9 L414.2 204.9 L413.9 208.9 L413.6 212.9 L413.3 216.9 L413 220.9 L412.8 224.9 L412.5 228.9 L412.3 232.9 L412.1 236.9 L411.8 240.9 L411.6 244.9 L411.3 248.9 L411.1 252.9 L410.9 256.6 L410.9 260.6 Z"/>
<path fill="#a6cee8" d="M390.9 260.6 L390.9 42.9 L639.9 42.9 L639.9 46.9 L617.9 47.2 L566.9 47.4 L515.8 47.7 L488.7 47.9 L477.4 48.2 L467.5 48.4 L463.5 48.7 L459.5 48.9 L457.7 49.2 L456.6 49.4 L455.6 49.7 L454.5 49.9 L453.4 50.2 L452.4 50.4 L451.6 50.7 L451.1 50.9 L450.5 51.2 L450.1 51.4 L449.6 51.7 L449.2 51.9 L448.8 52.2 L448.4 52.4 L448 52.7 L447.7 52.9 L446.1 53.9 L444.6 54.9 L443.5 55.9 L442.6 56.9 L441.8 57.9 L441 58.9 L440.1 59.9 L439.3 60.9 L438.5 61.9 L437.8 62.9 L437.3 63.9 L436.7 64.9 L436.2 65.9 L435.7 66.9 L435.2 67.9 L434.6 68.9 L434.1 69.9 L433.6 70.9 L433.1 71.9 L432.8 72.9 L432.5 73.9 L432.2 74.9 L431.8 75.9 L431.5 76.9 L431.5 76.9 L430.3 80.9 L429.3 84.9 L428.2 88.9 L427.1 92.9 L426 96.9 L424.9 100.9 L424 104.9 L423.3 108.9 L422.6 112.9 L421.9 116.9 L421.1 120.9 L420.5 124.9 L420 128.9 L419.4 132.9 L418.9 136.9 L418.4 140.9 L417.9 144.9 L417.4 148.9 L417 152.9 L416.7 156.9 L416.3 160.9 L416 164.9 L415.6 168.9 L415.3 172.9 L415 176.9 L414.7 180.9 L414.4 184.9 L414.1 188.9 L413.8 192.9 L413.5 196.9 L413.2 200.9 L412.9 204.9 L412.6 208.9 L412.3 212.9 L412 216.9 L411.7 220.9 L411.5 224.9 L411.3 228.9 L411.1 232.9 L410.8 236.9 L410.6 240.9 L410.4 244.9 L410.2 248.9 L409.9 252.9 L409.7 256.6 L409.7 260.6 Z"/>
<path fill="#a0cbe6" d="M390.9 260.6 L390.9 42.9 L639.9 42.9 L639.9 46.9 L603.3 47.2 L555.7 47.4 L508.1 47.7 L482.8 47.9 L472.4 48.2 L463.3 48.4 L459.4 48.7 L455.5 48.9 L453.8 49.2 L452.8 49.4 L451.8 49.7 L450.8 49.9 L449.8 50.2 L448.8 50.4 L448 50.7 L447.5 50.9 L447.1 51.2 L446.7 51.4 L446.3 51.7 L445.9 51.9 L445.5 52.2 L445.1 52.4 L444.7 52.7 L444.4 52.9 L442.9 53.9 L441.5 54.9 L440.4 55.9 L439.6 56.9 L438.8 57.9 L438 58.9 L437.2 59.9 L436.4 60.9 L435.7 61.9 L435 62.9 L434.5 63.9 L434 64.9 L433.5 65.9 L433 66.9 L432.6 67.9 L432.1 68.9 L431.6 69.9 L431.1 70.9 L430.6 71.9 L430.4 72.9 L430.1 73.9 L429.8 74.9 L429.5 75.9 L429.3 76.9 L429.3 76.9 L428.2 80.9 L427.2 84.9 L426.1 88.9 L425.1 92.9 L424.1 96.9 L423 100.9 L422.2 104.9 L421.5 108.9 L420.8 112.9 L420.2 116.9 L419.5 120.9 L418.9 124.9 L418.4 128.9 L417.9 132.9 L417.4 136.9 L416.9 140.9 L416.4 144.9 L415.9 148.9 L415.6 152.9 L415.3 156.9 L414.9 160.9 L414.6 164.9 L414.3 168.9 L414 172.9 L413.7 176.9 L413.4 180.9 L413.1 184.9 L412.8 188.9 L412.6 192.9 L412.3 196.9 L412 200.9 L411.7 204.9 L411.4 208.9 L411.2 212.9 L410.9 216.9 L410.6 220.9 L410.4 224.9 L410.2 228.9 L410 232.9 L409.8 236.9 L409.6 240.9 L409.4 244.9 L409.2 248.9 L409 252.9 L408.8 256.6 L408.8 260.6 Z"/>
<path fill="#9ac7e5" d="M390.9 260.6 L390.9 42.9 L639.9 42.9 L639.9 46.9 L590.5 47.2 L545.9 47.4 L501.2 47.7 L477.6 47.9 L468 48.2 L459.5 48.4 L455.7 48.7 L452 48.9 L450.4 49.2 L449.4 49.4 L448.5 49.7 L447.5 49.9 L446.5 50.2 L445.6 50.4 L444.8 50.7 L444.5 50.9 L444.1 51.2 L443.7 51.4 L443.3 51.7 L443 51.9 L442.6 52.2 L442.2 52.4 L441.9 52.7 L441.6 52.9 L440.1 53.9 L438.7 54.9 L437.7 55.9 L436.9 56.9 L436.2 57.9 L435.4 58.9 L434.7 59.9 L433.9 60.9 L433.2 61.9 L432.5 62.9 L432.1 63.9 L431.6 64.9 L431.2 65.9 L430.7 66.9 L430.3 67.9 L429.8 68.9 L429.4 69.9 L428.9 70.9 L428.5 71.9 L428.2 72.9 L428 73.9 L427.7 74.9 L427.5 75.9 L427.2 76.9 L427.2 76.9 L426.3 80.9 L425.3 84.9 L424.3 88.9 L423.4 92.9 L422.4 96.9 L421.4 100.9 L420.6 104.9 L420 108.9 L419.3 112.9 L418.7 116.9 L418.1 120.9 L417.5 124.9 L417 128.9 L416.5 132.9 L416 136.9 L415.6 140.9 L415.1 144.9 L414.7 148.9 L414.4 152.9 L414 156.9 L413.7 160.9 L413.4 164.9 L413.1 168.9 L412.8 172.9 L412.6 176.9 L412.3 180.9 L412 184.9 L411.8 188.9 L411.5 192.9 L411.2 196.9 L411 200.9 L410.7 204.9 L410.4 208.9 L410.2 212.9 L409.9 216.9 L409.6 220.9 L409.4 224.9 L409.3 228.9 L409.1 232.9 L408.9 236.9 L408.7 240.9 L408.5 244.9 L408.3 248.9 L408.1 252.9 L407.9 256.6 L407.9 260.6 Z"/>
<path fill="#94c4e3" d="M390.9 260.6 L390.9 42.9 L639.9 42.9 L639.9 46.9 L580.2 47.2 L537.5 47.4 L495.2 47.7 L473.1 47.9 L463.9 48.2 L456.1 48.4 L452.5 48.7 L448.9 48.9 L447.4 49.2 L446.5 49.4 L445.6 49.7 L444.6 49.9 L443.7 50.2 L442.8 50.4 L442.1 50.7 L441.8 50.9 L441.4 51.2 L441 51.4 L440.7 51.7 L440.3 51.9 L440 52.2 L439.6 52.4 L439.3 52.7 L439 52.9 L437.6 53.9 L436.3 54.9 L435.3 55.9 L434.6 56.9 L433.8 57.9 L433.1 58.9 L432.4 59.9 L431.7 60.9 L431 61.9 L430.4 62.9 L430 63.9 L429.5 64.9 L429.1 65.9 L428.7 66.9 L428.3 67.9 L427.8 68.9 L427.4 69.9 L427 70.9 L426.6 71.9 L426.4 72.9 L426.1 73.9 L425.9 74.9 L425.7 75.9 L425.4 76.9 L425.4 76.9 L424.5 80.9 L423.6 84.9 L422.7 88.9 L421.8 92.9 L420.8 96.9 L419.9 100.9 L419.1 104.9 L418.5 108.9 L417.9 112.9 L417.4 116.9 L416.8 120.9 L416.2 124.9 L415.7 128.9 L415.3 132.9 L414.9 136.9 L414.4 140.9 L414 144.9 L413.5 148.9 L413.3 152.9 L413 156.9 L412.7 160.9 L412.4 164.9 L412.1 168.9 L411.8 172.9 L411.6 176.9 L411.3 180.9 L411.1 184.9 L410.8 188.9 L410.6 192.9 L410.3 196.9 L410 200.9 L409.8 204.9 L409.5 208.9 L409.3 212.9 L409 216.9 L408.8 220.9 L408.6 224.9 L408.4 228.9 L408.2 232.9 L408.1 236.9 L407.9 240.9 L407.7 244.9 L407.5 248.9 L407.3 252.9 L407.2 256.6 L407.2 260.6 Z"/>
<path fill="#8ec0e2" d="M390.9 260.6 L390.9 42.9 L639.9 42.9 L639.9 46.9 L572.9 47.2 L530.6 47.4 L489.8 47.7 L469.2 47.9 L460.1 48.2 L453 48.4 L449.6 48.7 L446.1 48.9 L444.8 49.2 L443.9 49.4 L443 49.7 L442.1 49.9 L441.3 50.2 L440.4 50.4 L439.7 50.7 L439.4 50.9 L439 51.2 L438.6 51.4 L438.3 51.7 L437.9 51.9 L437.5 52.2 L437.2 52.4 L436.9 52.7 L436.6 52.9 L435.4 53.9 L434.1 54.9 L433.1 55.9 L432.4 56.9 L431.7 57.9 L431.1 58.9 L430.4 59.9 L429.7 60.9 L429.1 61.9 L428.5 62.9 L428.1 63.9 L427.7 64.9 L427.3 65.9 L426.9 66.9 L426.5 67.9 L426.1 68.9 L425.7 69.9 L425.3 70.9 L424.9 71.9 L424.6 72.9 L424.4 73.9 L424.2 74.9 L424 75.9 L423.7 76.9 L423.7 76.9 L422.9 80.9 L422 84.9 L421.1 88.9 L420.2 92.9 L419.4 96.9 L418.5 100.9 L417.8 104.9 L417.2 108.9 L416.7 112.9 L416.1 116.9 L415.6 120.9 L415 124.9 L414.6 128.9 L414.2 132.9 L413.8 136.9 L413.4 140.9 L413 144.9 L412.5 148.9 L412.3 152.9 L412 156.9 L411.7 160.9 L411.5 164.9 L411.2 168.9 L411 172.9 L410.7 176.9 L410.5 180.9 L410.2 184.9 L410 188.9 L409.7 192.9 L409.5 196.9 L409.2 200.9 L409 204.9 L408.8 208.9 L408.5 212.9 L408.3 216.9 L408 220.9 L407.9 224.9 L407.7 228.9 L407.5 232.9 L407.4 236.9 L407.2 240.9 L407 244.9 L406.9 248.9 L406.7 252.9 L406.5 256.6 L406.5 260.6 Z"/>
<path fill="#88bde0" d="M390.9 260.6 L390.9 42.9 L639.9 42.9 L639.9 46.9 L566.3 47.2 L524.3 47.4 L485 47.7 L465.7 47.9 L456.7 48.2 L450.1 48.4 L446.9 48.7 L443.7 48.9 L442.4 49.2 L441.6 49.4 L440.7 49.7 L439.9 49.9 L439.1 50.2 L438.3 50.4 L437.6 50.7 L437.2 50.9 L436.8 51.2 L436.5 51.4 L436.1 51.7 L435.7 51.9 L435.4 52.2 L435.1 52.4 L434.8 52.7 L434.5 52.9 L433.3 53.9 L432.1 54.9 L431.2 55.9 L430.5 56.9 L429.8 57.9 L429.2 58.9 L428.6 59.9 L428 60.9 L427.3 61.9 L426.8 62.9 L426.4 63.9 L426 64.9 L425.6 65.9 L425.2 66.9 L424.8 67.9 L424.5 68.9 L424.1 69.9 L423.7 70.9 L423.3 71.9 L423.1 72.9 L422.9 73.9 L422.7 74.9 L422.4 75.9 L422.2 76.9 L422.2 76.9 L421.4 80.9 L420.5 84.9 L419.7 88.9 L418.9 92.9 L418.1 96.9 L417.2 100.9 L416.5 104.9 L416 108.9 L415.5 112.9 L415 116.9 L414.5 120.9 L414 124.9 L413.5 128.9 L413.2 132.9 L412.8 136.9 L412.4 140.9 L412 144.9 L411.7 148.9 L411.4 152.9 L411.2 156.9 L410.9 160.9 L410.7 164.9 L410.4 168.9 L410.2 172.9 L409.9 176.9 L409.7 180.9 L409.5 184.9 L409.2 188.9 L409 192.9 L408.8 196.9 L408.5 200.9 L408.3 204.9 L408.1 208.9 L407.8 212.9 L407.6 216.9 L407.4 220.9 L407.2 224.9 L407.1 228.9 L406.9 232.9 L406.8 236.9 L406.6 240.9 L406.4 244.9 L406.3 248.9 L406.1 252.9 L406 256.6 L406 260.6 Z"/>
<path fill="#82badf" d="M390.9 260.6 L390.9 42.9 L639.9 42.9 L639.9 46.9 L560.2 47.2 L518.6 47.4 L480.7 47.7 L462.6 47.9 L453.6 48.2 L447.6 48.4 L444.5 48.7 L441.5 48.9 L440.2 49.2 L439.5 49.4 L438.7 49.7 L437.9 49.9 L437.1 50.2 L436.3 50.4 L435.7 50.7 L435.3 50.9 L434.9 51.2 L434.5 51.4 L434.1 51.7 L433.7 51.9 L433.4 52.2 L433.1 52.4 L432.8 52.7 L432.6 52.9 L431.4 53.9 L430.3 54.9 L429.4 55.9 L428.7 56.9 L428.1 57.9 L427.5 58.9 L426.9 59.9 L426.3 60.9 L425.8 61.9 L425.2 62.9 L424.9 63.9 L424.5 64.9 L424.1 65.9 L423.7 66.9 L423.4 67.9 L423 68.9 L422.7 69.9 L422.3 70.9 L422 71.9 L421.7 72.9 L421.5 73.9 L421.3 74.9 L421.1 75.9 L420.8 76.9 L420.8 76.9 L420 80.9 L419.2 84.9 L418.4 88.9 L417.7 92.9 L416.9 96.9 L416.1 100.9 L415.5 104.9 L415 108.9 L414.5 112.9 L414 116.9 L413.5 120.9 L413 124.9 L412.6 128.9 L412.2 132.9 L411.9 136.9 L411.6 140.9 L411.2 144.9 L410.9 148.9 L410.6 152.9 L410.4 156.9 L410.2 160.9 L409.9 164.9 L409.7 168.9 L409.5 172.9 L409.3 176.9 L409 180.9 L408.8 184.9 L408.6 188.9 L408.3 192.9 L408.1 196.9 L407.9 200.9 L407.7 204.9 L407.4 208.9 L407.2 212.9 L407 216.9 L406.8 220.9 L406.6 224.9 L406.5 228.9 L406.3 232.9 L406.2 236.9 L406 240.9 L405.9 244.9 L405.8 248.9 L405.6 252.9 L405.5 256.6 L405.5 260.6 Z"/>
<path fill="#7bb6dd" d="M390.9 260.6 L390.9 42.9 L639.9 42.9 L639.9 46.9 L554.6 47.2 L513.4 47.4 L476.7 47.7 L459.7 47.9 L450.8 48.2 L445.3 48.4 L442.4 48.7 L439.5 48.9 L438.3 49.2 L437.5 49.4 L436.8 49.7 L436 49.9 L435.3 50.2 L434.5 50.4 L433.9 50.7 L433.5 50.9 L433.1 51.2 L432.7 51.4 L432.3 51.7 L431.9 51.9 L431.6 52.2 L431.4 52.4 L431.1 52.7 L430.9 52.9 L429.8 53.9 L428.7 54.9 L427.8 55.9 L427.2 56.9 L426.5 57.9 L426 58.9 L425.4 59.9 L424.9 60.9 L424.3 61.9 L423.8 62.9 L423.5 63.9 L423.1 64.9 L422.7 65.9 L422.4 66.9 L422.1 67.9 L421.7 68.9 L421.4 69.9 L421 70.9 L420.7 71.9 L420.5 72.9 L420.3 73.9 L420 74.9 L419.8 75.9 L419.6 76.9 L419.6 76.9 L418.8 80.9 L418.1 84.9 L417.3 88.9 L416.6 92.9 L415.8 96.9 L415.1 100.9 L414.5 104.9 L414 108.9 L413.5 112.9 L413.1 116.9 L412.6 120.9 L412.1 124.9 L411.8 128.9 L411.4 132.9 L411.1 136.9 L410.8 140.9 L410.5 144.9 L410.1 148.9 L409.9 152.9 L409.7 156.9 L409.5 160.9 L409.2 164.9 L409 168.9 L408.8 172.9 L408.6 176.9 L408.4 180.9 L408.2 184.9 L408 188.9 L407.7 192.9 L407.5 196.9 L407.3 200.9 L407.1 204.9 L406.9 208.9 L406.7 212.9 L406.4 216.9 L406.2 220.9 L406.1 224.9 L406 228.9 L405.8 232.9 L405.7 236.9 L405.6 240.9 L405.4 244.9 L405.3 248.9 L405.1 252.9 L405 256.6 L405 260.6 Z"/>
<path fill="#75b3db" d="M390.9 260.6 L390.9 42.9 L639.9 42.9 L639.9 46.9 L549.4 47.2 L508.7 47.4 L473.1 47.7 L457.1 47.9 L448.2 48.2 L443.1 48.4 L440.4 48.7 L437.6 48.9 L436.5 49.2 L435.8 49.4 L435.1 49.7 L434.3 49.9 L433.6 50.2 L432.9 50.4 L432.3 50.7 L431.9 50.9 L431.5 51.2 L431.1 51.4 L430.7 51.7 L430.3 51.9 L430 52.2 L429.7 52.4 L429.5 52.7 L429.3 52.9 L428.2 53.9 L427.2 54.9 L426.4 55.9 L425.7 56.9 L425.1 57.9 L424.6 58.9 L424.1 59.9 L423.6 60.9 L423 61.9 L422.6 62.9 L422.2 63.9 L421.8 64.9 L421.5 65.9 L421.2 66.9 L420.9 67.9 L420.5 68.9 L420.2 69.9 L419.9 70.9 L419.6 71.9 L419.4 72.9 L419.1 73.9 L418.9 74.9 L418.7 75.9 L418.5 76.9 L418.5 76.9 L417.7 80.9 L417 84.9 L416.3 88.9 L415.6 92.9 L414.9 96.9 L414.2 100.9 L413.6 104.9 L413.1 108.9 L412.7 112.9 L412.2 116.9 L411.8 120.9 L411.4 124.9 L411 128.9 L410.7 132.9 L410.4 136.9 L410.1 140.9 L409.8 144.9 L409.5 148.9 L409.3 152.9 L409 156.9 L408.8 160.9 L408.6 164.9 L408.4 168.9 L408.2 172.9 L408 176.9 L407.8 180.9 L407.6 184.9 L407.4 188.9 L407.2 192.9 L407 196.9 L406.8 200.9 L406.6 204.9 L406.4 208.9 L406.1 212.9 L405.9 216.9 L405.7 220.9 L405.6 224.9 L405.5 228.9 L405.4 232.9 L405.2 236.9 L405.1 240.9 L405 244.9 L404.8 248.9 L404.7 252.9 L404.6 256.6 L404.6 260.6 Z"/>
<path fill="#6fafda" d="M390.9 260.6 L390.9 42.9 L639.9 42.9 L639.9 46.9 L544.6 47.2 L504.4 47.4 L469.8 47.7 L454.6 47.9 L445.9 48.2 L441.2 48.4 L438.6 48.7 L435.9 48.9 L434.9 49.2 L434.2 49.4 L433.5 49.7 L432.8 49.9 L432.1 50.2 L431.4 50.4 L430.8 50.7 L430.4 50.9 L430 51.2 L429.6 51.4 L429.2 51.7 L428.8 51.9 L428.5 52.2 L428.3 52.4 L428 52.7 L427.8 52.9 L426.8 53.9 L425.9 54.9 L425.1 55.9 L424.4 56.9 L423.8 57.9 L423.3 58.9 L422.9 59.9 L422.4 60.9 L421.9 61.9 L421.4 62.9 L421.1 63.9 L420.7 64.9 L420.4 65.9 L420.1 66.9 L419.8 67.9 L419.5 68.9 L419.1 69.9 L418.8 70.9 L418.5 71.9 L418.3 72.9 L418.1 73.9 L417.9 74.9 L417.7 75.9 L417.5 76.9 L417.5 76.9 L416.7 80.9 L416 84.9 L415.3 88.9 L414.6 92.9 L414 96.9 L413.3 100.9 L412.7 104.9 L412.3 108.9 L411.9 112.9 L411.5 116.9 L411.1 120.9 L410.7 124.9 L410.3 128.9 L410 132.9 L409.7 136.9 L409.4 140.9 L409.2 144.9 L408.9 148.9 L408.7 152.9 L408.5 156.9 L408.3 160.9 L408.1 164.9 L407.9 168.9 L407.7 172.9 L407.5 176.9 L407.3 180.9 L407.1 184.9 L406.9 188.9 L406.7 192.9 L406.5 196.9 L406.3 200.9 L406.1 204.9 L405.9 208.9 L405.7 212.9 L405.5 216.9 L405.3 220.9 L405.2 224.9 L405 228.9 L404.9 232.9 L404.8 236.9 L404.7 240.9 L404.6 244.9 L404.4 248.9 L404.3 252.9 L404.2 256.6 L404.2 260.6 Z"/>
<path fill="#69acd8" d="M390.9 260.6 L390.9 42.9 L639.9 42.9 L639.9 46.9 L540.2 47.2 L500.4 47.4 L466.8 47.7 L452.4 47.9 L443.8 48.2 L439.4 48.4 L436.9 48.7 L434.4 48.9 L433.4 49.2 L432.7 49.4 L432 49.7 L431.4 49.9 L430.7 50.2 L430 50.4 L429.5 50.7 L429.1 50.9 L428.7 51.2 L428.3 51.4 L427.8 51.7 L427.4 51.9 L427.2 52.2 L426.9 52.4 L426.7 52.7 L426.5 52.9 L425.6 53.9 L424.6 54.9 L423.9 55.9 L423.2 56.9 L422.7 57.9 L422.2 58.9 L421.7 59.9 L421.2 60.9 L420.8 61.9 L420.3 62.9 L420 63.9 L419.7 64.9 L419.3 65.9 L419 66.9 L418.8 67.9 L418.5 68.9 L418.2 69.9 L417.9 70.9 L417.6 71.9 L417.4 72.9 L417.2 73.9 L416.9 74.9 L416.7 75.9 L416.5 76.9 L416.5 76.9 L415.8 80.9 L415.1 84.9 L414.5 88.9 L413.8 92.9 L413.2 96.9 L412.6 100.9 L412 104.9 L411.6 108.9 L411.2 112.9 L410.8 116.9 L410.4 120.9 L410 124.9 L409.7 128.9 L409.4 132.9 L409.1 136.9 L408.8 140.9 L408.6 144.9 L408.3 148.9 L408.1 152.9 L407.9 156.9 L407.7 160.9 L407.6 164.9 L407.4 168.9 L407.2 172.9 L407 176.9 L406.8 180.9 L406.6 184.9 L406.4 188.9 L406.2 192.9 L406 196.9 L405.8 200.9 L405.6 204.9 L405.4 208.9 L405.2 212.9 L405 216.9 L404.9 220.9 L404.8 224.9 L404.6 228.9 L404.5 232.9 L404.4 236.9 L404.3 240.9 L404.2 244.9 L404.1 248.9 L404 252.9 L403.8 256.6 L403.8 260.6 Z"/>
<path fill="#63a9d7" d="M390.9 260.6 L390.9 42.9 L639.9 42.9 L639.9 46.9 L536.1 47.2 L496.7 47.4 L464.1 47.7 L450.4 47.9 L441.8 48.2 L437.8 48.4 L435.4 48.7 L433 48.9 L432 49.2 L431.3 49.4 L430.7 49.7 L430.1 49.9 L429.4 50.2 L428.8 50.4 L428.2 50.7 L427.8 50.9 L427.4 51.2 L427 51.4 L426.6 51.7 L426.2 51.9 L425.9 52.2 L425.7 52.4 L425.5 52.7 L425.3 52.9 L424.4 53.9 L423.5 54.9 L422.7 55.9 L422.1 56.9 L421.6 57.9 L421.1 58.9 L420.7 59.9 L420.2 60.9 L419.8 61.9 L419.4 62.9 L419 63.9 L418.7 64.9 L418.4 65.9 L418.1 66.9 L417.8 67.9 L417.5 68.9 L417.3 69.9 L417 70.9 L416.7 71.9 L416.5 72.9 L416.3 73.9 L416.1 74.9 L415.9 75.9 L415.6 76.9 L415.6 76.9 L415 80.9 L414.3 84.9 L413.7 88.9 L413 92.9 L412.4 96.9 L411.8 100.9 L411.3 104.9 L410.9 108.9 L410.5 112.9 L410.2 116.9 L409.8 120.9 L409.4 124.9 L409.1 128.9 L408.8 132.9 L408.5 136.9 L408.3 140.9 L408.1 144.9 L407.8 148.9 L407.6 152.9 L407.4 156.9 L407.3 160.9 L407.1 164.9 L406.9 168.9 L406.7 172.9 L406.6 176.9 L406.4 180.9 L406.2 184.9 L406 188.9 L405.8 192.9 L405.6 196.9 L405.4 200.9 L405.2 204.9 L405 208.9 L404.9 212.9 L404.7 216.9 L404.5 220.9 L404.4 224.9 L404.3 228.9 L404.2 232.9 L404.1 236.9 L403.9 240.9 L403.8 244.9 L403.7 248.9 L403.6 252.9 L403.5 256.6 L403.5 260.6 Z"/>
<path fill="#5da5d5" d="M390.9 260.6 L390.9 42.9 L639.9 42.9 L639.9 46.9 L532.2 47.2 L493.2 47.4 L461.5 47.7 L448.5 47.9 L440 48.2 L436.2 48.4 L433.9 48.7 L431.6 48.9 L430.7 49.2 L430.1 49.4 L429.5 49.7 L428.8 49.9 L428.2 50.2 L427.6 50.4 L427.1 50.7 L426.7 50.9 L426.3 51.2 L425.8 51.4 L425.4 51.7 L425 51.9 L424.8 52.2 L424.5 52.4 L424.3 52.7 L424.1 52.9 L423.3 53.9 L422.4 54.9 L421.7 55.9 L421.1 56.9 L420.6 57.9 L420.1 58.9 L419.7 59.9 L419.3 60.9 L418.9 61.9 L418.5 62.9 L418.1 63.9 L417.8 64.9 L417.5 65.9 L417.2 66.9 L417 67.9 L416.7 68.9 L416.4 69.9 L416.2 70.9 L415.9 71.9 L415.7 72.9 L415.5 73.9 L415.3 74.9 L415.1 75.9 L414.9 76.9 L414.9 76.9 L414.2 80.9 L413.6 84.9 L412.9 88.9 L412.3 92.9 L411.8 96.9 L411.2 100.9 L410.7 104.9 L410.3 108.9 L409.9 112.9 L409.6 116.9 L409.2 120.9 L408.9 124.9 L408.5 128.9 L408.3 132.9 L408 136.9 L407.8 140.9 L407.6 144.9 L407.3 148.9 L407.2 152.9 L407 156.9 L406.8 160.9 L406.6 164.9 L406.5 168.9 L406.3 172.9 L406.2 176.9 L406 180.9 L405.8 184.9 L405.6 188.9 L405.4 192.9 L405.2 196.9 L405 200.9 L404.9 204.9 L404.7 208.9 L404.5 212.9 L404.3 216.9 L404.1 220.9 L404 224.9 L403.9 228.9 L403.8 232.9 L403.7 236.9 L403.6 240.9 L403.5 244.9 L403.4 248.9 L403.3 252.9 L403.2 256.6 L403.2 260.6 Z"/>
<path fill="#57a2d3" d="M390.9 260.6 L390.9 42.9 L639.9 42.9 L639.9 46.9 L528.6 47.2 L490 47.4 L459.1 47.7 L446.7 47.9 L438.3 48.2 L434.8 48.4 L432.6 48.7 L430.4 48.9 L429.5 49.2 L428.9 49.4 L428.3 49.7 L427.7 49.9 L427.1 50.2 L426.5 50.4 L426 50.7 L425.6 50.9 L425.2 51.2 L424.8 51.4 L424.3 51.7 L423.9 51.9 L423.7 52.2 L423.5 52.4 L423.3 52.7 L423.1 52.9 L422.3 53.9 L421.5 54.9 L420.7 55.9 L420.1 56.9 L419.6 57.9 L419.2 58.9 L418.8 59.9 L418.4 60.9 L418 61.9 L417.6 62.9 L417.3 63.9 L417 64.9 L416.7 65.9 L416.4 66.9 L416.2 67.9 L415.9 68.9 L415.6 69.9 L415.4 70.9 L415.1 71.9 L414.9 72.9 L414.7 73.9 L414.5 74.9 L414.3 75.9 L414.1 76.9 L414.1 76.9 L413.5 80.9 L412.9 84.9 L412.3 88.9 L411.7 92.9 L411.1 96.9 L410.6 100.9 L410.1 104.9 L409.7 108.9 L409.4 112.9 L409 116.9 L408.7 120.9 L408.3 124.9 L408 128.9 L407.8 132.9 L407.6 136.9 L407.3 140.9 L407.1 144.9 L406.9 148.9 L406.7 152.9 L406.6 156.9 L406.4 160.9 L406.2 164.9 L406.1 168.9 L405.9 172.9 L405.8 176.9 L405.6 180.9 L405.4 184.9 L405.2 188.9 L405.1 192.9 L404.9 196.9 L404.7 200.9 L404.5 204.9 L404.3 208.9 L404.2 212.9 L404 216.9 L403.8 220.9 L403.7 224.9 L403.6 228.9 L403.5 232.9 L403.4 236.9 L403.3 240.9 L403.2 244.9 L403.1 248.9 L403 252.9 L402.9 256.6 L402.9 260.6 Z"/>
<path fill="#519fd2" d="M390.9 260.6 L390.9 42.9 L639.9 42.9 L639.9 46.9 L525.2 47.2 L487.1 47.4 L456.9 47.7 L445 47.9 L436.8 48.2 L433.5 48.4 L431.4 48.7 L429.3 48.9 L428.4 49.2 L427.8 49.4 L427.2 49.7 L426.7 49.9 L426.1 50.2 L425.5 50.4 L425 50.7 L424.6 50.9 L424.2 51.2 L423.8 51.4 L423.3 51.7 L422.9 51.9 L422.7 52.2 L422.5 52.4 L422.3 52.7 L422.1 52.9 L421.3 53.9 L420.5 54.9 L419.9 55.9 L419.2 56.9 L418.8 57.9 L418.4 58.9 L418 59.9 L417.6 60.9 L417.2 61.9 L416.8 62.9 L416.5 63.9 L416.2 64.9 L415.9 65.9 L415.7 66.9 L415.4 67.9 L415.2 68.9 L414.9 69.9 L414.7 70.9 L414.4 71.9 L414.2 72.9 L414 73.9 L413.8 74.9 L413.6 75.9 L413.4 76.9 L413.4 76.9 L412.8 80.9 L412.2 84.9 L411.6 88.9 L411.1 92.9 L410.5 96.9 L410 100.9 L409.5 104.9 L409.2 108.9 L408.8 112.9 L408.5 116.9 L408.2 120.9 L407.9 124.9 L407.6 128.9 L407.3 132.9 L407.1 136.9 L406.9 140.9 L406.7 144.9 L406.5 148.9 L406.3 152.9 L406.2 156.9 L406 160.9 L405.9 164.9 L405.7 168.9 L405.6 172.9 L405.4 176.9 L405.2 180.9 L405.1 184.9 L404.9 188.9 L404.7 192.9 L404.5 196.9 L404.4 200.9 L404.2 204.9 L404 208.9 L403.8 212.9 L403.7 216.9 L403.5 220.9 L403.4 224.9 L403.3 228.9 L403.2 232.9 L403.1 236.9 L403 240.9 L402.9 244.9 L402.8 248.9 L402.8 252.9 L402.7 256.6 L402.7 260.6 Z"/>
<path fill="#4a9bd0" d="M390.9 260.6 L390.9 42.9 L639.9 42.9 L639.9 46.9 L522 47.2 L484.3 47.4 L454.8 47.7 L443.5 47.9 L435.3 48.2 L432.3 48.4 L430.2 48.7 L428.2 48.9 L427.3 49.2 L426.8 49.4 L426.2 49.7 L425.7 49.9 L425.1 50.2 L424.6 50.4 L424.1 50.7 L423.6 50.9 L423.2 51.2 L422.8 51.4 L422.4 51.7 L422 51.9 L421.8 52.2 L421.6 52.4 L421.4 52.7 L421.2 52.9 L420.5 53.9 L419.7 54.9 L419 55.9 L418.4 56.9 L418 57.9 L417.6 58.9 L417.2 59.9 L416.8 60.9 L416.5 61.9 L416.1 62.9 L415.8 63.9 L415.5 64.9 L415.2 65.9 L415 66.9 L414.7 67.9 L414.5 68.9 L414.3 69.9 L414 70.9 L413.8 71.9 L413.6 72.9 L413.4 73.9 L413.2 74.9 L413 75.9 L412.8 76.9 L412.8 76.9 L412.2 80.9 L411.6 84.9 L411 88.9 L410.5 92.9 L410 96.9 L409.5 100.9 L409 104.9 L408.7 108.9 L408.4 112.9 L408 116.9 L407.7 120.9 L407.4 124.9 L407.1 128.9 L406.9 132.9 L406.7 136.9 L406.5 140.9 L406.3 144.9 L406.1 148.9 L406 152.9 L405.8 156.9 L405.6 160.9 L405.5 164.9 L405.4 168.9 L405.2 172.9 L405.1 176.9 L404.9 180.9 L404.7 184.9 L404.6 188.9 L404.4 192.9 L404.2 196.9 L404.1 200.9 L403.9 204.9 L403.7 208.9 L403.5 212.9 L403.4 216.9 L403.2 220.9 L403.1 224.9 L403 228.9 L403 232.9 L402.9 236.9 L402.8 240.9 L402.7 244.9 L402.6 248.9 L402.5 252.9 L402.4 256.6 L402.4 260.6 Z"/>
<path fill="#4498cf" d="M390.9 260.6 L390.9 42.9 L639.9 42.9 L639.9 46.9 L519 47.2 L481.7 47.4 L452.9 47.7 L442 47.9 L434 48.2 L431.1 48.4 L429.1 48.7 L427.2 48.9 L426.3 49.2 L425.8 49.4 L425.3 49.7 L424.7 49.9 L424.2 50.2 L423.7 50.4 L423.2 50.7 L422.8 50.9 L422.4 51.2 L421.9 51.4 L421.5 51.7 L421.1 51.9 L420.9 52.2 L420.7 52.4 L420.5 52.7 L420.4 52.9 L419.6 53.9 L418.9 54.9 L418.2 55.9 L417.7 56.9 L417.2 57.9 L416.8 58.9 L416.5 59.9 L416.1 60.9 L415.8 61.9 L415.4 62.9 L415.1 63.9 L414.8 64.9 L414.6 65.9 L414.3 66.9 L414.1 67.9 L413.9 68.9 L413.6 69.9 L413.4 70.9 L413.2 71.9 L413 72.9 L412.8 73.9 L412.6 74.9 L412.4 75.9 L412.2 76.9 L412.2 76.9 L411.6 80.9 L411.1 84.9 L410.5 88.9 L410 92.9 L409.5 96.9 L409 100.9 L408.5 104.9 L408.2 108.9 L407.9 112.9 L407.6 116.9 L407.3 120.9 L407 124.9 L406.7 128.9 L406.5 132.9 L406.3 136.9 L406.1 140.9 L405.9 144.9 L405.8 148.9 L405.6 152.9 L405.4 156.9 L405.3 160.9 L405.2 164.9 L405 168.9 L404.9 172.9 L404.8 176.9 L404.6 180.9 L404.4 184.9 L404.3 188.9 L404.1 192.9 L403.9 196.9 L403.8 200.9 L403.6 204.9 L403.4 208.9 L403.3 212.9 L403.1 216.9 L403 220.9 L402.9 224.9 L402.8 228.9 L402.7 232.9 L402.6 236.9 L402.5 240.9 L402.4 244.9 L402.4 248.9 L402.3 252.9 L402.2 256.6 L402.2 260.6 Z"/>
<path fill="#3e94cd" d="M390.9 260.6 L390.9 42.9 L639.9 42.9 L639.9 46.9 L516.2 47.2 L479.2 47.4 L451.1 47.7 L440.7 47.9 L432.7 48.2 L430 48.4 L428.1 48.7 L426.2 48.9 L425.4 49.2 L424.9 49.4 L424.4 49.7 L423.9 49.9 L423.4 50.2 L422.8 50.4 L422.4 50.7 L421.9 50.9 L421.5 51.2 L421.1 51.4 L420.7 51.7 L420.3 51.9 L420.1 52.2 L419.9 52.4 L419.7 52.7 L419.6 52.9 L418.9 53.9 L418.2 54.9 L417.5 55.9 L416.9 56.9 L416.5 57.9 L416.1 58.9 L415.8 59.9 L415.5 60.9 L415.1 61.9 L414.8 62.9 L414.5 63.9 L414.2 64.9 L413.9 65.9 L413.7 66.9 L413.5 67.9 L413.3 68.9 L413 69.9 L412.8 70.9 L412.6 71.9 L412.4 72.9 L412.2 73.9 L412 74.9 L411.8 75.9 L411.6 76.9 L411.6 76.9 L411.1 80.9 L410.5 84.9 L410 88.9 L409.5 92.9 L409 96.9 L408.5 100.9 L408.1 104.9 L407.8 108.9 L407.5 112.9 L407.2 116.9 L406.9 120.9 L406.6 124.9 L406.4 128.9 L406.1 132.9 L405.9 136.9 L405.8 140.9 L405.6 144.9 L405.4 148.9 L405.3 152.9 L405.1 156.9 L405 160.9 L404.9 164.9 L404.7 168.9 L404.6 172.9 L404.5 176.9 L404.3 180.9 L404.2 184.9 L404 188.9 L403.8 192.9 L403.7 196.9 L403.5 200.9 L403.3 204.9 L403.2 208.9 L403 212.9 L402.8 216.9 L402.7 220.9 L402.6 224.9 L402.5 228.9 L402.5 232.9 L402.4 236.9 L402.3 240.9 L402.2 244.9 L402.1 248.9 L402.1 252.9 L402 256.6 L402 260.6 Z"/>
<path fill="#3891cc" d="M390.9 260.6 L390.9 42.9 L633.9 42.9 L633.9 46.9 L513.5 47.2 L476.9 47.4 L449.4 47.7 L439.4 47.9 L431.5 48.2 L429 48.4 L427.2 48.7 L425.3 48.9 L424.6 49.2 L424.1 49.4 L423.6 49.7 L423.1 49.9 L422.6 50.2 L422.1 50.4 L421.6 50.7 L421.2 50.9 L420.8 51.2 L420.4 51.4 L419.9 51.7 L419.5 51.9 L419.3 52.2 L419.1 52.4 L419 52.7 L418.8 52.9 L418.1 53.9 L417.5 54.9 L416.8 55.9 L416.3 56.9 L415.8 57.9 L415.5 58.9 L415.2 59.9 L414.8 60.9 L414.5 61.9 L414.2 62.9 L413.9 63.9 L413.6 64.9 L413.4 65.9 L413.2 66.9 L412.9 67.9 L412.7 68.9 L412.5 69.9 L412.3 70.9 L412.1 71.9 L411.9 72.9 L411.7 73.9 L411.5 74.9 L411.3 75.9 L411.1 76.9 L411.1 76.9 L410.6 80.9 L410 84.9 L409.5 88.9 L409 92.9 L408.6 96.9 L408.1 100.9 L407.7 104.9 L407.4 108.9 L407.1 112.9 L406.8 116.9 L406.5 120.9 L406.3 124.9 L406 128.9 L405.8 132.9 L405.6 136.9 L405.4 140.9 L405.3 144.9 L405.1 148.9 L405 152.9 L404.8 156.9 L404.7 160.9 L404.6 164.9 L404.4 168.9 L404.3 172.9 L404.2 176.9 L404 180.9 L403.9 184.9 L403.7 188.9 L403.6 192.9 L403.4 196.9 L403.2 200.9 L403.1 204.9 L402.9 208.9 L402.8 212.9 L402.6 216.9 L402.5 220.9 L402.4 224.9 L402.3 228.9 L402.2 232.9 L402.2 236.9 L402.1 240.9 L402 244.9 L401.9 248.9 L401.8 252.9 L401.8 256.6 L401.8 260.6 Z"/>
<path fill="#328eca" d="M390.9 260.6 L390.9 42.9 L627.4 42.9 L627.4 46.9 L510.9 47.2 L474.7 47.4 L447.8 47.7 L438.2 47.9 L430.4 48.2 L428.1 48.4 L426.3 48.7 L424.5 48.9 L423.8 49.2 L423.3 49.4 L422.8 49.7 L422.3 49.9 L421.8 50.2 L421.3 50.4 L420.9 50.7 L420.4 50.9 L420 51.2 L419.6 51.4 L419.2 51.7 L418.8 51.9 L418.6 52.2 L418.4 52.4 L418.3 52.7 L418.1 52.9 L417.5 53.9 L416.8 54.9 L416.2 55.9 L415.6 56.9 L415.2 57.9 L414.9 58.9 L414.6 59.9 L414.2 60.9 L413.9 61.9 L413.6 62.9 L413.3 63.9 L413.1 64.9 L412.8 65.9 L412.6 66.9 L412.4 67.9 L412.2 68.9 L412 69.9 L411.8 70.9 L411.6 71.9 L411.4 72.9 L411.2 73.9 L411 74.9 L410.8 75.9 L410.6 76.9 L410.6 76.9 L410.1 80.9 L409.6 84.9 L409.1 88.9 L408.6 92.9 L408.1 96.9 L407.7 100.9 L407.3 104.9 L407 108.9 L406.7 112.9 L406.5 116.9 L406.2 120.9 L405.9 124.9 L405.7 128.9 L405.4 132.9 L405.3 136.9 L405.1 140.9 L405 144.9 L404.8 148.9 L404.7 152.9 L404.5 156.9 L404.4 160.9 L404.3 164.9 L404.2 168.9 L404.1 172.9 L403.9 176.9 L403.8 180.9 L403.6 184.9 L403.5 188.9 L403.3 192.9 L403.2 196.9 L403 200.9 L402.9 204.9 L402.7 208.9 L402.5 212.9 L402.4 216.9 L402.3 220.9 L402.2 224.9 L402.1 228.9 L402 232.9 L402 236.9 L401.9 240.9 L401.8 244.9 L401.7 248.9 L401.7 252.9 L401.6 256.6 L401.6 260.6 Z"/>
<path fill="#2c8ac8" d="M390.9 260.6 L390.9 42.9 L621.2 42.9 L621.2 46.9 L508.5 47.2 L472.7 47.4 L446.3 47.7 L437.1 47.9 L429.4 48.2 L427.2 48.4 L425.4 48.7 L423.7 48.9 L423 49.2 L422.5 49.4 L422 49.7 L421.6 49.9 L421.1 50.2 L420.6 50.4 L420.2 50.7 L419.8 50.9 L419.4 51.2 L418.9 51.4 L418.5 51.7 L418.1 51.9 L417.9 52.2 L417.8 52.4 L417.6 52.7 L417.5 52.9 L416.8 53.9 L416.2 54.9 L415.6 55.9 L415 56.9 L414.6 57.9 L414.3 58.9 L414 59.9 L413.7 60.9 L413.4 61.9 L413.1 62.9 L412.8 63.9 L412.5 64.9 L412.3 65.9 L412.1 66.9 L411.9 67.9 L411.7 68.9 L411.5 69.9 L411.3 70.9 L411.1 71.9 L410.9 72.9 L410.7 73.9 L410.5 74.9 L410.3 75.9 L410.2 76.9 L410.2 76.9 L409.6 80.9 L409.1 84.9 L408.6 88.9 L408.2 92.9 L407.8 96.9 L407.3 100.9 L406.9 104.9 L406.6 108.9 L406.4 112.9 L406.1 116.9 L405.9 120.9 L405.6 124.9 L405.3 128.9 L405.1 132.9 L405 136.9 L404.8 140.9 L404.7 144.9 L404.5 148.9 L404.4 152.9 L404.3 156.9 L404.2 160.9 L404 164.9 L403.9 168.9 L403.8 172.9 L403.7 176.9 L403.5 180.9 L403.4 184.9 L403.2 188.9 L403.1 192.9 L402.9 196.9 L402.8 200.9 L402.6 204.9 L402.5 208.9 L402.3 212.9 L402.2 216.9 L402 220.9 L402 224.9 L401.9 228.9 L401.8 232.9 L401.8 236.9 L401.7 240.9 L401.6 244.9 L401.5 248.9 L401.5 252.9 L401.4 256.6 L401.4 260.6 Z"/>
<path fill="#2687c7" d="M390.9 260.6 L390.9 42.9 L615.4 42.9 L615.4 46.9 L506.2 47.2 L470.7 47.4 L444.9 47.7 L436 47.9 L428.4 48.2 L426.3 48.4 L424.6 48.7 L423 48.9 L422.3 49.2 L421.8 49.4 L421.3 49.7 L420.9 49.9 L420.4 50.2 L420 50.4 L419.5 50.7 L419.1 50.9 L418.7 51.2 L418.3 51.4 L417.9 51.7 L417.5 51.9 L417.3 52.2 L417.1 52.4 L417 52.7 L416.8 52.9 L416.2 53.9 L415.6 54.9 L415 55.9 L414.5 56.9 L414.1 57.9 L413.8 58.9 L413.5 59.9 L413.2 60.9 L412.9 61.9 L412.6 62.9 L412.3 63.9 L412 64.9 L411.8 65.9 L411.6 66.9 L411.4 67.9 L411.2 68.9 L411 69.9 L410.8 70.9 L410.6 71.9 L410.4 72.9 L410.3 73.9 L410.1 74.9 L409.9 75.9 L409.7 76.9 L409.7 76.9 L409.2 80.9 L408.7 84.9 L408.2 88.9 L407.8 92.9 L407.4 96.9 L407 100.9 L406.6 104.9 L406.3 108.9 L406 112.9 L405.8 116.9 L405.5 120.9 L405.3 124.9 L405.1 128.9 L404.8 132.9 L404.7 136.9 L404.6 140.9 L404.4 144.9 L404.3 148.9 L404.1 152.9 L404 156.9 L403.9 160.9 L403.8 164.9 L403.7 168.9 L403.6 172.9 L403.5 176.9 L403.3 180.9 L403.2 184.9 L403 188.9 L402.9 192.9 L402.7 196.9 L402.6 200.9 L402.4 204.9 L402.3 208.9 L402.1 212.9 L402 216.9 L401.9 220.9 L401.8 224.9 L401.7 228.9 L401.6 232.9 L401.6 236.9 L401.5 240.9 L401.4 244.9 L401.4 248.9 L401.3 252.9 L401.2 256.6 L401.2 260.6 Z"/>
<path fill="#2083c5" d="M390.9 260.6 L390.9 42.9 L609.8 42.9 L609.8 46.9 L504 47.2 L468.9 47.4 L443.6 47.7 L435 47.9 L427.4 48.2 L425.5 48.4 L423.9 48.7 L422.3 48.9 L421.6 49.2 L421.1 49.4 L420.7 49.7 L420.2 49.9 L419.8 50.2 L419.3 50.4 L418.9 50.7 L418.5 50.9 L418.1 51.2 L417.7 51.4 L417.3 51.7 L416.9 51.9 L416.7 52.2 L416.5 52.4 L416.4 52.7 L416.3 52.9 L415.7 53.9 L415.1 54.9 L414.5 55.9 L413.9 56.9 L413.5 57.9 L413.3 58.9 L413 59.9 L412.7 60.9 L412.4 61.9 L412.1 62.9 L411.8 63.9 L411.6 64.9 L411.4 65.9 L411.2 66.9 L411 67.9 L410.8 68.9 L410.6 69.9 L410.4 70.9 L410.2 71.9 L410 72.9 L409.8 73.9 L409.7 74.9 L409.5 75.9 L409.3 76.9 L409.3 76.9 L408.8 80.9 L408.3 84.9 L407.9 88.9 L407.4 92.9 L407 96.9 L406.6 100.9 L406.2 104.9 L406 108.9 L405.7 112.9 L405.5 116.9 L405.2 120.9 L405 124.9 L404.8 128.9 L404.6 132.9 L404.4 136.9 L404.3 140.9 L404.2 144.9 L404 148.9 L403.9 152.9 L403.8 156.9 L403.7 160.9 L403.6 164.9 L403.5 168.9 L403.3 172.9 L403.2 176.9 L403.1 180.9 L403 184.9 L402.8 188.9 L402.7 192.9 L402.5 196.9 L402.4 200.9 L402.2 204.9 L402.1 208.9 L401.9 212.9 L401.8 216.9 L401.7 220.9 L401.6 224.9 L401.5 228.9 L401.5 232.9 L401.4 236.9 L401.3 240.9 L401.3 244.9 L401.2 248.9 L401.1 252.9 L401.1 256.6 L401.1 260.6 Z"/>
<path fill="#1a80c4" d="M390.9 260.6 L390.9 42.9 L604.6 42.9 L604.6 46.9 L501.9 47.2 L467.1 47.4 L442.3 47.7 L434 47.9 L426.6 48.2 L424.7 48.4 L423.2 48.7 L421.6 48.9 L420.9 49.2 L420.5 49.4 L420.1 49.7 L419.6 49.9 L419.2 50.2 L418.7 50.4 L418.3 50.7 L417.9 50.9 L417.5 51.2 L417.1 51.4 L416.7 51.7 L416.3 51.9 L416.1 52.2 L416 52.4 L415.8 52.7 L415.7 52.9 L415.1 53.9 L414.5 54.9 L414 55.9 L413.4 56.9 L413.1 57.9 L412.8 58.9 L412.5 59.9 L412.2 60.9 L411.9 61.9 L411.7 62.9 L411.4 63.9 L411.1 64.9 L410.9 65.9 L410.7 66.9 L410.6 67.9 L410.4 68.9 L410.2 69.9 L410 70.9 L409.8 71.9 L409.6 72.9 L409.4 73.9 L409.3 74.9 L409.1 75.9 L408.9 76.9 L408.9 76.9 L408.4 80.9 L408 84.9 L407.5 88.9 L407.1 92.9 L406.7 96.9 L406.3 100.9 L405.9 104.9 L405.7 108.9 L405.4 112.9 L405.2 116.9 L405 120.9 L404.7 124.9 L404.5 128.9 L404.3 132.9 L404.2 136.9 L404.1 140.9 L403.9 144.9 L403.8 148.9 L403.7 152.9 L403.6 156.9 L403.4 160.9 L403.3 164.9 L403.2 168.9 L403.1 172.9 L403 176.9 L402.9 180.9 L402.8 184.9 L402.6 188.9 L402.5 192.9 L402.3 196.9 L402.2 200.9 L402 204.9 L401.9 208.9 L401.8 212.9 L401.6 216.9 L401.5 220.9 L401.4 224.9 L401.4 228.9 L401.3 232.9 L401.2 236.9 L401.2 240.9 L401.1 244.9 L401 248.9 L401 252.9 L400.9 256.6 L400.9 260.6 Z"/>
<path fill="#137dc2" d="M390.9 260.6 L390.9 42.9 L599.6 42.9 L599.6 46.9 L499.9 47.2 L465.5 47.4 L441.1 47.7 L433.1 47.9 L425.7 48.2 L424 48.4 L422.5 48.7 L421 48.9 L420.3 49.2 L419.9 49.4 L419.5 49.7 L419 49.9 L418.6 50.2 L418.2 50.4 L417.8 50.7 L417.4 50.9 L417 51.2 L416.6 51.4 L416.2 51.7 L415.8 51.9 L415.6 52.2 L415.4 52.4 L415.3 52.7 L415.2 52.9 L414.6 53.9 L414 54.9 L413.5 55.9 L413 56.9 L412.6 57.9 L412.3 58.9 L412 59.9 L411.8 60.9 L411.5 61.9 L411.2 62.9 L411 63.9 L410.7 64.9 L410.5 65.9 L410.3 66.9 L410.2 67.9 L410 68.9 L409.8 69.9 L409.6 70.9 L409.4 71.9 L409.2 72.9 L409.1 73.9 L408.9 74.9 L408.7 75.9 L408.6 76.9 L408.6 76.9 L408.1 80.9 L407.6 84.9 L407.2 88.9 L406.8 92.9 L406.4 96.9 L406 100.9 L405.6 104.9 L405.4 108.9 L405.2 112.9 L404.9 116.9 L404.7 120.9 L404.5 124.9 L404.3 128.9 L404.1 132.9 L403.9 136.9 L403.8 140.9 L403.7 144.9 L403.6 148.9 L403.5 152.9 L403.3 156.9 L403.2 160.9 L403.1 164.9 L403 168.9 L402.9 172.9 L402.8 176.9 L402.7 180.9 L402.6 184.9 L402.4 188.9 L402.3 192.9 L402.1 196.9 L402 200.9 L401.9 204.9 L401.7 208.9 L401.6 212.9 L401.4 216.9 L401.3 220.9 L401.3 224.9 L401.2 228.9 L401.1 232.9 L401.1 236.9 L401 240.9 L401 244.9 L400.9 248.9 L400.8 252.9 L400.8 256.6 L400.8 260.6 Z"/>
<path fill="#0d79c0" d="M390.9 260.6 L390.9 42.9 L594.9 42.9 L594.9 46.9 L498 47.2 L463.9 47.4 L439.9 47.7 L432.2 47.9 L424.9 48.2 L423.3 48.4 L421.8 48.7 L420.4 48.9 L419.7 49.2 L419.3 49.4 L418.9 49.7 L418.5 49.9 L418.1 50.2 L417.6 50.4 L417.2 50.7 L416.8 50.9 L416.4 51.2 L416 51.4 L415.6 51.7 L415.2 51.9 L415 52.2 L414.9 52.4 L414.8 52.7 L414.7 52.9 L414.1 53.9 L413.6 54.9 L413 55.9 L412.5 56.9 L412.1 57.9 L411.9 58.9 L411.6 59.9 L411.4 60.9 L411.1 61.9 L410.8 62.9 L410.6 63.9 L410.3 64.9 L410.1 65.9 L410 66.9 L409.8 67.9 L409.6 68.9 L409.4 69.9 L409.2 70.9 L409.1 71.9 L408.9 72.9 L408.7 73.9 L408.5 74.9 L408.4 75.9 L408.2 76.9 L408.2 76.9 L407.7 80.9 L407.3 84.9 L406.8 88.9 L406.4 92.9 L406.1 96.9 L405.7 100.9 L405.4 104.9 L405.1 108.9 L404.9 112.9 L404.7 116.9 L404.5 120.9 L404.2 124.9 L404 128.9 L403.8 132.9 L403.7 136.9 L403.6 140.9 L403.5 144.9 L403.4 148.9 L403.2 152.9 L403.1 156.9 L403 160.9 L402.9 164.9 L402.8 168.9 L402.7 172.9 L402.7 176.9 L402.5 180.9 L402.4 184.9 L402.2 188.9 L402.1 192.9 L402 196.9 L401.8 200.9 L401.7 204.9 L401.6 208.9 L401.4 212.9 L401.3 216.9 L401.2 220.9 L401.1 224.9 L401 228.9 L401 232.9 L400.9 236.9 L400.9 240.9 L400.8 244.9 L400.8 248.9 L400.7 252.9 L400.6 256.6 L400.6 260.6 Z"/>
<path fill="#0776bf" d="M390.9 260.6 L390.9 42.9 L590.4 42.9 L590.4 46.9 L496.2 47.2 L462.4 47.4 L438.9 47.7 L431.4 47.9 L424.2 48.2 L422.7 48.4 L421.2 48.7 L419.8 48.9 L419.2 49.2 L418.8 49.4 L418.3 49.7 L417.9 49.9 L417.5 50.2 L417.1 50.4 L416.7 50.7 L416.3 50.9 L415.9 51.2 L415.5 51.4 L415.1 51.7 L414.7 51.9 L414.6 52.2 L414.4 52.4 L414.3 52.7 L414.2 52.9 L413.7 53.9 L413.1 54.9 L412.6 55.9 L412.1 56.9 L411.7 57.9 L411.5 58.9 L411.2 59.9 L411 60.9 L410.7 61.9 L410.5 62.9 L410.2 63.9 L410 64.9 L409.8 65.9 L409.6 66.9 L409.4 67.9 L409.2 68.9 L409.1 69.9 L408.9 70.9 L408.7 71.9 L408.5 72.9 L408.4 73.9 L408.2 74.9 L408 75.9 L407.9 76.9 L407.9 76.9 L407.4 80.9 L407 84.9 L406.5 88.9 L406.2 92.9 L405.8 96.9 L405.5 100.9 L405.1 104.9 L404.9 108.9 L404.6 112.9 L404.4 116.9 L404.2 120.9 L404 124.9 L403.8 128.9 L403.6 132.9 L403.5 136.9 L403.4 140.9 L403.3 144.9 L403.2 148.9 L403 152.9 L402.9 156.9 L402.8 160.9 L402.7 164.9 L402.7 168.9 L402.6 172.9 L402.5 176.9 L402.3 180.9 L402.2 184.9 L402.1 188.9 L401.9 192.9 L401.8 196.9 L401.7 200.9 L401.5 204.9 L401.4 208.9 L401.3 212.9 L401.1 216.9 L401 220.9 L401 224.9 L400.9 228.9 L400.8 232.9 L400.8 236.9 L400.7 240.9 L400.7 244.9 L400.6 248.9 L400.6 252.9 L400.5 256.6 L400.5 260.6 Z"/>
<path fill="#0273be" d="M390.9 260.6 L390.9 42.9 L586.1 42.9 L586.1 46.9 L494.5 47.2 L460.9 47.4 L437.8 47.7 L430.6 47.9 L423.5 48.2 L422 48.4 L420.6 48.7 L419.2 48.9 L418.6 49.2 L418.2 49.4 L417.8 49.7 L417.4 49.9 L417 50.2 L416.6 50.4 L416.2 50.7 L415.9 50.9 L415.5 51.2 L415.1 51.4 L414.7 51.7 L414.3 51.9 L414.1 52.2 L414 52.4 L413.8 52.7 L413.7 52.9 L413.2 53.9 L412.7 54.9 L412.2 55.9 L411.7 56.9 L411.3 57.9 L411.1 58.9 L410.8 59.9 L410.6 60.9 L410.3 61.9 L410.1 62.9 L409.8 63.9 L409.6 64.9 L409.4 65.9 L409.2 66.9 L409.1 67.9 L408.9 68.9 L408.7 69.9 L408.6 70.9 L408.4 71.9 L408.2 72.9 L408.1 73.9 L407.9 74.9 L407.7 75.9 L407.6 76.9 L407.6 76.9 L407.1 80.9 L406.7 84.9 L406.3 88.9 L405.9 92.9 L405.5 96.9 L405.2 100.9 L404.9 104.9 L404.6 108.9 L404.4 112.9 L404.2 116.9 L404 120.9 L403.8 124.9 L403.6 128.9 L403.4 132.9 L403.3 136.9 L403.2 140.9 L403.1 144.9 L403 148.9 L402.9 152.9 L402.8 156.9 L402.7 160.9 L402.6 164.9 L402.5 168.9 L402.4 172.9 L402.3 176.9 L402.2 180.9 L402 184.9 L401.9 188.9 L401.8 192.9 L401.6 196.9 L401.5 200.9 L401.4 204.9 L401.3 208.9 L401.1 212.9 L401 216.9 L400.9 220.9 L400.8 224.9 L400.8 228.9 L400.7 232.9 L400.7 236.9 L400.6 240.9 L400.5 244.9 L400.5 248.9 L400.4 252.9 L400.4 256.6 L400.4 260.6 Z"/>
<path fill="#0072bd" d="M390.9 260.6 L390.9 42.9 L583.3 42.9 L583.3 46.9 L493.3 47.2 L460 47.4 L437.2 47.7 L430.1 47.9 L423 48.2 L421.6 48.4 L420.3 48.7 L418.9 48.9 L418.3 49.2 L417.9 49.4 L417.5 49.7 L417.1 49.9 L416.7 50.2 L416.3 50.4 L415.9 50.7 L415.5 50.9 L415.2 51.2 L414.8 51.4 L414.4 51.7 L414 51.9 L413.8 52.2 L413.7 52.4 L413.5 52.7 L413.4 52.9 L412.9 53.9 L412.4 54.9 L411.9 55.9 L411.4 56.9 L411.1 57.9 L410.8 58.9 L410.6 59.9 L410.3 60.9 L410.1 61.9 L409.9 62.9 L409.6 63.9 L409.4 64.9 L409.2 65.9 L409 66.9 L408.9 67.9 L408.7 68.9 L408.5 69.9 L408.4 70.9 L408.2 71.9 L408 72.9 L407.9 73.9 L407.7 74.9 L407.5 75.9 L407.4 76.9 L407.4 76.9 L406.9 80.9 L406.5 84.9 L406.1 88.9 L405.7 92.9 L405.4 96.9 L405 100.9 L404.7 104.9 L404.5 108.9 L404.2 112.9 L404 116.9 L403.8 120.9 L403.6 124.9 L403.4 128.9 L403.3 132.9 L403.2 136.9 L403.1 140.9 L402.9 144.9 L402.8 148.9 L402.7 152.9 L402.6 156.9 L402.5 160.9 L402.5 164.9 L402.4 168.9 L402.3 172.9 L402.2 176.9 L402.1 180.9 L401.9 184.9 L401.8 188.9 L401.7 192.9 L401.5 196.9 L401.4 200.9 L401.3 204.9 L401.2 208.9 L401 212.9 L400.9 216.9 L400.8 220.9 L400.7 224.9 L400.7 228.9 L400.6 232.9 L400.6 236.9 L400.5 240.9 L400.5 244.9 L400.4 248.9 L400.4 252.9 L400.3 256.6 L400.3 260.6 Z"/>
<path fill="none" stroke="#1a1a1a" stroke-width="0.55" d="M418.6 49C417.8 49.5 415.1 50.6 413.9 52C412.7 53.4 412 55.1 411.2 57.3C410.4 59.5 409.9 61.9 409.3 65.2C408.7 68.5 407.9 73 407.3 77.2C406.7 81.4 406.3 85.7 405.9 90.5C405.4 95.3 405 99.2 404.6 106C404.2 112.8 403.6 122.9 403.3 131.6C403 140.3 402.8 150.6 402.6 158.1C402.4 165.6 402.5 166.4 402.2 176.7C401.9 187 401.1 206.5 400.8 219.8C400.5 233.1 400.4 250.5 400.3 256.6"/>
<path fill="none" stroke="#1a1a1a" stroke-width="0.55" stroke-dasharray="6.2 1.1" d="M449.1 49C448.1 49.3 445.2 49.6 443.1 50.6C441 51.6 438.5 53.3 436.5 55.3C434.5 57.3 432.8 59.8 431.2 62.6C429.6 65.4 428.5 67.5 427.2 71.9C425.9 76.3 424.4 83.9 423.2 89.1C422 94.3 421 97 419.9 103C418.8 109 417.6 117.3 416.6 124.9C415.6 132.5 414.6 141 413.9 148.8C413.2 156.7 413 160.2 412.2 172C411.4 183.8 409.9 205.7 409.1 219.8C408.3 233.9 407.7 250.5 407.4 256.6"/>
<path fill="none" stroke="#1a1a1a" stroke-width="0.55" stroke-dasharray="5.4 1.1" d="M497 49.1C495.8 49.3 492.2 49.8 490 50.2C487.8 50.6 485.8 50.8 483.8 51.4C481.8 52 479.8 52.7 478 53.6C476.2 54.5 475 55.4 473.3 56.6C471.6 57.8 469.8 59.4 468 61C466.2 62.6 464.5 64.5 462.8 66.3C461.1 68.1 459.4 69.8 457.7 72C456 74.2 453.8 77.2 452.4 79.8C451 82.4 450.7 84 449.1 87.8C447.6 91.6 445.1 96.7 443.1 102.4C441.1 108.2 438.8 115.7 437.1 122.3C435.5 128.9 434.4 135.3 433.2 142.2C432 149 430.7 157.7 429.8 163.4C428.9 169.2 428.8 168.7 427.8 176.7C426.9 184.7 425.5 198.2 424.1 211.5C422.7 224.8 420.4 249.1 419.6 256.6"/>
<path fill="none" stroke="#333" stroke-width="0.45" d="M633.9 62.2 L630.5 62.5 L627.8 65.5 L625.4 65.3 L624.3 67.4 L622.1 67.6 L622.3 70.8 L620 73.5 L618.4 75.5 L614.8 76.5 L610.9 79.2 L608.2 79.3 L604.6 82.6 L600.1 83.8 L599.2 86.1 L596.8 86.1 L595.3 88.4 L592.6 88.9 L589.6 92.4 L587.1 93.3 L584.3 96.9 L581.3 98 L580.3 100 L576.1 102 L573.2 105.6 L570.4 107 L568.8 110.3 L566.2 111.3 L565.2 113.9 L562.5 115.5 L561.3 118.6 L558.6 120.3 L558.4 122.5 L555.8 125 L554.9 128 L552.1 130.3 L551.9 132.7 L548.1 135.5 L547.3 138.7 L544.6 140.4 L543 144.8 L540.6 145.6 L539.9 148.7 L537.9 149.8 L537.1 153 L534.2 155.4 L533.3 159.1 L530.7 161.1 L529.5 164.6 L526.5 168 L526.2 170.3 L524 172.6 L523.7 175.2 L521.2 178 L520.3 181.5 L517.7 183.6 L517.6 187.5 L515 189.7 L515 193 L512.2 195.6 L512.2 198.4 L510.4 200.3 L510.1 203 L507.6 206.9 L507.1 210 L504.9 212.9 L504.2 217.6 L502 219.4 L501.5 224.2 L499.5 225.5 L498.7 230.1 L496.3 233 L496 236.7 L494.3 238.1 L494.2 240.8 L492.5 242.3 L492.5 244.5 L490.3 248.5 L491.4 250.7 L489.9 255.1 L490.2 256.6"/>
</g>
<path fill="#fff" fill-rule="evenodd" d="M391 43H637V260H391Z M394.95 46.90H633.90V256.60H394.95Z"/>
<rect x="394.9" y="46.6" width="238.9" height="3.1" fill="url(#topb)"/>
<path d="M633.6 46.5V256.8" stroke="#c2c6c9" stroke-width="1.3" fill="none"/>
<path d="M394.9 256.6H634.2" stroke="#b4b8bb" stroke-width="0.9" fill="none"/>
<g transform="translate(413.9 69.6) rotate(-69)"><text x="0" y="3" text-anchor="middle" font-size="8.6" fill="#000" stroke="#000" stroke-width="0.3">250</text></g>
<g transform="translate(430.5 82.2) rotate(-62)"><text x="0" y="3" text-anchor="middle" font-size="8.6" fill="#000" stroke="#000" stroke-width="0.3">100</text></g>
<g transform="translate(452 93.8) rotate(-65)"><text x="0" y="3" text-anchor="middle" font-size="8.6" fill="#000" stroke="#000" stroke-width="0.3">50</text></g>
<g transform="translate(548.8 144.9) rotate(-45)"><text x="0" y="3" text-anchor="middle" font-size="8.6" fill="#000" stroke="#000" stroke-width="0.3">10</text></g>
<g clip-path="url(#clipd)">
<rect x="390.9" y="300.3" width="246.9" height="217.7" fill="#fff"/>
<path fill="#fbfdfe" d="M390.9 518 L390.9 300.3 L639.9 300.3 L639.9 306.1 L639.4 306.4 L637 306.6 L635.1 306.9 L633.3 307.1 L631.4 307.4 L629.6 307.6 L627.7 307.9 L626.2 308.1 L625 308.4 L623.9 308.6 L622.7 308.9 L621.6 309.1 L620.4 309.4 L619.3 309.6 L618.1 309.9 L617 310.1 L616.1 310.3 L606.6 311.3 L605.4 312.3 L604.2 313.3 L603 314.3 L597.1 315.3 L591.2 316.3 L586.9 317.3 L583.8 318.3 L580.6 319.3 L577.5 320.3 L575.2 321.3 L573.5 322.3 L571.7 323.3 L570 324.3 L568.3 325.3 L566.7 326.3 L565.9 327.3 L565.2 328.3 L564.4 329.3 L563.7 330.3 L562.9 331.3 L562.2 332.3 L560.7 333.3 L559.1 334.3 L552.6 338.3 L545.8 342.3 L539.9 346.3 L534.6 350.3 L529.9 354.3 L526.3 358.3 L522.3 362.3 L517.9 366.3 L514.4 370.3 L511.1 374.3 L507.8 378.3 L504.5 382.3 L501.3 386.3 L498.2 390.3 L495.1 394.3 L492.2 398.3 L489.4 402.3 L486.8 406.3 L484.5 410.3 L482.2 414.3 L480 418.3 L477.7 422.3 L475.5 426.3 L473.4 430.3 L471.4 434.3 L469.4 438.3 L467.5 442.3 L465.6 446.3 L463.8 450.3 L461.9 454.3 L460 458.3 L458.1 462.3 L456.3 466.3 L454.5 470.3 L453 474.3 L451.4 478.3 L449.9 482.3 L448.4 486.3 L446.8 490.3 L445.5 494.3 L444.1 498.3 L442.8 502.3 L441.5 506.3 L440.2 510.3 L438.9 514 L438.9 518 Z"/>
<path fill="#f8fbfd" d="M390.9 518 L390.9 300.3 L639.9 300.3 L639.9 305.9 L639.9 306.1 L637.1 306.4 L634.8 306.6 L632.9 306.9 L631.1 307.1 L629.2 307.4 L627.4 307.6 L625.5 307.9 L624 308.1 L622.8 308.4 L621.7 308.6 L620.5 308.9 L619.4 309.1 L618.2 309.4 L617.1 309.6 L615.9 309.9 L614.8 310.1 L613.9 310.3 L604.4 311.3 L603.2 312.3 L602 313.3 L600.8 314.3 L594.9 315.3 L589 316.3 L584.7 317.3 L581.6 318.3 L578.4 319.3 L575.3 320.3 L573 321.3 L571.3 322.3 L569.5 323.3 L567.8 324.3 L566.1 325.3 L564.4 326.3 L563.7 327.3 L562.9 328.3 L562.2 329.3 L561.5 330.3 L560.7 331.3 L560 332.3 L558.5 333.3 L556.9 334.3 L550.4 338.3 L543.6 342.3 L537.7 346.3 L532.3 350.3 L527.7 354.3 L524.1 358.3 L520.1 362.3 L515.6 366.3 L512.2 370.3 L508.9 374.3 L505.6 378.3 L502.3 382.3 L499.1 386.3 L496 390.3 L492.9 394.3 L490 398.3 L487.2 402.3 L484.6 406.3 L482.3 410.3 L480 414.3 L477.8 418.3 L475.5 422.3 L473.3 426.3 L471.2 430.3 L469.2 434.3 L467.2 438.3 L465.3 442.3 L463.4 446.3 L461.5 450.3 L459.7 454.3 L457.8 458.3 L455.9 462.3 L454 466.3 L452.3 470.3 L450.8 474.3 L449.2 478.3 L447.7 482.3 L446.1 486.3 L444.6 490.3 L443.3 494.3 L441.9 498.3 L440.6 502.3 L439.3 506.3 L437.9 510.3 L436.7 514 L436.7 518 Z"/>
<path fill="#f5fafc" d="M390.9 518 L390.9 300.3 L639.9 300.3 L639.9 305.9 L637.7 306.1 L634.9 306.4 L632.6 306.6 L630.7 306.9 L628.9 307.1 L627 307.4 L625.2 307.6 L623.3 307.9 L621.7 308.1 L620.6 308.4 L619.5 308.6 L618.3 308.9 L617.2 309.1 L616 309.4 L614.9 309.6 L613.7 309.9 L612.6 310.1 L611.7 310.3 L602.2 311.3 L601 312.3 L599.8 313.3 L598.6 314.3 L592.7 315.3 L586.8 316.3 L582.5 317.3 L579.4 318.3 L576.2 319.3 L573.1 320.3 L570.8 321.3 L569 322.3 L567.3 323.3 L565.6 324.3 L563.9 325.3 L562.2 326.3 L561.5 327.3 L560.7 328.3 L560 329.3 L559.2 330.3 L558.5 331.3 L557.8 332.3 L556.3 333.3 L554.7 334.3 L548.2 338.3 L541.4 342.3 L535.5 346.3 L530.1 350.3 L525.5 354.3 L521.9 358.3 L517.9 362.3 L513.4 366.3 L510 370.3 L506.7 374.3 L503.4 378.3 L500.1 382.3 L496.8 386.3 L493.8 390.3 L490.7 394.3 L487.8 398.3 L484.9 402.3 L482.4 406.3 L480.1 410.3 L477.8 414.3 L475.5 418.3 L473.3 422.3 L471.1 426.3 L469 430.3 L467 434.3 L465 438.3 L463.1 442.3 L461.2 446.3 L459.3 450.3 L457.5 454.3 L455.6 458.3 L453.7 462.3 L451.8 466.3 L450.1 470.3 L448.6 474.3 L447 478.3 L445.5 482.3 L443.9 486.3 L442.4 490.3 L441 494.3 L439.7 498.3 L438.4 502.3 L437.1 506.3 L435.7 510.3 L434.5 514 L434.5 518 Z"/>
<path fill="#f2f8fc" d="M390.9 518 L390.9 300.3 L639.9 300.3 L639.9 305.6 L638.2 305.9 L635.4 306.1 L632.7 306.4 L630.4 306.6 L628.5 306.9 L626.7 307.1 L624.8 307.4 L623 307.6 L621.1 307.9 L619.5 308.1 L618.4 308.4 L617.2 308.6 L616.1 308.9 L615 309.1 L613.8 309.4 L612.7 309.6 L611.5 309.9 L610.4 310.1 L609.5 310.3 L600 311.3 L598.8 312.3 L597.6 313.3 L596.4 314.3 L590.5 315.3 L584.6 316.3 L580.3 317.3 L577.2 318.3 L574 319.3 L570.9 320.3 L568.6 321.3 L566.8 322.3 L565.1 323.3 L563.4 324.3 L561.6 325.3 L560 326.3 L559.3 327.3 L558.5 328.3 L557.8 329.3 L557 330.3 L556.3 331.3 L555.5 332.3 L554.1 333.3 L552.5 334.3 L545.9 338.3 L539.1 342.3 L533.3 346.3 L527.9 350.3 L523.3 354.3 L519.7 358.3 L515.7 362.3 L511.2 366.3 L507.8 370.3 L504.5 374.3 L501.2 378.3 L497.8 382.3 L494.6 386.3 L491.5 390.3 L488.5 394.3 L485.6 398.3 L482.7 402.3 L480.1 406.3 L477.9 410.3 L475.6 414.3 L473.3 418.3 L471.1 422.3 L468.9 426.3 L466.8 430.3 L464.8 434.3 L462.8 438.3 L460.9 442.3 L459 446.3 L457.1 450.3 L455.3 454.3 L453.4 458.3 L451.5 462.3 L449.6 466.3 L447.9 470.3 L446.3 474.3 L444.8 478.3 L443.3 482.3 L441.7 486.3 L440.2 490.3 L438.8 494.3 L437.5 498.3 L436.2 502.3 L434.9 506.3 L433.5 510.3 L432.3 514 L432.3 518 Z"/>
<path fill="#eff6fb" d="M390.9 518 L390.9 300.3 L639.9 300.3 L639.9 305.6 L636 305.9 L633.2 306.1 L630.5 306.4 L628.1 306.6 L626.3 306.9 L624.4 307.1 L622.6 307.4 L620.7 307.6 L618.9 307.9 L617.3 308.1 L616.2 308.4 L615 308.6 L613.9 308.9 L612.7 309.1 L611.6 309.4 L610.5 309.6 L609.3 309.9 L608.2 310.1 L607.2 310.3 L597.8 311.3 L596.6 312.3 L595.4 313.3 L594.2 314.3 L588.3 315.3 L582.4 316.3 L578.1 317.3 L574.9 318.3 L571.8 319.3 L568.6 320.3 L566.3 321.3 L564.6 322.3 L562.9 323.3 L561.2 324.3 L559.4 325.3 L557.8 326.3 L557.1 327.3 L556.3 328.3 L555.6 329.3 L554.8 330.3 L554.1 331.3 L553.3 332.3 L551.9 333.3 L550.3 334.3 L543.7 338.3 L536.9 342.3 L531.1 346.3 L525.7 350.3 L521.1 354.3 L517.5 358.3 L513.4 362.3 L509 366.3 L505.6 370.3 L502.3 374.3 L499 378.3 L495.6 382.3 L492.4 386.3 L489.3 390.3 L486.3 394.3 L483.4 398.3 L480.5 402.3 L477.9 406.3 L475.6 410.3 L473.4 414.3 L471.1 418.3 L468.9 422.3 L466.7 426.3 L464.6 430.3 L462.6 434.3 L460.6 438.3 L458.7 442.3 L456.8 446.3 L454.9 450.3 L453 454.3 L451.2 458.3 L449.3 462.3 L447.4 466.3 L445.7 470.3 L444.1 474.3 L442.6 478.3 L441.1 482.3 L439.5 486.3 L438 490.3 L436.6 494.3 L435.3 498.3 L434 502.3 L432.6 506.3 L431.3 510.3 L430.1 514 L430.1 518 Z"/>
<path fill="#ecf5fa" d="M390.9 518 L390.9 300.3 L639.9 300.3 L639.9 305.4 L639.4 305.6 L633.7 305.9 L631 306.1 L628.3 306.4 L625.9 306.6 L624.1 306.9 L622.2 307.1 L620.4 307.4 L618.5 307.6 L616.7 307.9 L615.1 308.1 L614 308.4 L612.8 308.6 L611.7 308.9 L610.5 309.1 L609.4 309.4 L608.2 309.6 L607.1 309.9 L605.9 310.1 L605 310.3 L595.6 311.3 L594.4 312.3 L593.2 313.3 L592 314.3 L586.1 315.3 L580.1 316.3 L575.9 317.3 L572.7 318.3 L569.6 319.3 L566.4 320.3 L564.1 321.3 L562.4 322.3 L560.7 323.3 L559 324.3 L557.2 325.3 L555.6 326.3 L554.9 327.3 L554.1 328.3 L553.4 329.3 L552.6 330.3 L551.9 331.3 L551.1 332.3 L549.7 333.3 L548.1 334.3 L541.5 338.3 L534.7 342.3 L528.8 346.3 L523.5 350.3 L518.8 354.3 L515.3 358.3 L511.2 362.3 L506.8 366.3 L503.4 370.3 L500.1 374.3 L496.7 378.3 L493.4 382.3 L490.2 386.3 L487.1 390.3 L484.1 394.3 L481.2 398.3 L478.3 402.3 L475.7 406.3 L473.4 410.3 L471.1 414.3 L468.9 418.3 L466.7 422.3 L464.5 426.3 L462.4 430.3 L460.4 434.3 L458.4 438.3 L456.5 442.3 L454.6 446.3 L452.7 450.3 L450.8 454.3 L449 458.3 L447.1 462.3 L445.2 466.3 L443.5 470.3 L441.9 474.3 L440.4 478.3 L438.8 482.3 L437.3 486.3 L435.8 490.3 L434.4 494.3 L433.1 498.3 L431.8 502.3 L430.4 506.3 L429.1 510.3 L427.9 514 L427.9 518 Z"/>
<path fill="#e9f3f9" d="M390.9 518 L390.9 300.3 L639.9 300.3 L639.9 305.4 L628.5 305.6 L622.6 305.9 L619.3 306.1 L616.2 306.4 L613.9 306.6 L612 306.9 L610.2 307.1 L608.3 307.4 L606.5 307.6 L604.6 307.9 L603 308.1 L601.8 308.4 L600.5 308.6 L599.3 308.9 L598.1 309.1 L597 309.4 L595.8 309.6 L594.7 309.9 L593.6 310.1 L592.7 310.3 L583.8 311.3 L582.2 312.3 L580.7 313.3 L579.3 314.3 L573.9 315.3 L568.4 316.3 L564.4 317.3 L561.3 318.3 L558.3 319.3 L555.4 320.3 L553.2 321.3 L551.5 322.3 L549.9 323.3 L548.2 324.3 L546.5 325.3 L544.9 326.3 L544.1 327.3 L543.4 328.3 L542.6 329.3 L541.8 330.3 L541.1 331.3 L540.3 332.3 L538.9 333.3 L537.4 334.3 L531.2 338.3 L524.9 342.3 L519.3 346.3 L514.3 350.3 L509.9 354.3 L506.4 358.3 L502.6 362.3 L498.5 366.3 L495.2 370.3 L492.1 374.3 L488.9 378.3 L485.8 382.3 L482.8 386.3 L479.9 390.3 L477 394.3 L474.3 398.3 L471.6 402.3 L469.2 406.3 L467.1 410.3 L464.9 414.3 L462.8 418.3 L460.8 422.3 L458.7 426.3 L456.8 430.3 L454.9 434.3 L453 438.3 L451.2 442.3 L449.5 446.3 L447.7 450.3 L446 454.3 L444.2 458.3 L442.4 462.3 L440.7 466.3 L439 470.3 L437.6 474.3 L436.2 478.3 L434.7 482.3 L433.3 486.3 L431.8 490.3 L430.5 494.3 L429.3 498.3 L428 502.3 L426.8 506.3 L425.5 510.3 L424.4 514 L424.4 518 Z"/>
<path fill="#e4f0f8" d="M390.9 518 L390.9 300.3 L639.9 300.3 L639.9 305.1 L614.3 305.4 L597.8 305.6 L591.3 305.9 L586.5 306.1 L582.2 306.4 L580 306.6 L578.2 306.9 L576.4 307.1 L574.5 307.4 L572.7 307.6 L570.8 307.9 L569.2 308.1 L567.7 308.4 L566.3 308.6 L564.9 308.9 L563.6 309.1 L562.5 309.4 L561.4 309.6 L560.3 309.9 L559.2 310.1 L558.3 310.3 L551.1 311.3 L548.7 312.3 L546.3 313.3 L544.6 314.3 L540.4 315.3 L536.2 316.3 L533 317.3 L530.4 318.3 L527.8 319.3 L525.5 320.3 L523.7 321.3 L522.2 322.3 L520.7 323.3 L519.2 324.3 L517.8 325.3 L516.4 326.3 L515.5 327.3 L514.6 328.3 L513.8 329.3 L513 330.3 L512.2 331.3 L511.4 332.3 L510.2 333.3 L508.9 334.3 L504 338.3 L499 342.3 L494.5 346.3 L490.4 350.3 L486.7 354.3 L483.8 358.3 L480.5 362.3 L477.3 366.3 L474.7 370.3 L472.1 374.3 L469.5 378.3 L466.9 382.3 L464.5 386.3 L462.2 390.3 L459.9 394.3 L457.7 398.3 L455.6 402.3 L453.7 406.3 L452 410.3 L450.4 414.3 L448.7 418.3 L447.1 422.3 L445.5 426.3 L444 430.3 L442.6 434.3 L441.1 438.3 L439.7 442.3 L438.3 446.3 L436.9 450.3 L435.5 454.3 L434.1 458.3 L432.7 462.3 L431.3 466.3 L430 470.3 L428.9 474.3 L427.7 478.3 L426.5 482.3 L425.4 486.3 L424.2 490.3 L423.2 494.3 L422.2 498.3 L421.1 502.3 L420.1 506.3 L419.1 510.3 L418.1 514 L418.1 518 Z"/>
<path fill="#e0eef7" d="M390.9 518 L390.9 300.3 L639.9 300.3 L639.9 304.9 L625.5 305.1 L594.6 305.4 L575 305.6 L568.2 305.9 L562.6 306.1 L557.6 306.4 L555.6 306.6 L553.8 306.9 L552 307.1 L550.2 307.4 L548.4 307.6 L546.6 307.9 L544.9 308.1 L543.4 308.4 L541.9 308.6 L540.3 308.9 L539 309.1 L538 309.4 L536.9 309.6 L535.9 309.9 L534.9 310.1 L534 310.3 L527.9 311.3 L525.1 312.3 L522.3 313.3 L520.3 314.3 L517 315.3 L513.7 316.3 L511 317.3 L508.8 318.3 L506.5 319.3 L504.6 320.3 L503 321.3 L501.7 322.3 L500.4 323.3 L499.1 324.3 L497.8 325.3 L496.5 326.3 L495.6 327.3 L494.7 328.3 L493.9 329.3 L493.1 330.3 L492.3 331.3 L491.5 332.3 L490.5 333.3 L489.4 334.3 L485.3 338.3 L481.2 342.3 L477.5 346.3 L473.9 350.3 L470.9 354.3 L468.2 358.3 L465.5 362.3 L462.9 366.3 L460.6 370.3 L458.4 374.3 L456.2 378.3 L454 382.3 L452.1 386.3 L450.2 390.3 L448.3 394.3 L446.5 398.3 L444.7 402.3 L443.2 406.3 L441.8 410.3 L440.4 414.3 L439.1 418.3 L437.7 422.3 L436.5 426.3 L435.3 430.3 L434.2 434.3 L433 438.3 L431.8 442.3 L430.7 446.3 L429.5 450.3 L428.4 454.3 L427.2 458.3 L426.1 462.3 L424.9 466.3 L423.8 470.3 L422.9 474.3 L421.9 478.3 L421 482.3 L420 486.3 L419.1 490.3 L418.2 494.3 L417.3 498.3 L416.4 502.3 L415.6 506.3 L414.7 510.3 L413.9 514 L413.9 518 Z"/>
<path fill="#dcecf6" d="M390.9 518 L390.9 300.3 L639.9 300.3 L639.9 304.9 L608.5 305.1 L578.9 305.4 L557.4 305.6 L550.4 305.9 L544.3 306.1 L538.9 306.4 L537 306.6 L535.2 306.9 L533.5 307.1 L531.8 307.4 L530 307.6 L528.3 307.9 L526.6 308.1 L525.1 308.4 L523.5 308.6 L521.9 308.9 L520.6 309.1 L519.6 309.4 L518.7 309.6 L517.7 309.9 L516.7 310.1 L515.9 310.3 L510.7 311.3 L507.6 312.3 L504.5 313.3 L502.5 314.3 L499.8 315.3 L497.1 316.3 L494.9 317.3 L492.9 318.3 L490.9 319.3 L489.2 320.3 L487.9 321.3 L486.7 322.3 L485.5 323.3 L484.3 324.3 L483.1 325.3 L481.9 326.3 L481 327.3 L480.2 328.3 L479.4 329.3 L478.6 330.3 L477.9 331.3 L477.1 332.3 L476.1 333.3 L475.1 334.3 L471.7 338.3 L468.3 342.3 L465 346.3 L462 350.3 L459.3 354.3 L457 358.3 L454.6 362.3 L452.4 366.3 L450.5 370.3 L448.6 374.3 L446.6 378.3 L444.8 382.3 L443.1 386.3 L441.5 390.3 L439.9 394.3 L438.3 398.3 L436.8 402.3 L435.6 406.3 L434.4 410.3 L433.3 414.3 L432.2 418.3 L431 422.3 L430 426.3 L429 430.3 L428.1 434.3 L427.1 438.3 L426.1 442.3 L425.1 446.3 L424.2 450.3 L423.2 454.3 L422.2 458.3 L421.3 462.3 L420.3 466.3 L419.4 470.3 L418.5 474.3 L417.7 478.3 L416.9 482.3 L416.1 486.3 L415.3 490.3 L414.6 494.3 L413.8 498.3 L413 502.3 L412.3 506.3 L411.5 510.3 L410.8 514 L410.8 518 Z"/>
<path fill="#d8eaf5" d="M390.9 518 L390.9 300.3 L639.9 300.3 L639.9 304.9 L594.4 305.1 L566.1 305.4 L543.2 305.6 L536.2 305.9 L529.8 306.1 L524.2 306.4 L522.4 306.6 L520.7 306.9 L519 307.1 L517.4 307.4 L515.7 307.6 L514 307.9 L512.4 308.1 L510.8 308.4 L509.2 308.6 L507.7 308.9 L506.4 309.1 L505.4 309.4 L504.5 309.6 L503.6 309.9 L502.6 310.1 L501.9 310.3 L497.3 311.3 L494.2 312.3 L491 313.3 L489 314.3 L486.7 315.3 L484.5 316.3 L482.5 317.3 L480.7 318.3 L478.9 319.3 L477.4 320.3 L476.2 321.3 L475.2 322.3 L474.1 323.3 L473 324.3 L471.9 325.3 L470.8 326.3 L469.9 327.3 L469.1 328.3 L468.4 329.3 L467.6 330.3 L466.9 331.3 L466.1 332.3 L465.3 333.3 L464.4 334.3 L461.4 338.3 L458.5 342.3 L455.7 346.3 L453 350.3 L450.6 354.3 L448.5 358.3 L446.4 362.3 L444.5 366.3 L442.8 370.3 L441.1 374.3 L439.5 378.3 L437.8 382.3 L436.4 386.3 L435 390.3 L433.6 394.3 L432.2 398.3 L430.9 402.3 L429.9 406.3 L428.9 410.3 L427.9 414.3 L426.9 418.3 L426 422.3 L425.1 426.3 L424.3 430.3 L423.5 434.3 L422.7 438.3 L421.8 442.3 L421 446.3 L420.1 450.3 L419.3 454.3 L418.5 458.3 L417.6 462.3 L416.8 466.3 L416 470.3 L415.3 474.3 L414.6 478.3 L413.9 482.3 L413.2 486.3 L412.5 490.3 L411.8 494.3 L411.2 498.3 L410.5 502.3 L409.8 506.3 L409.2 510.3 L408.6 514 L408.6 518 Z"/>
<path fill="#d4e7f4" d="M390.9 518 L390.9 300.3 L639.9 300.3 L639.9 304.9 L582.7 305.1 L555.5 305.4 L531.6 305.6 L524.7 305.9 L518 306.1 L512.3 306.4 L510.6 306.6 L509 306.9 L507.4 307.1 L505.7 307.4 L504.1 307.6 L502.5 307.9 L500.9 308.1 L499.4 308.4 L497.8 308.6 L496.3 308.9 L495 309.1 L494.1 309.4 L493.2 309.6 L492.3 309.9 L491.4 310.1 L490.7 310.3 L486.7 311.3 L483.5 312.3 L480.2 313.3 L478.3 314.3 L476.4 315.3 L474.5 316.3 L472.7 317.3 L471.1 318.3 L469.4 319.3 L468.2 320.3 L467.1 321.3 L466.1 322.3 L465.1 323.3 L464.1 324.3 L463.1 325.3 L462.1 326.3 L461.2 327.3 L460.4 328.3 L459.7 329.3 L459 330.3 L458.3 331.3 L457.6 332.3 L456.8 333.3 L456 334.3 L453.4 338.3 L450.8 342.3 L448.3 346.3 L445.9 350.3 L443.9 354.3 L441.9 358.3 L440 362.3 L438.4 366.3 L436.9 370.3 L435.4 374.3 L433.9 378.3 L432.4 382.3 L431.2 386.3 L429.9 390.3 L428.7 394.3 L427.5 398.3 L426.4 402.3 L425.5 406.3 L424.6 410.3 L423.8 414.3 L422.9 418.3 L422.1 422.3 L421.3 426.3 L420.6 430.3 L420 434.3 L419.2 438.3 L418.5 442.3 L417.7 446.3 L417 450.3 L416.3 454.3 L415.6 458.3 L414.8 462.3 L414.1 466.3 L413.4 470.3 L412.8 474.3 L412.2 478.3 L411.5 482.3 L410.9 486.3 L410.3 490.3 L409.7 494.3 L409.1 498.3 L408.5 502.3 L407.9 506.3 L407.4 510.3 L406.8 514 L406.8 518 Z"/>
<path fill="#d0e5f3" d="M390.9 518 L390.9 300.3 L639.9 300.3 L639.9 304.9 L572.6 305.1 L546.4 305.4 L521.9 305.6 L515 305.9 L508.2 306.1 L502.5 306.4 L500.9 306.6 L499.3 306.9 L497.8 307.1 L496.2 307.4 L494.6 307.6 L493.1 307.9 L491.5 308.1 L490 308.4 L488.5 308.6 L487 308.9 L485.7 309.1 L484.9 309.4 L484 309.6 L483.2 309.9 L482.3 310.1 L481.6 310.3 L478 311.3 L474.8 312.3 L471.6 313.3 L469.6 314.3 L468 315.3 L466.4 316.3 L464.8 317.3 L463.3 318.3 L461.8 319.3 L460.7 320.3 L459.7 321.3 L458.8 322.3 L457.9 323.3 L456.9 324.3 L456 325.3 L455.1 326.3 L454.2 327.3 L453.5 328.3 L452.8 329.3 L452.1 330.3 L451.4 331.3 L450.7 332.3 L450 333.3 L449.3 334.3 L447 338.3 L444.7 342.3 L442.5 346.3 L440.3 350.3 L438.4 354.3 L436.6 358.3 L434.9 362.3 L433.5 366.3 L432.1 370.3 L430.8 374.3 L429.4 378.3 L428.1 382.3 L427 386.3 L425.9 390.3 L424.8 394.3 L423.8 398.3 L422.7 402.3 L422 406.3 L421.2 410.3 L420.5 414.3 L419.7 418.3 L418.9 422.3 L418.3 426.3 L417.7 430.3 L417.1 434.3 L416.5 438.3 L415.8 442.3 L415.2 446.3 L414.5 450.3 L413.9 454.3 L413.2 458.3 L412.6 462.3 L411.9 466.3 L411.3 470.3 L410.8 474.3 L410.2 478.3 L409.7 482.3 L409.1 486.3 L408.6 490.3 L408 494.3 L407.5 498.3 L407 502.3 L406.4 506.3 L405.9 510.3 L405.4 514 L405.4 518 Z"/>
<path fill="#cce3f2" d="M390.9 518 L390.9 300.3 L639.9 300.3 L639.9 304.9 L563.9 305.1 L538.5 305.4 L513.7 305.6 L506.8 305.9 L500 306.1 L494.2 306.4 L492.7 306.6 L491.2 306.9 L489.7 307.1 L488.2 307.4 L486.7 307.6 L485.2 307.9 L483.7 308.1 L482.2 308.4 L480.7 308.6 L479.2 308.9 L478 309.1 L477.2 309.4 L476.4 309.6 L475.6 309.9 L474.8 310.1 L474.1 310.3 L470.8 311.3 L467.6 312.3 L464.5 313.3 L462.6 314.3 L461.1 315.3 L459.7 316.3 L458.3 317.3 L456.9 318.3 L455.5 319.3 L454.5 320.3 L453.6 321.3 L452.8 322.3 L451.9 323.3 L451 324.3 L450.2 325.3 L449.3 326.3 L448.5 327.3 L447.8 328.3 L447.1 329.3 L446.5 330.3 L445.8 331.3 L445.1 332.3 L444.5 333.3 L443.8 334.3 L441.7 338.3 L439.7 342.3 L437.7 346.3 L435.7 350.3 L434 354.3 L432.3 358.3 L430.8 362.3 L429.5 366.3 L428.3 370.3 L427.1 374.3 L425.8 378.3 L424.6 382.3 L423.6 386.3 L422.7 390.3 L421.7 394.3 L420.7 398.3 L419.8 402.3 L419.1 406.3 L418.4 410.3 L417.8 414.3 L417.1 418.3 L416.4 422.3 L415.9 426.3 L415.3 430.3 L414.8 434.3 L414.2 438.3 L413.7 442.3 L413.1 446.3 L412.5 450.3 L411.9 454.3 L411.3 458.3 L410.8 462.3 L410.2 466.3 L409.6 470.3 L409.1 474.3 L408.6 478.3 L408.1 482.3 L407.6 486.3 L407.2 490.3 L406.7 494.3 L406.2 498.3 L405.7 502.3 L405.2 506.3 L404.7 510.3 L404.3 514 L404.3 518 Z"/>
<path fill="#c8e1f1" d="M390.9 518 L390.9 300.3 L639.9 300.3 L639.9 304.9 L555.8 305.1 L530.2 305.4 L505.9 305.6 L499 305.9 L492.6 306.1 L487.1 306.4 L485.6 306.6 L484.1 306.9 L482.7 307.1 L481.3 307.4 L479.8 307.6 L478.4 307.9 L477 308.1 L475.6 308.4 L474.1 308.6 L472.7 308.9 L471.6 309.1 L470.8 309.4 L470.1 309.6 L469.3 309.9 L468.6 310.1 L468 310.3 L465 311.3 L462 312.3 L459 313.3 L457.1 314.3 L455.8 315.3 L454.6 316.3 L453.3 317.3 L452 318.3 L450.7 319.3 L449.8 320.3 L448.9 321.3 L448.1 322.3 L447.3 323.3 L446.5 324.3 L445.7 325.3 L444.9 326.3 L444.1 327.3 L443.4 328.3 L442.8 329.3 L442.2 330.3 L441.6 331.3 L440.9 332.3 L440.3 333.3 L439.7 334.3 L437.7 338.3 L435.8 342.3 L434 346.3 L432.2 350.3 L430.7 354.3 L429.1 358.3 L427.7 362.3 L426.6 366.3 L425.4 370.3 L424.3 374.3 L423.2 378.3 L422.1 382.3 L421.2 386.3 L420.3 390.3 L419.4 394.3 L418.5 398.3 L417.7 402.3 L417 406.3 L416.4 410.3 L415.8 414.3 L415.2 418.3 L414.6 422.3 L414.1 426.3 L413.6 430.3 L413.1 434.3 L412.6 438.3 L412.1 442.3 L411.5 446.3 L411 450.3 L410.4 454.3 L409.9 458.3 L409.4 462.3 L408.8 466.3 L408.3 470.3 L407.8 474.3 L407.4 478.3 L407 482.3 L406.5 486.3 L406.1 490.3 L405.6 494.3 L405.2 498.3 L404.7 502.3 L404.3 506.3 L403.9 510.3 L403.4 514 L403.4 518 Z"/>
<path fill="#c4def0" d="M390.9 518 L390.9 300.3 L639.9 300.3 L639.9 304.6 L637.8 304.9 L548.2 305.1 L521.7 305.4 L498.7 305.6 L491.5 305.9 L485.8 306.1 L480.9 306.4 L479.2 306.6 L477.8 306.9 L476.5 307.1 L475.2 307.4 L473.9 307.6 L472.5 307.9 L471.2 308.1 L469.9 308.4 L468.5 308.6 L467.2 308.9 L466.1 309.1 L465.5 309.4 L464.8 309.6 L464.1 309.9 L463.4 310.1 L462.9 310.3 L460.1 311.3 L457.4 312.3 L454.7 313.3 L452.9 314.3 L451.7 315.3 L450.6 316.3 L449.4 317.3 L448.2 318.3 L447 319.3 L446.1 320.3 L445.3 321.3 L444.5 322.3 L443.8 323.3 L443 324.3 L442.3 325.3 L441.5 326.3 L440.7 327.3 L440.1 328.3 L439.5 329.3 L438.9 330.3 L438.4 331.3 L437.8 332.3 L437.2 333.3 L436.6 334.3 L434.7 338.3 L432.9 342.3 L431.2 346.3 L429.5 350.3 L428.1 354.3 L426.7 358.3 L425.4 362.3 L424.3 366.3 L423.3 370.3 L422.3 374.3 L421.2 378.3 L420.2 382.3 L419.4 386.3 L418.5 390.3 L417.7 394.3 L416.9 398.3 L416.1 402.3 L415.5 406.3 L414.9 410.3 L414.3 414.3 L413.8 418.3 L413.3 422.3 L412.8 426.3 L412.4 430.3 L411.9 434.3 L411.4 438.3 L410.9 442.3 L410.4 446.3 L409.8 450.3 L409.3 454.3 L408.8 458.3 L408.3 462.3 L407.8 466.3 L407.2 470.3 L406.8 474.3 L406.4 478.3 L406 482.3 L405.6 486.3 L405.2 490.3 L404.8 494.3 L404.4 498.3 L404 502.3 L403.6 506.3 L403.2 510.3 L402.8 514 L402.8 518 Z"/>
<path fill="#bfdbee" d="M390.9 518 L390.9 300.3 L639.9 300.3 L639.9 304.6 L625.1 304.9 L541.5 305.1 L514.2 305.4 L492.3 305.6 L485 305.9 L479.9 306.1 L475.4 306.4 L473.6 306.6 L472.4 306.9 L471.1 307.1 L469.9 307.4 L468.7 307.6 L467.4 307.9 L466.2 308.1 L464.9 308.4 L463.7 308.6 L462.4 308.9 L461.4 309.1 L460.8 309.4 L460.2 309.6 L459.6 309.9 L459 310.1 L458.5 310.3 L456 311.3 L453.5 312.3 L451 313.3 L449.3 314.3 L448.2 315.3 L447.1 316.3 L446 317.3 L444.9 318.3 L443.8 319.3 L442.9 320.3 L442.1 321.3 L441.4 322.3 L440.7 323.3 L440 324.3 L439.3 325.3 L438.5 326.3 L437.8 327.3 L437.2 328.3 L436.7 329.3 L436.1 330.3 L435.6 331.3 L435 332.3 L434.5 333.3 L433.9 334.3 L432.1 338.3 L430.3 342.3 L428.7 346.3 L427.2 350.3 L425.9 354.3 L424.6 358.3 L423.4 362.3 L422.4 366.3 L421.5 370.3 L420.5 374.3 L419.5 378.3 L418.6 382.3 L417.8 386.3 L417 390.3 L416.3 394.3 L415.5 398.3 L414.8 402.3 L414.2 406.3 L413.7 410.3 L413.1 414.3 L412.6 418.3 L412.1 422.3 L411.7 426.3 L411.3 430.3 L410.9 434.3 L410.4 438.3 L409.9 442.3 L409.4 446.3 L408.9 450.3 L408.4 454.3 L407.9 458.3 L407.4 462.3 L406.9 466.3 L406.4 470.3 L406 474.3 L405.6 478.3 L405.2 482.3 L404.9 486.3 L404.5 490.3 L404.1 494.3 L403.7 498.3 L403.3 502.3 L403 506.3 L402.6 510.3 L402.2 514 L402.2 518 Z"/>
<path fill="#b9d8ed" d="M390.9 518 L390.9 300.3 L639.9 300.3 L639.9 304.6 L608.8 304.9 L532.7 305.1 L504.6 305.4 L484.2 305.6 L476.8 305.9 L472.4 306.1 L468.5 306.4 L466.6 306.6 L465.4 306.9 L464.3 307.1 L463.2 307.4 L462 307.6 L460.9 307.9 L459.8 308.1 L458.6 308.4 L457.5 308.6 L456.4 308.9 L455.5 309.1 L454.9 309.4 L454.4 309.6 L453.8 309.9 L453.3 310.1 L452.8 310.3 L450.6 311.3 L448.4 312.3 L446.2 313.3 L444.6 314.3 L443.6 315.3 L442.6 316.3 L441.6 317.3 L440.6 318.3 L439.7 319.3 L438.8 320.3 L438.1 321.3 L437.4 322.3 L436.7 323.3 L436.1 324.3 L435.4 325.3 L434.8 326.3 L434.1 327.3 L433.6 328.3 L433 329.3 L432.5 330.3 L432 331.3 L431.5 332.3 L431 333.3 L430.5 334.3 L428.7 338.3 L427 342.3 L425.6 346.3 L424.3 350.3 L423 354.3 L421.9 358.3 L420.9 362.3 L420 366.3 L419.1 370.3 L418.3 374.3 L417.4 378.3 L416.5 382.3 L415.8 386.3 L415.1 390.3 L414.4 394.3 L413.7 398.3 L413.1 402.3 L412.6 406.3 L412 410.3 L411.5 414.3 L411 418.3 L410.6 422.3 L410.2 426.3 L409.9 430.3 L409.5 434.3 L409 438.3 L408.6 442.3 L408.1 446.3 L407.6 450.3 L407.1 454.3 L406.7 458.3 L406.2 462.3 L405.7 466.3 L405.2 470.3 L404.9 474.3 L404.6 478.3 L404.2 482.3 L403.9 486.3 L403.5 490.3 L403.2 494.3 L402.9 498.3 L402.5 502.3 L402.2 506.3 L401.9 510.3 L401.5 514 L401.5 518 Z"/>
<path fill="#b2d5eb" d="M390.9 518 L390.9 300.3 L639.9 300.3 L639.9 304.6 L594.9 304.9 L525.1 305.1 L496.5 305.4 L477.4 305.6 L469.9 305.9 L466.1 306.1 L462.7 306.4 L460.7 306.6 L459.6 306.9 L458.6 307.1 L457.6 307.4 L456.5 307.6 L455.5 307.9 L454.4 308.1 L453.4 308.4 L452.3 308.6 L451.3 308.9 L450.5 309.1 L450 309.4 L449.5 309.6 L449 309.9 L448.5 310.1 L448.1 310.3 L446.2 311.3 L444.2 312.3 L442.2 313.3 L440.7 314.3 L439.8 315.3 L438.9 316.3 L438 317.3 L437.1 318.3 L436.2 319.3 L435.4 320.3 L434.7 321.3 L434 322.3 L433.4 323.3 L432.8 324.3 L432.2 325.3 L431.6 326.3 L431 327.3 L430.5 328.3 L430 329.3 L429.5 330.3 L429.1 331.3 L428.6 332.3 L428.1 333.3 L427.6 334.3 L425.9 338.3 L424.3 342.3 L423 346.3 L421.8 350.3 L420.7 354.3 L419.7 358.3 L418.7 362.3 L417.9 366.3 L417.2 370.3 L416.4 374.3 L415.6 378.3 L414.8 382.3 L414.1 386.3 L413.5 390.3 L412.9 394.3 L412.2 398.3 L411.7 402.3 L411.2 406.3 L410.6 410.3 L410.1 414.3 L409.7 418.3 L409.4 422.3 L409 426.3 L408.7 430.3 L408.4 434.3 L407.9 438.3 L407.5 442.3 L407 446.3 L406.6 450.3 L406.1 454.3 L405.7 458.3 L405.2 462.3 L404.7 466.3 L404.3 470.3 L404 474.3 L403.7 478.3 L403.4 482.3 L403.1 486.3 L402.8 490.3 L402.5 494.3 L402.2 498.3 L401.9 502.3 L401.6 506.3 L401.2 510.3 L401 514 L401 518 Z"/>
<path fill="#acd1ea" d="M390.9 518 L390.9 300.3 L639.9 300.3 L639.9 304.6 L582.9 304.9 L518.5 305.1 L489.6 305.4 L471.6 305.6 L464.1 305.9 L460.8 306.1 L457.7 306.4 L455.7 306.6 L454.7 306.9 L453.8 307.1 L452.8 307.4 L451.8 307.6 L450.9 307.9 L449.9 308.1 L448.9 308.4 L448 308.6 L447 308.9 L446.2 309.1 L445.8 309.4 L445.4 309.6 L444.9 309.9 L444.5 310.1 L444.1 310.3 L442.4 311.3 L440.6 312.3 L438.8 313.3 L437.4 314.3 L436.5 315.3 L435.7 316.3 L434.9 317.3 L434.1 318.3 L433.2 319.3 L432.5 320.3 L431.8 321.3 L431.2 322.3 L430.6 323.3 L430 324.3 L429.5 325.3 L428.9 326.3 L428.3 327.3 L427.9 328.3 L427.4 329.3 L427 330.3 L426.5 331.3 L426.1 332.3 L425.6 333.3 L425.2 334.3 L423.6 338.3 L421.9 342.3 L420.8 346.3 L419.7 350.3 L418.7 354.3 L417.8 358.3 L416.9 362.3 L416.2 366.3 L415.5 370.3 L414.8 374.3 L414.1 378.3 L413.3 382.3 L412.7 386.3 L412.1 390.3 L411.5 394.3 L411 398.3 L410.4 402.3 L410 406.3 L409.5 410.3 L409 414.3 L408.6 418.3 L408.3 422.3 L408 426.3 L407.7 430.3 L407.4 434.3 L407 438.3 L406.6 442.3 L406.1 446.3 L405.7 450.3 L405.2 454.3 L404.8 458.3 L404.4 462.3 L403.9 466.3 L403.5 470.3 L403.2 474.3 L403 478.3 L402.7 482.3 L402.4 486.3 L402.1 490.3 L401.8 494.3 L401.6 498.3 L401.3 502.3 L401 506.3 L400.7 510.3 L400.5 514 L400.5 518 Z"/>
<path fill="#a6cee8" d="M390.9 518 L390.9 300.3 L639.9 300.3 L639.9 304.4 L632 304.6 L572.4 304.9 L512.6 305.1 L483.6 305.4 L466.5 305.6 L459.1 305.9 L456.2 306.1 L453.5 306.4 L451.4 306.6 L450.5 306.9 L449.6 307.1 L448.7 307.4 L447.8 307.6 L446.9 307.9 L446 308.1 L445.1 308.4 L444.2 308.6 L443.3 308.9 L442.6 309.1 L442.2 309.4 L441.8 309.6 L441.4 309.9 L441 310.1 L440.7 310.3 L439.1 311.3 L437.5 312.3 L435.9 313.3 L434.5 314.3 L433.7 315.3 L433 316.3 L432.2 317.3 L431.5 318.3 L430.7 319.3 L430 320.3 L429.3 321.3 L428.7 322.3 L428.2 323.3 L427.7 324.3 L427.1 325.3 L426.6 326.3 L426.1 327.3 L425.6 328.3 L425.2 329.3 L424.8 330.3 L424.4 331.3 L423.9 332.3 L423.5 333.3 L423.1 334.3 L421.5 338.3 L420 342.3 L419 346.3 L417.9 350.3 L417 354.3 L416.2 358.3 L415.4 362.3 L414.7 366.3 L414.1 370.3 L413.4 374.3 L412.7 378.3 L412.1 382.3 L411.5 386.3 L410.9 390.3 L410.4 394.3 L409.9 398.3 L409.4 402.3 L408.9 406.3 L408.5 410.3 L408 414.3 L407.7 418.3 L407.4 422.3 L407.1 426.3 L406.9 430.3 L406.6 434.3 L406.2 438.3 L405.8 442.3 L405.3 446.3 L404.9 450.3 L404.5 454.3 L404.1 458.3 L403.7 462.3 L403.3 466.3 L402.9 470.3 L402.6 474.3 L402.3 478.3 L402.1 482.3 L401.8 486.3 L401.6 490.3 L401.3 494.3 L401.1 498.3 L400.8 502.3 L400.6 506.3 L400.3 510.3 L400.1 514 L400.1 518 Z"/>
<path fill="#a0cbe6" d="M390.9 518 L390.9 300.3 L639.9 300.3 L639.9 304.4 L618.8 304.6 L563.2 304.9 L507.5 305.1 L478.4 305.4 L462.2 305.6 L454.8 305.9 L452.2 306.1 L449.8 306.4 L447.7 306.6 L446.9 306.9 L446 307.1 L445.2 307.4 L444.3 307.6 L443.5 307.9 L442.7 308.1 L441.8 308.4 L441 308.6 L440.1 308.9 L439.5 309.1 L439.1 309.4 L438.8 309.6 L438.4 309.9 L438 310.1 L437.7 310.3 L436.3 311.3 L434.8 312.3 L433.4 313.3 L432 314.3 L431.3 315.3 L430.6 316.3 L429.9 317.3 L429.2 318.3 L428.5 319.3 L427.8 320.3 L427.1 321.3 L426.6 322.3 L426.1 323.3 L425.6 324.3 L425.1 325.3 L424.6 326.3 L424.1 327.3 L423.7 328.3 L423.3 329.3 L422.9 330.3 L422.5 331.3 L422.1 332.3 L421.7 333.3 L421.3 334.3 L419.8 338.3 L418.3 342.3 L417.3 346.3 L416.4 350.3 L415.5 354.3 L414.7 358.3 L414.1 362.3 L413.4 366.3 L412.8 370.3 L412.2 374.3 L411.6 378.3 L411 382.3 L410.4 386.3 L409.9 390.3 L409.4 394.3 L408.9 398.3 L408.5 402.3 L408 406.3 L407.6 410.3 L407.2 414.3 L406.9 418.3 L406.6 422.3 L406.4 426.3 L406.1 430.3 L405.9 434.3 L405.5 438.3 L405.1 442.3 L404.7 446.3 L404.3 450.3 L403.9 454.3 L403.5 458.3 L403.1 462.3 L402.7 466.3 L402.3 470.3 L402 474.3 L401.8 478.3 L401.6 482.3 L401.3 486.3 L401.1 490.3 L400.9 494.3 L400.6 498.3 L400.4 502.3 L400.2 506.3 L399.9 510.3 L399.7 514 L399.7 518 Z"/>
<path fill="#9ac7e5" d="M390.9 518 L390.9 300.3 L639.9 300.3 L639.9 304.4 L607.1 304.6 L555 304.9 L502.8 305.1 L473.8 305.4 L458.3 305.6 L451 305.9 L448.8 306.1 L446.5 306.4 L444.5 306.6 L443.7 306.9 L442.9 307.1 L442.1 307.4 L441.3 307.6 L440.5 307.9 L439.7 308.1 L438.9 308.4 L438.1 308.6 L437.3 308.9 L436.7 309.1 L436.4 309.4 L436.1 309.6 L435.7 309.9 L435.4 310.1 L435.1 310.3 L433.8 311.3 L432.5 312.3 L431.1 313.3 L429.8 314.3 L429.2 315.3 L428.5 316.3 L427.8 317.3 L427.2 318.3 L426.5 319.3 L425.9 320.3 L425.2 321.3 L424.7 322.3 L424.2 323.3 L423.8 324.3 L423.3 325.3 L422.8 326.3 L422.3 327.3 L421.9 328.3 L421.6 329.3 L421.2 330.3 L420.8 331.3 L420.5 332.3 L420.1 333.3 L419.7 334.3 L418.2 338.3 L416.8 342.3 L415.9 346.3 L415.1 350.3 L414.2 354.3 L413.5 358.3 L412.9 362.3 L412.3 366.3 L411.7 370.3 L411.2 374.3 L410.6 378.3 L410 382.3 L409.5 386.3 L409 390.3 L408.5 394.3 L408.1 398.3 L407.7 402.3 L407.3 406.3 L406.8 410.3 L406.4 414.3 L406.2 418.3 L405.9 422.3 L405.7 426.3 L405.5 430.3 L405.2 434.3 L404.8 438.3 L404.5 442.3 L404.1 446.3 L403.7 450.3 L403.3 454.3 L402.9 458.3 L402.5 462.3 L402.2 466.3 L401.8 470.3 L401.6 474.3 L401.3 478.3 L401.1 482.3 L400.9 486.3 L400.7 490.3 L400.5 494.3 L400.2 498.3 L400 502.3 L399.8 506.3 L399.6 510.3 L399.4 514 L399.4 518 Z"/>
<path fill="#94c4e3" d="M390.9 518 L390.9 300.3 L639.9 300.3 L639.9 304.4 L597.8 304.6 L548 304.9 L498.1 305.1 L469.7 305.4 L454.8 305.6 L447.8 305.9 L445.8 306.1 L443.7 306.4 L441.7 306.6 L440.9 306.9 L440.2 307.1 L439.4 307.4 L438.7 307.6 L437.9 307.9 L437.2 308.1 L436.4 308.4 L435.7 308.6 L434.9 308.9 L434.3 309.1 L434 309.4 L433.7 309.6 L433.4 309.9 L433.1 310.1 L432.8 310.3 L431.6 311.3 L430.3 312.3 L429.1 313.3 L427.9 314.3 L427.2 315.3 L426.6 316.3 L426 317.3 L425.4 318.3 L424.7 319.3 L424.1 320.3 L423.5 321.3 L423 322.3 L422.6 323.3 L422.1 324.3 L421.7 325.3 L421.2 326.3 L420.8 327.3 L420.4 328.3 L420 329.3 L419.7 330.3 L419.3 331.3 L419 332.3 L418.6 333.3 L418.3 334.3 L416.9 338.3 L415.5 342.3 L414.7 346.3 L413.9 350.3 L413.1 354.3 L412.4 358.3 L411.9 362.3 L411.3 366.3 L410.8 370.3 L410.2 374.3 L409.7 378.3 L409.2 382.3 L408.7 386.3 L408.2 390.3 L407.8 394.3 L407.4 398.3 L407 402.3 L406.6 406.3 L406.2 410.3 L405.8 414.3 L405.5 418.3 L405.3 422.3 L405.1 426.3 L404.9 430.3 L404.7 434.3 L404.3 438.3 L403.9 442.3 L403.6 446.3 L403.2 450.3 L402.8 454.3 L402.4 458.3 L402.1 462.3 L401.7 466.3 L401.3 470.3 L401.1 474.3 L400.9 478.3 L400.7 482.3 L400.5 486.3 L400.3 490.3 L400.1 494.3 L399.9 498.3 L399.7 502.3 L399.5 506.3 L399.3 510.3 L399.1 514 L399.1 518 Z"/>
<path fill="#8ec0e2" d="M390.9 518 L390.9 300.3 L639.9 300.3 L639.9 304.4 L591.7 304.6 L542.4 304.9 L492.8 305.1 L466.2 305.4 L451.6 305.6 L445.2 305.9 L443.3 306.1 L441.3 306.4 L439.3 306.6 L438.6 306.9 L437.9 307.1 L437.2 307.4 L436.5 307.6 L435.7 307.9 L435 308.1 L434.3 308.4 L433.6 308.6 L432.9 308.9 L432.3 309.1 L431.9 309.4 L431.6 309.6 L431.3 309.9 L431 310.1 L430.8 310.3 L429.6 311.3 L428.4 312.3 L427.2 313.3 L426.1 314.3 L425.4 315.3 L424.8 316.3 L424.2 317.3 L423.7 318.3 L423.1 319.3 L422.5 320.3 L421.9 321.3 L421.4 322.3 L421 323.3 L420.6 324.3 L420.2 325.3 L419.7 326.3 L419.3 327.3 L419 328.3 L418.7 329.3 L418.3 330.3 L418 331.3 L417.7 332.3 L417.3 333.3 L417 334.3 L415.7 338.3 L414.4 342.3 L413.6 346.3 L412.8 350.3 L412.1 354.3 L411.5 358.3 L411 362.3 L410.4 366.3 L409.9 370.3 L409.4 374.3 L408.9 378.3 L408.4 382.3 L407.9 386.3 L407.5 390.3 L407.1 394.3 L406.7 398.3 L406.4 402.3 L406 406.3 L405.6 410.3 L405.3 414.3 L405 418.3 L404.8 422.3 L404.6 426.3 L404.4 430.3 L404.2 434.3 L403.8 438.3 L403.5 442.3 L403.1 446.3 L402.7 450.3 L402.4 454.3 L402 458.3 L401.7 462.3 L401.3 466.3 L401 470.3 L400.8 474.3 L400.6 478.3 L400.4 482.3 L400.2 486.3 L400 490.3 L399.9 494.3 L399.7 498.3 L399.5 502.3 L399.3 506.3 L399.1 510.3 L398.9 514 L398.9 518 Z"/>
<path fill="#88bde0" d="M390.9 518 L390.9 300.3 L639.9 300.3 L639.9 304.4 L586 304.6 L537.2 304.9 L488 305.1 L463 305.4 L448.7 305.6 L442.9 305.9 L441 306.1 L439.1 306.4 L437.2 306.6 L436.5 306.9 L435.9 307.1 L435.2 307.4 L434.5 307.6 L433.8 307.9 L433.1 308.1 L432.4 308.4 L431.7 308.6 L431 308.9 L430.4 309.1 L430.1 309.4 L429.7 309.6 L429.5 309.9 L429.2 310.1 L428.9 310.3 L427.8 311.3 L426.7 312.3 L425.6 313.3 L424.5 314.3 L423.8 315.3 L423.2 316.3 L422.7 317.3 L422.1 318.3 L421.6 319.3 L421 320.3 L420.5 321.3 L420 322.3 L419.6 323.3 L419.2 324.3 L418.8 325.3 L418.4 326.3 L418 327.3 L417.7 328.3 L417.4 329.3 L417.1 330.3 L416.8 331.3 L416.5 332.3 L416.2 333.3 L415.9 334.3 L414.6 338.3 L413.4 342.3 L412.7 346.3 L411.9 350.3 L411.2 354.3 L410.7 358.3 L410.1 362.3 L409.6 366.3 L409.2 370.3 L408.7 374.3 L408.2 378.3 L407.8 382.3 L407.3 386.3 L406.9 390.3 L406.5 394.3 L406.1 398.3 L405.8 402.3 L405.5 406.3 L405.1 410.3 L404.8 414.3 L404.5 418.3 L404.4 422.3 L404.2 426.3 L404 430.3 L403.7 434.3 L403.4 438.3 L403 442.3 L402.7 446.3 L402.4 450.3 L402 454.3 L401.7 458.3 L401.3 462.3 L401 466.3 L400.6 470.3 L400.5 474.3 L400.3 478.3 L400.1 482.3 L399.9 486.3 L399.8 490.3 L399.6 494.3 L399.4 498.3 L399.3 502.3 L399.1 506.3 L398.9 510.3 L398.8 514 L398.8 518 Z"/>
<path fill="#82badf" d="M390.9 518 L390.9 300.3 L639.9 300.3 L639.9 304.4 L580.8 304.6 L532.5 304.9 L483.7 305.1 L460.1 305.4 L446.1 305.6 L440.8 305.9 L439 306.1 L437.2 306.4 L435.3 306.6 L434.7 306.9 L434 307.1 L433.3 307.4 L432.7 307.6 L432 307.9 L431.3 308.1 L430.7 308.4 L430 308.6 L429.3 308.9 L428.8 309.1 L428.4 309.4 L428 309.6 L427.8 309.9 L427.5 310.1 L427.3 310.3 L426.2 311.3 L425.2 312.3 L424.1 313.3 L423 314.3 L422.4 315.3 L421.8 316.3 L421.3 317.3 L420.8 318.3 L420.2 319.3 L419.7 320.3 L419.2 321.3 L418.7 322.3 L418.3 323.3 L418 324.3 L417.6 325.3 L417.2 326.3 L416.9 327.3 L416.6 328.3 L416.3 329.3 L416 330.3 L415.7 331.3 L415.4 332.3 L415.1 333.3 L414.8 334.3 L413.6 338.3 L412.5 342.3 L411.8 346.3 L411.1 350.3 L410.4 354.3 L409.9 358.3 L409.4 362.3 L408.9 366.3 L408.5 370.3 L408 374.3 L407.6 378.3 L407.2 382.3 L406.7 386.3 L406.3 390.3 L405.9 394.3 L405.6 398.3 L405.3 402.3 L405 406.3 L404.7 410.3 L404.3 414.3 L404.1 418.3 L403.9 422.3 L403.7 426.3 L403.6 430.3 L403.3 434.3 L403 438.3 L402.7 442.3 L402.3 446.3 L402 450.3 L401.7 454.3 L401.3 458.3 L401 462.3 L400.6 466.3 L400.3 470.3 L400.2 474.3 L400 478.3 L399.9 482.3 L399.7 486.3 L399.5 490.3 L399.4 494.3 L399.2 498.3 L399.1 502.3 L398.9 506.3 L398.7 510.3 L398.6 514 L398.6 518 Z"/>
<path fill="#7bb6dd" d="M390.9 518 L390.9 300.3 L639.9 300.3 L639.9 304.4 L576 304.6 L528.2 304.9 L479.8 305.1 L457.5 305.4 L443.7 305.6 L438.9 305.9 L437.1 306.1 L435.4 306.4 L433.6 306.6 L433 306.9 L432.3 307.1 L431.7 307.4 L431 307.6 L430.4 307.9 L429.7 308.1 L429.1 308.4 L428.5 308.6 L427.8 308.9 L427.3 309.1 L426.9 309.4 L426.5 309.6 L426.3 309.9 L426 310.1 L425.8 310.3 L424.8 311.3 L423.7 312.3 L422.7 313.3 L421.7 314.3 L421.1 315.3 L420.5 316.3 L420 317.3 L419.5 318.3 L419 319.3 L418.5 320.3 L418 321.3 L417.6 322.3 L417.2 323.3 L416.8 324.3 L416.5 325.3 L416.2 326.3 L415.8 327.3 L415.5 328.3 L415.3 329.3 L415 330.3 L414.7 331.3 L414.4 332.3 L414.2 333.3 L413.9 334.3 L412.8 338.3 L411.7 342.3 L411 346.3 L410.3 350.3 L409.7 354.3 L409.2 358.3 L408.7 362.3 L408.3 366.3 L407.9 370.3 L407.4 374.3 L407 378.3 L406.6 382.3 L406.2 386.3 L405.8 390.3 L405.5 394.3 L405.1 398.3 L404.8 402.3 L404.5 406.3 L404.2 410.3 L403.9 414.3 L403.7 418.3 L403.6 422.3 L403.4 426.3 L403.2 430.3 L403 434.3 L402.7 438.3 L402.3 442.3 L402 446.3 L401.7 450.3 L401.3 454.3 L401 458.3 L400.7 462.3 L400.4 466.3 L400.1 470.3 L399.9 474.3 L399.8 478.3 L399.6 482.3 L399.5 486.3 L399.3 490.3 L399.2 494.3 L399 498.3 L398.9 502.3 L398.7 506.3 L398.6 510.3 L398.4 514 L398.4 518 Z"/>
<path fill="#75b3db" d="M390.9 518 L390.9 300.3 L639.9 300.3 L639.9 304.4 L571.5 304.6 L524.2 304.9 L476.2 305.1 L455.1 305.4 L441.6 305.6 L437.1 305.9 L435.4 306.1 L433.7 306.4 L432 306.6 L431.4 306.9 L430.8 307.1 L430.2 307.4 L429.5 307.6 L428.9 307.9 L428.3 308.1 L427.7 308.4 L427.1 308.6 L426.4 308.9 L425.9 309.1 L425.5 309.4 L425.1 309.6 L424.9 309.9 L424.6 310.1 L424.4 310.3 L423.5 311.3 L422.5 312.3 L421.5 313.3 L420.5 314.3 L419.9 315.3 L419.3 316.3 L418.9 317.3 L418.4 318.3 L417.9 319.3 L417.4 320.3 L416.9 321.3 L416.5 322.3 L416.2 323.3 L415.8 324.3 L415.5 325.3 L415.2 326.3 L414.9 327.3 L414.6 328.3 L414.3 329.3 L414.1 330.3 L413.8 331.3 L413.6 332.3 L413.3 333.3 L413 334.3 L412 338.3 L411 342.3 L410.3 346.3 L409.7 350.3 L409 354.3 L408.6 358.3 L408.1 362.3 L407.7 366.3 L407.3 370.3 L406.9 374.3 L406.5 378.3 L406.1 382.3 L405.7 386.3 L405.3 390.3 L405 394.3 L404.7 398.3 L404.4 402.3 L404.1 406.3 L403.9 410.3 L403.6 414.3 L403.4 418.3 L403.2 422.3 L403 426.3 L402.8 430.3 L402.6 434.3 L402.3 438.3 L402 442.3 L401.7 446.3 L401.4 450.3 L401.1 454.3 L400.7 458.3 L400.4 462.3 L400.1 466.3 L399.8 470.3 L399.7 474.3 L399.5 478.3 L399.4 482.3 L399.3 486.3 L399.1 490.3 L399 494.3 L398.8 498.3 L398.7 502.3 L398.6 506.3 L398.4 510.3 L398.3 514 L398.3 518 Z"/>
<path fill="#6fafda" d="M390.9 518 L390.9 300.3 L639.9 300.3 L639.9 304.4 L567.3 304.6 L520.5 304.9 L473 305.1 L452.9 305.4 L439.6 305.6 L435.5 305.9 L433.8 306.1 L432.2 306.4 L430.6 306.6 L430 306.9 L429.4 307.1 L428.8 307.4 L428.2 307.6 L427.6 307.9 L427 308.1 L426.4 308.4 L425.8 308.6 L425.2 308.9 L424.6 309.1 L424.2 309.4 L423.9 309.6 L423.6 309.9 L423.4 310.1 L423.2 310.3 L422.2 311.3 L421.3 312.3 L420.4 313.3 L419.4 314.3 L418.8 315.3 L418.3 316.3 L417.8 317.3 L417.3 318.3 L416.9 319.3 L416.4 320.3 L416 321.3 L415.6 322.3 L415.2 323.3 L414.9 324.3 L414.6 325.3 L414.3 326.3 L414 327.3 L413.7 328.3 L413.5 329.3 L413.2 330.3 L413 331.3 L412.7 332.3 L412.5 333.3 L412.2 334.3 L411.3 338.3 L410.3 342.3 L409.7 346.3 L409 350.3 L408.4 354.3 L408 358.3 L407.6 362.3 L407.2 366.3 L406.8 370.3 L406.4 374.3 L406 378.3 L405.6 382.3 L405.3 386.3 L404.9 390.3 L404.6 394.3 L404.3 398.3 L404 402.3 L403.8 406.3 L403.5 410.3 L403.2 414.3 L403.1 418.3 L402.9 422.3 L402.7 426.3 L402.5 430.3 L402.3 434.3 L402 438.3 L401.7 442.3 L401.4 446.3 L401.1 450.3 L400.8 454.3 L400.5 458.3 L400.2 462.3 L399.9 466.3 L399.6 470.3 L399.4 474.3 L399.3 478.3 L399.2 482.3 L399.1 486.3 L398.9 490.3 L398.8 494.3 L398.7 498.3 L398.6 502.3 L398.4 506.3 L398.3 510.3 L398.2 514 L398.2 518 Z"/>
<path fill="#69acd8" d="M390.9 518 L390.9 300.3 L639.9 300.3 L639.9 304.4 L563.4 304.6 L517 304.9 L470 305.1 L450.8 305.4 L437.8 305.6 L434 305.9 L432.4 306.1 L430.8 306.4 L429.3 306.6 L428.7 306.9 L428.1 307.1 L427.5 307.4 L426.9 307.6 L426.3 307.9 L425.8 308.1 L425.2 308.4 L424.6 308.6 L424 308.9 L423.5 309.1 L423.1 309.4 L422.7 309.6 L422.5 309.9 L422.2 310.1 L422 310.3 L421.1 311.3 L420.2 312.3 L419.3 313.3 L418.4 314.3 L417.8 315.3 L417.3 316.3 L416.8 317.3 L416.4 318.3 L416 319.3 L415.5 320.3 L415.1 321.3 L414.7 322.3 L414.3 323.3 L414 324.3 L413.8 325.3 L413.5 326.3 L413.2 327.3 L413 328.3 L412.7 329.3 L412.5 330.3 L412.2 331.3 L412 332.3 L411.8 333.3 L411.5 334.3 L410.6 338.3 L409.7 342.3 L409.1 346.3 L408.5 350.3 L407.9 354.3 L407.5 358.3 L407.1 362.3 L406.7 366.3 L406.3 370.3 L405.9 374.3 L405.6 378.3 L405.2 382.3 L404.9 386.3 L404.5 390.3 L404.2 394.3 L403.9 398.3 L403.7 402.3 L403.4 406.3 L403.2 410.3 L402.9 414.3 L402.8 418.3 L402.6 422.3 L402.4 426.3 L402.3 430.3 L402.1 434.3 L401.8 438.3 L401.5 442.3 L401.2 446.3 L400.9 450.3 L400.6 454.3 L400.3 458.3 L400 462.3 L399.7 466.3 L399.4 470.3 L399.3 474.3 L399.1 478.3 L399 482.3 L398.9 486.3 L398.8 490.3 L398.7 494.3 L398.5 498.3 L398.4 502.3 L398.3 506.3 L398.2 510.3 L398.1 514 L398.1 518 Z"/>
<path fill="#63a9d7" d="M390.9 518 L390.9 300.3 L639.9 300.3 L639.9 304.4 L559.7 304.6 L513.8 304.9 L467.2 305.1 L448.9 305.4 L436.1 305.6 L432.6 305.9 L431.1 306.1 L429.6 306.4 L428 306.6 L427.5 306.9 L426.9 307.1 L426.3 307.4 L425.8 307.6 L425.2 307.9 L424.6 308.1 L424.1 308.4 L423.5 308.6 L422.9 308.9 L422.4 309.1 L422 309.4 L421.6 309.6 L421.4 309.9 L421.2 310.1 L421 310.3 L420.1 311.3 L419.2 312.3 L418.4 313.3 L417.5 314.3 L416.9 315.3 L416.4 316.3 L416 317.3 L415.5 318.3 L415.1 319.3 L414.7 320.3 L414.3 321.3 L413.9 322.3 L413.6 323.3 L413.3 324.3 L413 325.3 L412.7 326.3 L412.5 327.3 L412.2 328.3 L412 329.3 L411.8 330.3 L411.6 331.3 L411.3 332.3 L411.1 333.3 L410.9 334.3 L410 338.3 L409.1 342.3 L408.5 346.3 L407.9 350.3 L407.4 354.3 L407 358.3 L406.6 362.3 L406.2 366.3 L405.9 370.3 L405.5 374.3 L405.2 378.3 L404.8 382.3 L404.5 386.3 L404.2 390.3 L403.9 394.3 L403.6 398.3 L403.4 402.3 L403.1 406.3 L402.9 410.3 L402.7 414.3 L402.5 418.3 L402.3 422.3 L402.2 426.3 L402 430.3 L401.8 434.3 L401.5 438.3 L401.2 442.3 L400.9 446.3 L400.6 450.3 L400.3 454.3 L400.1 458.3 L399.8 462.3 L399.5 466.3 L399.2 470.3 L399.1 474.3 L399 478.3 L398.8 482.3 L398.7 486.3 L398.6 490.3 L398.5 494.3 L398.4 498.3 L398.3 502.3 L398.2 506.3 L398.1 510.3 L398 514 L398 518 Z"/>
<path fill="#5da5d5" d="M390.9 518 L390.9 300.3 L639.9 300.3 L639.9 304.4 L556.2 304.6 L510.8 304.9 L464.6 305.1 L447.2 305.4 L434.6 305.6 L431.3 305.9 L429.9 306.1 L428.4 306.4 L426.9 306.6 L426.3 306.9 L425.8 307.1 L425.2 307.4 L424.7 307.6 L424.1 307.9 L423.6 308.1 L423 308.4 L422.5 308.6 L421.9 308.9 L421.4 309.1 L421 309.4 L420.6 309.6 L420.4 309.9 L420.2 310.1 L420 310.3 L419.2 311.3 L418.3 312.3 L417.5 313.3 L416.6 314.3 L416 315.3 L415.5 316.3 L415.1 317.3 L414.7 318.3 L414.3 319.3 L413.9 320.3 L413.5 321.3 L413.2 322.3 L412.8 323.3 L412.5 324.3 L412.3 325.3 L412 326.3 L411.8 327.3 L411.6 328.3 L411.4 329.3 L411.1 330.3 L410.9 331.3 L410.7 332.3 L410.5 333.3 L410.3 334.3 L409.4 338.3 L408.6 342.3 L408 346.3 L407.5 350.3 L406.9 354.3 L406.5 358.3 L406.2 362.3 L405.8 366.3 L405.5 370.3 L405.1 374.3 L404.8 378.3 L404.5 382.3 L404.1 386.3 L403.8 390.3 L403.5 394.3 L403.3 398.3 L403.1 402.3 L402.8 406.3 L402.6 410.3 L402.4 414.3 L402.2 418.3 L402.1 422.3 L401.9 426.3 L401.7 430.3 L401.6 434.3 L401.3 438.3 L401 442.3 L400.7 446.3 L400.4 450.3 L400.1 454.3 L399.9 458.3 L399.6 462.3 L399.3 466.3 L399 470.3 L398.9 474.3 L398.8 478.3 L398.7 482.3 L398.6 486.3 L398.5 490.3 L398.4 494.3 L398.3 498.3 L398.2 502.3 L398.1 506.3 L398 510.3 L397.9 514 L397.9 518 Z"/>
<path fill="#57a2d3" d="M390.9 518 L390.9 300.3 L639.9 300.3 L639.9 304.4 L553 304.6 L508 304.9 L462.2 305.1 L445.5 305.4 L433.1 305.6 L430.1 305.9 L428.7 306.1 L427.3 306.4 L425.8 306.6 L425.3 306.9 L424.8 307.1 L424.2 307.4 L423.7 307.6 L423.1 307.9 L422.6 308.1 L422.1 308.4 L421.5 308.6 L421 308.9 L420.5 309.1 L420.1 309.4 L419.7 309.6 L419.5 309.9 L419.3 310.1 L419.1 310.3 L418.3 311.3 L417.5 312.3 L416.7 313.3 L415.9 314.3 L415.2 315.3 L414.8 316.3 L414.4 317.3 L414 318.3 L413.6 319.3 L413.2 320.3 L412.8 321.3 L412.5 322.3 L412.1 323.3 L411.9 324.3 L411.6 325.3 L411.4 326.3 L411.2 327.3 L411 328.3 L410.7 329.3 L410.5 330.3 L410.3 331.3 L410.1 332.3 L409.9 333.3 L409.7 334.3 L408.9 338.3 L408.1 342.3 L407.6 346.3 L407 350.3 L406.5 354.3 L406.1 358.3 L405.8 362.3 L405.4 366.3 L405.1 370.3 L404.8 374.3 L404.5 378.3 L404.1 382.3 L403.8 386.3 L403.5 390.3 L403.2 394.3 L403 398.3 L402.8 402.3 L402.6 406.3 L402.4 410.3 L402.1 414.3 L402 418.3 L401.8 422.3 L401.7 426.3 L401.5 430.3 L401.3 434.3 L401.1 438.3 L400.8 442.3 L400.5 446.3 L400.2 450.3 L400 454.3 L399.7 458.3 L399.4 462.3 L399.1 466.3 L398.8 470.3 L398.7 474.3 L398.7 478.3 L398.6 482.3 L398.5 486.3 L398.4 490.3 L398.3 494.3 L398.2 498.3 L398.1 502.3 L398 506.3 L397.9 510.3 L397.8 514 L397.8 518 Z"/>
<path fill="#519fd2" d="M390.9 518 L390.9 300.3 L639.9 300.3 L639.9 304.4 L549.9 304.6 L505.3 304.9 L460 305.1 L444 305.4 L431.8 305.6 L429 305.9 L427.6 306.1 L426.2 306.4 L424.8 306.6 L424.3 306.9 L423.8 307.1 L423.3 307.4 L422.7 307.6 L422.2 307.9 L421.7 308.1 L421.2 308.4 L420.7 308.6 L420.1 308.9 L419.7 309.1 L419.2 309.4 L418.8 309.6 L418.6 309.9 L418.4 310.1 L418.3 310.3 L417.5 311.3 L416.7 312.3 L415.9 313.3 L415.1 314.3 L414.5 315.3 L414.1 316.3 L413.7 317.3 L413.3 318.3 L412.9 319.3 L412.6 320.3 L412.2 321.3 L411.8 322.3 L411.5 323.3 L411.3 324.3 L411 325.3 L410.8 326.3 L410.6 327.3 L410.4 328.3 L410.2 329.3 L410 330.3 L409.8 331.3 L409.6 332.3 L409.4 333.3 L409.2 334.3 L408.4 338.3 L407.7 342.3 L407.1 346.3 L406.6 350.3 L406.1 354.3 L405.7 358.3 L405.4 362.3 L405.1 366.3 L404.7 370.3 L404.4 374.3 L404.1 378.3 L403.8 382.3 L403.5 386.3 L403.2 390.3 L403 394.3 L402.7 398.3 L402.5 402.3 L402.3 406.3 L402.1 410.3 L401.9 414.3 L401.8 418.3 L401.6 422.3 L401.5 426.3 L401.3 430.3 L401.1 434.3 L400.9 438.3 L400.6 442.3 L400.3 446.3 L400.1 450.3 L399.8 454.3 L399.5 458.3 L399.2 462.3 L399 466.3 L398.7 470.3 L398.6 474.3 L398.5 478.3 L398.4 482.3 L398.3 486.3 L398.2 490.3 L398.1 494.3 L398.1 498.3 L398 502.3 L397.9 506.3 L397.8 510.3 L397.7 514 L397.7 518 Z"/>
<path fill="#4a9bd0" d="M390.9 518 L390.9 300.3 L639.9 300.3 L639.9 304.4 L547 304.6 L502.8 304.9 L457.9 305.1 L442.6 305.4 L430.6 305.6 L428 305.9 L426.6 306.1 L425.3 306.4 L423.9 306.6 L423.4 306.9 L422.9 307.1 L422.4 307.4 L421.9 307.6 L421.4 307.9 L420.9 308.1 L420.3 308.4 L419.8 308.6 L419.3 308.9 L418.9 309.1 L418.4 309.4 L418 309.6 L417.8 309.9 L417.7 310.1 L417.5 310.3 L416.7 311.3 L416 312.3 L415.2 313.3 L414.4 314.3 L413.8 315.3 L413.4 316.3 L413 317.3 L412.7 318.3 L412.3 319.3 L411.9 320.3 L411.6 321.3 L411.2 322.3 L410.9 323.3 L410.7 324.3 L410.5 325.3 L410.3 326.3 L410 327.3 L409.8 328.3 L409.7 329.3 L409.5 330.3 L409.3 331.3 L409.1 332.3 L408.9 333.3 L408.7 334.3 L407.9 338.3 L407.2 342.3 L406.7 346.3 L406.2 350.3 L405.7 354.3 L405.4 358.3 L405 362.3 L404.7 366.3 L404.4 370.3 L404.1 374.3 L403.8 378.3 L403.5 382.3 L403.2 386.3 L403 390.3 L402.7 394.3 L402.5 398.3 L402.3 402.3 L402.1 406.3 L401.9 410.3 L401.7 414.3 L401.6 418.3 L401.4 422.3 L401.3 426.3 L401.1 430.3 L400.9 434.3 L400.7 438.3 L400.4 442.3 L400.1 446.3 L399.9 450.3 L399.6 454.3 L399.3 458.3 L399.1 462.3 L398.8 466.3 L398.6 470.3 L398.5 474.3 L398.4 478.3 L398.3 482.3 L398.2 486.3 L398.1 490.3 L398 494.3 L398 498.3 L397.9 502.3 L397.8 506.3 L397.7 510.3 L397.6 514 L397.6 518 Z"/>
<path fill="#4498cf" d="M390.9 518 L390.9 300.3 L639.9 300.3 L639.9 304.4 L544.3 304.6 L500.4 304.9 L456 305.1 L441.2 305.4 L429.4 305.6 L427 305.9 L425.7 306.1 L424.4 306.4 L423.1 306.6 L422.6 306.9 L422.1 307.1 L421.6 307.4 L421.1 307.6 L420.6 307.9 L420.1 308.1 L419.6 308.4 L419.1 308.6 L418.6 308.9 L418.1 309.1 L417.7 309.4 L417.3 309.6 L417.1 309.9 L416.9 310.1 L416.8 310.3 L416 311.3 L415.3 312.3 L414.5 313.3 L413.8 314.3 L413.2 315.3 L412.8 316.3 L412.4 317.3 L412.1 318.3 L411.7 319.3 L411.4 320.3 L411 321.3 L410.7 322.3 L410.4 323.3 L410.1 324.3 L409.9 325.3 L409.7 326.3 L409.5 327.3 L409.4 328.3 L409.2 329.3 L409 330.3 L408.8 331.3 L408.6 332.3 L408.4 333.3 L408.2 334.3 L407.5 338.3 L406.8 342.3 L406.3 346.3 L405.8 350.3 L405.4 354.3 L405 358.3 L404.7 362.3 L404.4 366.3 L404.1 370.3 L403.8 374.3 L403.5 378.3 L403.3 382.3 L403 386.3 L402.7 390.3 L402.4 394.3 L402.2 398.3 L402.1 402.3 L401.9 406.3 L401.7 410.3 L401.5 414.3 L401.4 418.3 L401.2 422.3 L401.1 426.3 L400.9 430.3 L400.8 434.3 L400.5 438.3 L400.2 442.3 L400 446.3 L399.7 450.3 L399.5 454.3 L399.2 458.3 L398.9 462.3 L398.7 466.3 L398.4 470.3 L398.3 474.3 L398.3 478.3 L398.2 482.3 L398.1 486.3 L398 490.3 L397.9 494.3 L397.9 498.3 L397.8 502.3 L397.7 506.3 L397.6 510.3 L397.5 514 L397.5 518 Z"/>
<path fill="#3e94cd" d="M390.9 518 L390.9 300.3 L639.9 300.3 L639.9 304.4 L541.6 304.6 L498.2 304.9 L454.2 305.1 L440 305.4 L428.3 305.6 L426.1 305.9 L424.8 306.1 L423.5 306.4 L422.2 306.6 L421.8 306.9 L421.3 307.1 L420.8 307.4 L420.3 307.6 L419.8 307.9 L419.3 308.1 L418.8 308.4 L418.4 308.6 L417.9 308.9 L417.4 309.1 L417 309.4 L416.6 309.6 L416.4 309.9 L416.2 310.1 L416.1 310.3 L415.4 311.3 L414.6 312.3 L413.9 313.3 L413.2 314.3 L412.6 315.3 L412.2 316.3 L411.8 317.3 L411.5 318.3 L411.2 319.3 L410.8 320.3 L410.5 321.3 L410.2 322.3 L409.9 323.3 L409.6 324.3 L409.5 325.3 L409.3 326.3 L409.1 327.3 L408.9 328.3 L408.7 329.3 L408.5 330.3 L408.4 331.3 L408.2 332.3 L408 333.3 L407.8 334.3 L407.1 338.3 L406.5 342.3 L406 346.3 L405.5 350.3 L405 354.3 L404.7 358.3 L404.4 362.3 L404.1 366.3 L403.8 370.3 L403.6 374.3 L403.3 378.3 L403 382.3 L402.7 386.3 L402.5 390.3 L402.2 394.3 L402 398.3 L401.8 402.3 L401.7 406.3 L401.5 410.3 L401.3 414.3 L401.2 418.3 L401 422.3 L400.9 426.3 L400.8 430.3 L400.6 434.3 L400.3 438.3 L400.1 442.3 L399.8 446.3 L399.6 450.3 L399.3 454.3 L399.1 458.3 L398.8 462.3 L398.6 466.3 L398.3 470.3 L398.2 474.3 L398.2 478.3 L398.1 482.3 L398 486.3 L397.9 490.3 L397.8 494.3 L397.8 498.3 L397.7 502.3 L397.6 506.3 L397.5 510.3 L397.5 514 L397.5 518 Z"/>
<path fill="#3891cc" d="M390.9 518 L390.9 300.3 L639.9 300.3 L639.9 304.4 L539.1 304.6 L496.1 304.9 L452.4 305.1 L438.8 305.4 L427.3 305.6 L425.3 305.9 L424 306.1 L422.7 306.4 L421.5 306.6 L421 306.9 L420.5 307.1 L420.1 307.4 L419.6 307.6 L419.1 307.9 L418.6 308.1 L418.2 308.4 L417.7 308.6 L417.2 308.9 L416.8 309.1 L416.3 309.4 L415.9 309.6 L415.8 309.9 L415.6 310.1 L415.4 310.3 L414.7 311.3 L414 312.3 L413.3 313.3 L412.7 314.3 L412 315.3 L411.6 316.3 L411.3 317.3 L411 318.3 L410.7 319.3 L410.3 320.3 L410 321.3 L409.7 322.3 L409.4 323.3 L409.2 324.3 L409 325.3 L408.8 326.3 L408.6 327.3 L408.4 328.3 L408.3 329.3 L408.1 330.3 L407.9 331.3 L407.8 332.3 L407.6 333.3 L407.4 334.3 L406.7 338.3 L406.1 342.3 L405.6 346.3 L405.2 350.3 L404.7 354.3 L404.4 358.3 L404.1 362.3 L403.8 366.3 L403.6 370.3 L403.3 374.3 L403 378.3 L402.8 382.3 L402.5 386.3 L402.2 390.3 L402 394.3 L401.8 398.3 L401.6 402.3 L401.5 406.3 L401.3 410.3 L401.1 414.3 L401 418.3 L400.9 422.3 L400.7 426.3 L400.6 430.3 L400.4 434.3 L400.2 438.3 L399.9 442.3 L399.7 446.3 L399.4 450.3 L399.2 454.3 L398.9 458.3 L398.7 462.3 L398.4 466.3 L398.2 470.3 L398.1 474.3 L398.1 478.3 L398 482.3 L397.9 486.3 L397.8 490.3 L397.8 494.3 L397.7 498.3 L397.6 502.3 L397.5 506.3 L397.5 510.3 L397.4 514 L397.4 518 Z"/>
<path fill="#328eca" d="M390.9 518 L390.9 300.3 L639.9 300.3 L639.9 304.4 L536.8 304.6 L494 304.9 L450.8 305.1 L437.6 305.4 L426.4 305.6 L424.4 305.9 L423.2 306.1 L422 306.4 L420.8 306.6 L420.3 306.9 L419.8 307.1 L419.4 307.4 L418.9 307.6 L418.4 307.9 L418 308.1 L417.5 308.4 L417 308.6 L416.6 308.9 L416.1 309.1 L415.7 309.4 L415.3 309.6 L415.2 309.9 L415 310.1 L414.8 310.3 L414.2 311.3 L413.5 312.3 L412.8 313.3 L412.1 314.3 L411.5 315.3 L411.1 316.3 L410.8 317.3 L410.5 318.3 L410.2 319.3 L409.9 320.3 L409.5 321.3 L409.2 322.3 L408.9 323.3 L408.7 324.3 L408.6 325.3 L408.4 326.3 L408.2 327.3 L408 328.3 L407.9 329.3 L407.7 330.3 L407.5 331.3 L407.4 332.3 L407.2 333.3 L407 334.3 L406.4 338.3 L405.8 342.3 L405.3 346.3 L404.9 350.3 L404.4 354.3 L404.1 358.3 L403.9 362.3 L403.6 366.3 L403.3 370.3 L403.1 374.3 L402.8 378.3 L402.5 382.3 L402.3 386.3 L402 390.3 L401.8 394.3 L401.6 398.3 L401.5 402.3 L401.3 406.3 L401.1 410.3 L401 414.3 L400.8 418.3 L400.7 422.3 L400.6 426.3 L400.4 430.3 L400.3 434.3 L400 438.3 L399.8 442.3 L399.5 446.3 L399.3 450.3 L399.1 454.3 L398.8 458.3 L398.6 462.3 L398.3 466.3 L398.1 470.3 L398 474.3 L398 478.3 L397.9 482.3 L397.8 486.3 L397.7 490.3 L397.7 494.3 L397.6 498.3 L397.5 502.3 L397.5 506.3 L397.4 510.3 L397.3 514 L397.3 518 Z"/>
<path fill="#2c8ac8" d="M390.9 518 L390.9 300.3 L639.9 300.3 L639.9 304.4 L534.5 304.6 L492.1 304.9 L449.3 305.1 L436.6 305.4 L425.5 305.6 L423.7 305.9 L422.5 306.1 L421.3 306.4 L420.1 306.6 L419.6 306.9 L419.2 307.1 L418.7 307.4 L418.3 307.6 L417.8 307.9 L417.4 308.1 L416.9 308.4 L416.4 308.6 L416 308.9 L415.6 309.1 L415.1 309.4 L414.7 309.6 L414.6 309.9 L414.4 310.1 L414.3 310.3 L413.6 311.3 L413 312.3 L412.3 313.3 L411.6 314.3 L411 315.3 L410.6 316.3 L410.3 317.3 L410 318.3 L409.7 319.3 L409.4 320.3 L409.1 321.3 L408.8 322.3 L408.5 323.3 L408.3 324.3 L408.2 325.3 L408 326.3 L407.8 327.3 L407.7 328.3 L407.5 329.3 L407.3 330.3 L407.2 331.3 L407 332.3 L406.9 333.3 L406.7 334.3 L406.1 338.3 L405.5 342.3 L405 346.3 L404.6 350.3 L404.2 354.3 L403.9 358.3 L403.6 362.3 L403.3 366.3 L403.1 370.3 L402.8 374.3 L402.6 378.3 L402.3 382.3 L402.1 386.3 L401.8 390.3 L401.6 394.3 L401.4 398.3 L401.3 402.3 L401.1 406.3 L401 410.3 L400.8 414.3 L400.7 418.3 L400.6 422.3 L400.4 426.3 L400.3 430.3 L400.1 434.3 L399.9 438.3 L399.7 442.3 L399.4 446.3 L399.2 450.3 L398.9 454.3 L398.7 458.3 L398.5 462.3 L398.2 466.3 L398 470.3 L397.9 474.3 L397.9 478.3 L397.8 482.3 L397.7 486.3 L397.7 490.3 L397.6 494.3 L397.5 498.3 L397.5 502.3 L397.4 506.3 L397.3 510.3 L397.3 514 L397.3 518 Z"/>
<path fill="#2687c7" d="M390.9 518 L390.9 300.3 L639.9 300.3 L639.9 304.4 L532.3 304.6 L490.3 304.9 L447.9 305.1 L435.6 305.4 L424.6 305.6 L423 305.9 L421.8 306.1 L420.6 306.4 L419.4 306.6 L419 306.9 L418.5 307.1 L418.1 307.4 L417.7 307.6 L417.2 307.9 L416.8 308.1 L416.3 308.4 L415.9 308.6 L415.4 308.9 L415 309.1 L414.6 309.4 L414.2 309.6 L414 309.9 L413.9 310.1 L413.7 310.3 L413.1 311.3 L412.5 312.3 L411.8 313.3 L411.2 314.3 L410.6 315.3 L410.2 316.3 L409.9 317.3 L409.6 318.3 L409.3 319.3 L409 320.3 L408.7 321.3 L408.4 322.3 L408.1 323.3 L407.9 324.3 L407.8 325.3 L407.6 326.3 L407.4 327.3 L407.3 328.3 L407.1 329.3 L407 330.3 L406.8 331.3 L406.7 332.3 L406.5 333.3 L406.4 334.3 L405.7 338.3 L405.2 342.3 L404.8 346.3 L404.3 350.3 L403.9 354.3 L403.6 358.3 L403.4 362.3 L403.1 366.3 L402.9 370.3 L402.6 374.3 L402.4 378.3 L402.1 382.3 L401.9 386.3 L401.7 390.3 L401.4 394.3 L401.3 398.3 L401.1 402.3 L401 406.3 L400.8 410.3 L400.7 414.3 L400.5 418.3 L400.4 422.3 L400.3 426.3 L400.2 430.3 L400 434.3 L399.8 438.3 L399.5 442.3 L399.3 446.3 L399.1 450.3 L398.8 454.3 L398.6 458.3 L398.4 462.3 L398.1 466.3 L397.9 470.3 L397.8 474.3 L397.8 478.3 L397.7 482.3 L397.6 486.3 L397.6 490.3 L397.5 494.3 L397.5 498.3 L397.4 502.3 L397.3 506.3 L397.3 510.3 L397.2 514 L397.2 518 Z"/>
<path fill="#2083c5" d="M390.9 518 L390.9 300.3 L639.9 300.3 L639.9 304.4 L530.3 304.6 L488.6 304.9 L446.5 305.1 L434.6 305.4 L423.8 305.6 L422.3 305.9 L421.1 306.1 L420 306.4 L418.8 306.6 L418.4 306.9 L418 307.1 L417.5 307.4 L417.1 307.6 L416.6 307.9 L416.2 308.1 L415.8 308.4 L415.3 308.6 L414.9 308.9 L414.5 309.1 L414.1 309.4 L413.7 309.6 L413.5 309.9 L413.4 310.1 L413.2 310.3 L412.6 311.3 L412 312.3 L411.3 313.3 L410.7 314.3 L410.1 315.3 L409.8 316.3 L409.5 317.3 L409.2 318.3 L408.9 319.3 L408.6 320.3 L408.3 321.3 L408 322.3 L407.8 323.3 L407.6 324.3 L407.4 325.3 L407.3 326.3 L407.1 327.3 L406.9 328.3 L406.8 329.3 L406.6 330.3 L406.5 331.3 L406.3 332.3 L406.2 333.3 L406.1 334.3 L405.5 338.3 L404.9 342.3 L404.5 346.3 L404.1 350.3 L403.7 354.3 L403.4 358.3 L403.1 362.3 L402.9 366.3 L402.6 370.3 L402.4 374.3 L402.2 378.3 L401.9 382.3 L401.7 386.3 L401.5 390.3 L401.3 394.3 L401.1 398.3 L401 402.3 L400.8 406.3 L400.7 410.3 L400.5 414.3 L400.4 418.3 L400.3 422.3 L400.1 426.3 L400 430.3 L399.9 434.3 L399.6 438.3 L399.4 442.3 L399.2 446.3 L399 450.3 L398.7 454.3 L398.5 458.3 L398.3 462.3 L398 466.3 L397.8 470.3 L397.8 474.3 L397.7 478.3 L397.6 482.3 L397.6 486.3 L397.5 490.3 L397.5 494.3 L397.4 498.3 L397.3 502.3 L397.3 506.3 L397.2 510.3 L397.2 514 L397.2 518 Z"/>
<path fill="#1a80c4" d="M390.9 518 L390.9 300.3 L639.9 300.3 L639.9 304.4 L528.3 304.6 L486.9 304.9 L445.2 305.1 L433.7 305.4 L423.1 305.6 L421.6 305.9 L420.5 306.1 L419.4 306.4 L418.2 306.6 L417.8 306.9 L417.4 307.1 L417 307.4 L416.5 307.6 L416.1 307.9 L415.7 308.1 L415.3 308.4 L414.8 308.6 L414.4 308.9 L414 309.1 L413.6 309.4 L413.2 309.6 L413 309.9 L412.9 310.1 L412.8 310.3 L412.1 311.3 L411.5 312.3 L410.9 313.3 L410.3 314.3 L409.7 315.3 L409.4 316.3 L409.1 317.3 L408.8 318.3 L408.5 319.3 L408.2 320.3 L407.9 321.3 L407.7 322.3 L407.4 323.3 L407.2 324.3 L407.1 325.3 L406.9 326.3 L406.8 327.3 L406.6 328.3 L406.5 329.3 L406.3 330.3 L406.2 331.3 L406 332.3 L405.9 333.3 L405.8 334.3 L405.2 338.3 L404.7 342.3 L404.2 346.3 L403.8 350.3 L403.4 354.3 L403.2 358.3 L402.9 362.3 L402.7 366.3 L402.4 370.3 L402.2 374.3 L402 378.3 L401.8 382.3 L401.5 386.3 L401.3 390.3 L401.1 394.3 L400.9 398.3 L400.8 402.3 L400.7 406.3 L400.5 410.3 L400.4 414.3 L400.3 418.3 L400.1 422.3 L400 426.3 L399.9 430.3 L399.8 434.3 L399.5 438.3 L399.3 442.3 L399.1 446.3 L398.9 450.3 L398.6 454.3 L398.4 458.3 L398.2 462.3 L397.9 466.3 L397.7 470.3 L397.7 474.3 L397.6 478.3 L397.6 482.3 L397.5 486.3 L397.4 490.3 L397.4 494.3 L397.3 498.3 L397.3 502.3 L397.2 506.3 L397.2 510.3 L397.1 514 L397.1 518 Z"/>
<path fill="#137dc2" d="M390.9 518 L390.9 300.3 L639.9 300.3 L639.9 304.4 L526.4 304.6 L485.3 304.9 L444 305.1 L432.8 305.4 L422.3 305.6 L421 305.9 L419.9 306.1 L418.8 306.4 L417.7 306.6 L417.3 306.9 L416.9 307.1 L416.4 307.4 L416 307.6 L415.6 307.9 L415.2 308.1 L414.8 308.4 L414.3 308.6 L413.9 308.9 L413.5 309.1 L413.1 309.4 L412.7 309.6 L412.6 309.9 L412.4 310.1 L412.3 310.3 L411.7 311.3 L411.1 312.3 L410.5 313.3 L409.9 314.3 L409.3 315.3 L409 316.3 L408.7 317.3 L408.4 318.3 L408.2 319.3 L407.9 320.3 L407.6 321.3 L407.3 322.3 L407.1 323.3 L406.9 324.3 L406.7 325.3 L406.6 326.3 L406.5 327.3 L406.3 328.3 L406.2 329.3 L406 330.3 L405.9 331.3 L405.8 332.3 L405.6 333.3 L405.5 334.3 L404.9 338.3 L404.4 342.3 L404 346.3 L403.6 350.3 L403.2 354.3 L403 358.3 L402.7 362.3 L402.5 366.3 L402.3 370.3 L402 374.3 L401.8 378.3 L401.6 382.3 L401.4 386.3 L401.2 390.3 L400.9 394.3 L400.8 398.3 L400.7 402.3 L400.5 406.3 L400.4 410.3 L400.3 414.3 L400.1 418.3 L400 422.3 L399.9 426.3 L399.8 430.3 L399.6 434.3 L399.4 438.3 L399.2 442.3 L399 446.3 L398.8 450.3 L398.5 454.3 L398.3 458.3 L398.1 462.3 L397.9 466.3 L397.7 470.3 L397.6 474.3 L397.5 478.3 L397.5 482.3 L397.4 486.3 L397.4 490.3 L397.3 494.3 L397.3 498.3 L397.2 502.3 L397.2 506.3 L397.1 510.3 L397.1 514 L397.1 518 Z"/>
<path fill="#0d79c0" d="M390.9 518 L390.9 300.3 L639.9 300.3 L639.9 304.4 L524.5 304.6 L483.8 304.9 L442.8 305.1 L432 305.4 L421.7 305.6 L420.4 305.9 L419.3 306.1 L418.3 306.4 L417.2 306.6 L416.8 306.9 L416.4 307.1 L415.9 307.4 L415.5 307.6 L415.1 307.9 L414.7 308.1 L414.3 308.4 L413.9 308.6 L413.5 308.9 L413.1 309.1 L412.7 309.4 L412.3 309.6 L412.1 309.9 L412 310.1 L411.9 310.3 L411.3 311.3 L410.7 312.3 L410.1 313.3 L409.5 314.3 L409 315.3 L408.6 316.3 L408.3 317.3 L408.1 318.3 L407.8 319.3 L407.5 320.3 L407.3 321.3 L407 322.3 L406.7 323.3 L406.6 324.3 L406.4 325.3 L406.3 326.3 L406.2 327.3 L406 328.3 L405.9 329.3 L405.7 330.3 L405.6 331.3 L405.5 332.3 L405.3 333.3 L405.2 334.3 L404.7 338.3 L404.2 342.3 L403.8 346.3 L403.4 350.3 L403 354.3 L402.8 358.3 L402.5 362.3 L402.3 366.3 L402.1 370.3 L401.9 374.3 L401.6 378.3 L401.4 382.3 L401.2 386.3 L401 390.3 L400.8 394.3 L400.7 398.3 L400.5 402.3 L400.4 406.3 L400.3 410.3 L400.1 414.3 L400 418.3 L399.9 422.3 L399.8 426.3 L399.7 430.3 L399.5 434.3 L399.3 438.3 L399.1 442.3 L398.9 446.3 L398.7 450.3 L398.4 454.3 L398.2 458.3 L398 462.3 L397.8 466.3 L397.6 470.3 L397.5 474.3 L397.5 478.3 L397.4 482.3 L397.4 486.3 L397.3 490.3 L397.3 494.3 L397.2 498.3 L397.2 502.3 L397.1 506.3 L397.1 510.3 L397 514 L397 518 Z"/>
<path fill="#0776bf" d="M390.9 518 L390.9 300.3 L639.9 300.3 L639.9 304.4 L522.8 304.6 L482.3 304.9 L441.7 305.1 L431.2 305.4 L421 305.6 L419.9 305.9 L418.8 306.1 L417.7 306.4 L416.7 306.6 L416.3 306.9 L415.9 307.1 L415.5 307.4 L415.1 307.6 L414.7 307.9 L414.3 308.1 L413.9 308.4 L413.4 308.6 L413 308.9 L412.6 309.1 L412.3 309.4 L411.9 309.6 L411.7 309.9 L411.6 310.1 L411.5 310.3 L410.9 311.3 L410.3 312.3 L409.7 313.3 L409.2 314.3 L408.6 315.3 L408.3 316.3 L408 317.3 L407.7 318.3 L407.5 319.3 L407.2 320.3 L407 321.3 L406.7 322.3 L406.4 323.3 L406.3 324.3 L406.1 325.3 L406 326.3 L405.9 327.3 L405.7 328.3 L405.6 329.3 L405.5 330.3 L405.3 331.3 L405.2 332.3 L405.1 333.3 L405 334.3 L404.4 338.3 L404 342.3 L403.6 346.3 L403.2 350.3 L402.8 354.3 L402.6 358.3 L402.3 362.3 L402.1 366.3 L401.9 370.3 L401.7 374.3 L401.5 378.3 L401.3 382.3 L401.1 386.3 L400.9 390.3 L400.7 394.3 L400.5 398.3 L400.4 402.3 L400.3 406.3 L400.2 410.3 L400 414.3 L399.9 418.3 L399.8 422.3 L399.7 426.3 L399.6 430.3 L399.4 434.3 L399.2 438.3 L399 442.3 L398.8 446.3 L398.6 450.3 L398.4 454.3 L398.1 458.3 L397.9 462.3 L397.7 466.3 L397.5 470.3 L397.5 474.3 L397.4 478.3 L397.4 482.3 L397.3 486.3 L397.3 490.3 L397.2 494.3 L397.2 498.3 L397.1 502.3 L397.1 506.3 L397 510.3 L397 514 L397 518 Z"/>
<path fill="#0273be" d="M390.9 518 L390.9 300.3 L639.9 300.3 L639.9 304.4 L521.1 304.6 L480.9 304.9 L440.7 305.1 L430.5 305.4 L420.4 305.6 L419.3 305.9 L418.3 306.1 L417.2 306.4 L416.2 306.6 L415.8 306.9 L415.4 307.1 L415 307.4 L414.6 307.6 L414.2 307.9 L413.8 308.1 L413.4 308.4 L413 308.6 L412.6 308.9 L412.2 309.1 L411.8 309.4 L411.5 309.6 L411.3 309.9 L411.2 310.1 L411.1 310.3 L410.5 311.3 L409.9 312.3 L409.4 313.3 L408.8 314.3 L408.3 315.3 L407.9 316.3 L407.7 317.3 L407.4 318.3 L407.2 319.3 L406.9 320.3 L406.7 321.3 L406.4 322.3 L406.2 323.3 L406 324.3 L405.9 325.3 L405.7 326.3 L405.6 327.3 L405.5 328.3 L405.3 329.3 L405.2 330.3 L405.1 331.3 L405 332.3 L404.8 333.3 L404.7 334.3 L404.2 338.3 L403.8 342.3 L403.4 346.3 L403 350.3 L402.6 354.3 L402.4 358.3 L402.2 362.3 L401.9 366.3 L401.7 370.3 L401.5 374.3 L401.3 378.3 L401.1 382.3 L400.9 386.3 L400.7 390.3 L400.5 394.3 L400.4 398.3 L400.3 402.3 L400.2 406.3 L400 410.3 L399.9 414.3 L399.8 418.3 L399.7 422.3 L399.6 426.3 L399.5 430.3 L399.3 434.3 L399.1 438.3 L398.9 442.3 L398.7 446.3 L398.5 450.3 L398.3 454.3 L398.1 458.3 L397.9 462.3 L397.6 466.3 L397.4 470.3 L397.4 474.3 L397.3 478.3 L397.3 482.3 L397.3 486.3 L397.2 490.3 L397.2 494.3 L397.1 498.3 L397.1 502.3 L397 506.3 L397 510.3 L396.9 514 L396.9 518 Z"/>
<path fill="#0072bd" d="M390.9 518 L390.9 300.3 L639.9 300.3 L639.9 304.4 L520 304.6 L480 304.9 L440 305.1 L430 305.4 L420 305.6 L419 305.9 L417.9 306.1 L416.9 306.4 L415.9 306.6 L415.5 306.9 L415.1 307.1 L414.7 307.4 L414.3 307.6 L413.9 307.9 L413.5 308.1 L413.2 308.4 L412.8 308.6 L412.4 308.9 L412 309.1 L411.6 309.4 L411.2 309.6 L411.1 309.9 L410.9 310.1 L410.8 310.3 L410.3 311.3 L409.7 312.3 L409.2 313.3 L408.6 314.3 L408.1 315.3 L407.7 316.3 L407.5 317.3 L407.2 318.3 L407 319.3 L406.7 320.3 L406.5 321.3 L406.2 322.3 L406 323.3 L405.8 324.3 L405.7 325.3 L405.6 326.3 L405.4 327.3 L405.3 328.3 L405.2 329.3 L405.1 330.3 L404.9 331.3 L404.8 332.3 L404.7 333.3 L404.6 334.3 L404.1 338.3 L403.6 342.3 L403.2 346.3 L402.8 350.3 L402.5 354.3 L402.3 358.3 L402.1 362.3 L401.8 366.3 L401.6 370.3 L401.4 374.3 L401.2 378.3 L401 382.3 L400.8 386.3 L400.6 390.3 L400.4 394.3 L400.3 398.3 L400.2 402.3 L400.1 406.3 L400 410.3 L399.9 414.3 L399.7 418.3 L399.6 422.3 L399.5 426.3 L399.4 430.3 L399.3 434.3 L399.1 438.3 L398.8 442.3 L398.6 446.3 L398.4 450.3 L398.2 454.3 L398 458.3 L397.8 462.3 L397.6 466.3 L397.4 470.3 L397.4 474.3 L397.3 478.3 L397.3 482.3 L397.2 486.3 L397.2 490.3 L397.1 494.3 L397.1 498.3 L397 502.3 L397 506.3 L396.9 510.3 L396.9 514 L396.9 518 Z"/>
<path fill="none" stroke="#1a1a1a" stroke-width="0.55" d="M415.9 306.6C415.1 307.1 412.5 308.1 411.2 309.6C409.9 311.1 408.8 313.3 407.9 315.6C407 317.9 406.6 319.6 405.9 323.6C405.2 327.6 404.4 334.6 403.9 339.5C403.3 344.4 402.9 348.6 402.6 352.8C402.3 357.1 402.3 357.9 401.9 365C401.5 372.1 400.8 383.8 400.4 395.2C400 406.6 399.8 421.2 399.3 433.7C398.8 446.2 397.8 456.6 397.4 470C397 483.4 397 506.7 396.9 514"/>
<path fill="none" stroke="#1a1a1a" stroke-width="0.55" stroke-dasharray="6.2 1.1" d="M442.5 306.6C441.3 307 437.5 307.7 435.2 309C432.9 310.3 430.4 312.2 428.5 314.3C426.6 316.4 425.1 319.4 423.9 321.6C422.7 323.8 422.5 324.1 421.2 327.5C419.9 330.9 417.2 337.6 415.9 342.2C414.6 346.8 413.9 351.6 413.2 355.4C412.5 359.2 412.6 359.5 411.8 365C411 370.5 409.6 380.2 408.6 388.6C407.6 397 406.5 407.6 405.9 415.1C405.3 422.6 405.6 424.6 404.9 433.7C404.2 442.8 402.4 456.6 401.5 470C400.6 483.4 399.6 506.7 399.2 514"/>
<path fill="none" stroke="#1a1a1a" stroke-width="0.55" stroke-dasharray="5.4 1.1" d="M490.9 306.3C488.2 306.8 480 307.8 474.9 309C469.8 310.2 464.1 311.8 460.4 313.6C456.6 315.4 454.8 317.3 452.4 319.6C450 321.9 447.7 325 445.8 327.5C443.9 330 443.1 331 441.1 334.8C439.1 338.6 435.8 345.7 433.8 350.1C431.8 354.6 431 356.2 429.2 361.5C427.4 366.8 425 375.2 423.2 381.9C421.4 388.6 419.9 394.9 418.6 401.8C417.3 408.7 416 417.8 415.2 423.1C414.4 428.4 414.9 425.9 413.9 433.7C412.8 441.5 410.6 456.6 408.9 470C407.2 483.4 404.6 506.7 403.8 514"/>
<path fill="none" stroke="#333" stroke-width="0.45" d="M633.9 305.7 L630.8 305.2 L627.3 307 L625.1 305.8 L623.3 307.3 L621.1 306.3 L618.7 307.7 L615 307.3 L612.7 308.7 L609 308.7 L604.7 310.5 L602 309.8 L597.3 311.2 L593 311.5 L592.2 313.9 L589.7 313.9 L587.5 315.3 L584.8 314.7 L580.4 316.5 L577.8 316.1 L573.6 318.2 L570.4 318.2 L568.7 319.7 L564.1 320.1 L560.3 323.3 L557.1 323.9 L554.5 326.6 L552.1 327.9 L551.4 330.6 L548.6 332.4 L546.8 335 L543.6 335.5 L542.4 337.4 L538.9 338.5 L536.6 340.8 L533.1 341.8 L531.9 343.9 L527.5 345.3 L525.8 348.1 L522.7 349 L519.9 352.8 L517.5 353 L516.4 356.2 L514.4 357.1 L513.1 360 L509.7 361.7 L507.8 365.1 L504.8 366.3 L503.1 369.6 L499.5 372.5 L498.9 374.6 L496.3 376.4 L495.4 378.9 L492.5 381.1 L490.9 384.4 L488.1 385.9 L487.1 389.7 L484.1 391.2 L483.3 394.4 L480.1 396.4 L479.6 399.2 L477.4 400.7 L476.6 403.3 L473.5 406.8 L472.6 409.8 L470 412.5 L468.8 417.1 L466.5 418.7 L465.5 423.4 L463.3 424.5 L462.1 429.1 L459.6 431.7 L459 435.4 L457.2 436.8 L456.9 439.5 L455.1 440.9 L455 443.1 L452.4 446.9 L452.6 449.3 L449.6 452.9 L449.4 455.6 L447.2 457.4 L447 460.7 L444.6 463.5 L444.2 467.2 L441.5 469.9 L441.3 473.1 L439.6 474.6 L439.7 477.8 L437.7 479.8 L438.1 482.6 L435.2 486.4 L434.8 491.1 L432.2 495 L432.6 497.3 L430.5 499.8 L430.7 502.6 L428.9 504.6 L428.5 509.3 L426.6 511.4 L426.4 514"/>
</g>
<path fill="#fff" fill-rule="evenodd" d="M391 301H637V517H391Z M394.95 304.30H633.90V514.00H394.95Z"/>
<rect x="394.9" y="305.2" width="238.9" height="1.2" fill="url(#topb)" opacity="0.8"/>
<rect x="394.9" y="304.1" width="238.9" height="1.2" fill="url(#topd)"/>
<path d="M633.6 303.9V514.2" stroke="#c2c6c9" stroke-width="1.3" fill="none"/>
<path d="M394.9 514H634.2" stroke="#b4b8bb" stroke-width="0.9" fill="none"/>
<g transform="translate(412.6 325.6) rotate(-65)"><text x="0" y="3" text-anchor="middle" font-size="8.6" fill="#000" stroke="#000" stroke-width="0.3">250</text></g>
<g transform="translate(424.8 334.2) rotate(-60)"><text x="0" y="3" text-anchor="middle" font-size="8.6" fill="#000" stroke="#000" stroke-width="0.3">100</text></g>
<g transform="translate(441.8 342.8) rotate(-60)"><text x="0" y="3" text-anchor="middle" font-size="8.6" fill="#000" stroke="#000" stroke-width="0.3">50</text></g>
<g transform="translate(503.3 377.3) rotate(-43)"><text x="0" y="3" text-anchor="middle" font-size="8.6" fill="#000" stroke="#000" stroke-width="0.3">10</text></g>
<text transform="translate(47.80 50.07) scale(0.95 1)" font-size="8.8" text-anchor="end" fill="#262626" stroke="#262626" stroke-width="0.18">1</text>
<text transform="translate(47.80 92.05) scale(0.95 1)" font-size="8.8" text-anchor="end" fill="#262626" stroke="#262626" stroke-width="0.18">0.95</text>
<text transform="translate(47.80 134.03) scale(0.95 1)" font-size="8.8" text-anchor="end" fill="#262626" stroke="#262626" stroke-width="0.18">0.9</text>
<text transform="translate(47.80 176.01) scale(0.95 1)" font-size="8.8" text-anchor="end" fill="#262626" stroke="#262626" stroke-width="0.18">0.85</text>
<text transform="translate(47.80 217.99) scale(0.95 1)" font-size="8.8" text-anchor="end" fill="#262626" stroke="#262626" stroke-width="0.18">0.8</text>
<text transform="translate(47.80 259.97) scale(0.95 1)" font-size="8.8" text-anchor="end" fill="#262626" stroke="#262626" stroke-width="0.18">0.75</text>
<text transform="translate(51.40 267.80) scale(0.95 1)" font-size="8.8" text-anchor="middle" fill="#262626" stroke="#262626" stroke-width="0.18">0</text>
<text transform="translate(99.08 267.80) scale(0.95 1)" font-size="8.8" text-anchor="middle" fill="#262626" stroke="#262626" stroke-width="0.18">0.05</text>
<text transform="translate(146.76 267.80) scale(0.95 1)" font-size="8.8" text-anchor="middle" fill="#262626" stroke="#262626" stroke-width="0.18">0.1</text>
<text transform="translate(194.44 267.80) scale(0.95 1)" font-size="8.8" text-anchor="middle" fill="#262626" stroke="#262626" stroke-width="0.18">0.15</text>
<text transform="translate(242.12 267.80) scale(0.95 1)" font-size="8.8" text-anchor="middle" fill="#262626" stroke="#262626" stroke-width="0.18">0.2</text>
<text transform="translate(289.80 267.80) scale(0.95 1)" font-size="8.8" text-anchor="middle" fill="#262626" stroke="#262626" stroke-width="0.18">0.25</text>
<text x="170.90" y="277.80" font-size="8.5" text-anchor="middle" fill="#262626" stroke="#262626" stroke-width="0.18">Fitness Cost (1-<tspan font-size="6.8" fill="#555" stroke="none" dx="0.1">ϵ</tspan><tspan font-size="6.8" dy="3.6" dx="1.4">A</tspan><tspan dy="-3.6">=1-</tspan><tspan font-size="6.8" fill="#555" stroke="none" dx="0.1">ϵ</tspan><tspan font-size="6.8" dy="3.6" dx="1.4">B</tspan><tspan dy="-3.6" dx="0.4">)</tspan></text>
<text transform="translate(27.6 151.8) rotate(-90)" font-size="8.85" text-anchor="middle" fill="#262626" stroke="#262626" stroke-width="0.18">Rate of Homing (<tspan font-size="7.5" fill="#555" stroke="none">Φ</tspan>)</text>
<text transform="translate(47.80 307.46) scale(0.93 1)" font-size="7.8" text-anchor="end" fill="#262626" stroke="#262626" stroke-width="0.18">1</text>
<text transform="translate(47.80 349.42) scale(0.93 1)" font-size="7.8" text-anchor="end" fill="#262626" stroke="#262626" stroke-width="0.18">0.95</text>
<text transform="translate(47.80 391.38) scale(0.93 1)" font-size="7.8" text-anchor="end" fill="#262626" stroke="#262626" stroke-width="0.18">0.9</text>
<text transform="translate(47.80 433.34) scale(0.93 1)" font-size="7.8" text-anchor="end" fill="#262626" stroke="#262626" stroke-width="0.18">0.85</text>
<text transform="translate(47.80 475.30) scale(0.93 1)" font-size="7.8" text-anchor="end" fill="#262626" stroke="#262626" stroke-width="0.18">0.8</text>
<text transform="translate(47.80 517.26) scale(0.93 1)" font-size="7.8" text-anchor="end" fill="#262626" stroke="#262626" stroke-width="0.18">0.75</text>
<text transform="translate(51.40 523.90) scale(0.93 1)" font-size="7.8" text-anchor="middle" fill="#262626" stroke="#262626" stroke-width="0.18">0</text>
<text transform="translate(99.08 523.90) scale(0.93 1)" font-size="7.8" text-anchor="middle" fill="#262626" stroke="#262626" stroke-width="0.18">0.05</text>
<text transform="translate(146.76 523.90) scale(0.93 1)" font-size="7.8" text-anchor="middle" fill="#262626" stroke="#262626" stroke-width="0.18">0.1</text>
<text transform="translate(194.44 523.90) scale(0.93 1)" font-size="7.8" text-anchor="middle" fill="#262626" stroke="#262626" stroke-width="0.18">0.15</text>
<text transform="translate(242.12 523.90) scale(0.93 1)" font-size="7.8" text-anchor="middle" fill="#262626" stroke="#262626" stroke-width="0.18">0.2</text>
<text transform="translate(289.80 523.90) scale(0.93 1)" font-size="7.8" text-anchor="middle" fill="#262626" stroke="#262626" stroke-width="0.18">0.25</text>
<text x="170.90" y="533.00" font-size="7.95" text-anchor="middle" fill="#262626" stroke="#262626" stroke-width="0.18">Fitness Cost (1-<tspan font-size="6.4" fill="#555" stroke="none" dx="0.1">ϵ</tspan><tspan font-size="6.4" dy="3.6" dx="1.4">A</tspan><tspan dy="-3.6">=1-</tspan><tspan font-size="6.4" fill="#555" stroke="none" dx="0.1">ϵ</tspan><tspan font-size="6.4" dy="3.6" dx="1.4">B</tspan><tspan dy="-3.6" dx="0.4">)</tspan></text>
<text transform="translate(31.2 409.3) rotate(-90)" font-size="8.45" text-anchor="middle" fill="#262626" stroke="#262626" stroke-width="0.18">Rate of Homing (<tspan font-size="7.2" fill="#555" stroke="none">Φ</tspan>)</text>
<text transform="translate(391.85 50.16) scale(0.93 1)" font-size="7.8" text-anchor="end" fill="#262626" stroke="#262626" stroke-width="0.18">1</text>
<text transform="translate(391.85 92.10) scale(0.93 1)" font-size="7.8" text-anchor="end" fill="#262626" stroke="#262626" stroke-width="0.18">0.95</text>
<text transform="translate(391.85 134.04) scale(0.93 1)" font-size="7.8" text-anchor="end" fill="#262626" stroke="#262626" stroke-width="0.18">0.9</text>
<text transform="translate(391.85 175.98) scale(0.93 1)" font-size="7.8" text-anchor="end" fill="#262626" stroke="#262626" stroke-width="0.18">0.85</text>
<text transform="translate(391.85 217.92) scale(0.93 1)" font-size="7.8" text-anchor="end" fill="#262626" stroke="#262626" stroke-width="0.18">0.8</text>
<text transform="translate(391.85 259.86) scale(0.93 1)" font-size="7.8" text-anchor="end" fill="#262626" stroke="#262626" stroke-width="0.18">0.75</text>
<text transform="translate(394.95 266.50) scale(0.93 1)" font-size="7.8" text-anchor="middle" fill="#262626" stroke="#262626" stroke-width="0.18">0</text>
<text transform="translate(442.74 266.50) scale(0.93 1)" font-size="7.8" text-anchor="middle" fill="#262626" stroke="#262626" stroke-width="0.18">0.05</text>
<text transform="translate(490.53 266.50) scale(0.93 1)" font-size="7.8" text-anchor="middle" fill="#262626" stroke="#262626" stroke-width="0.18">0.1</text>
<text transform="translate(538.32 266.50) scale(0.93 1)" font-size="7.8" text-anchor="middle" fill="#262626" stroke="#262626" stroke-width="0.18">0.15</text>
<text transform="translate(586.11 266.50) scale(0.93 1)" font-size="7.8" text-anchor="middle" fill="#262626" stroke="#262626" stroke-width="0.18">0.2</text>
<text transform="translate(633.90 266.50) scale(0.93 1)" font-size="7.8" text-anchor="middle" fill="#262626" stroke="#262626" stroke-width="0.18">0.25</text>
<text x="514.72" y="275.60" font-size="8.0" text-anchor="middle" fill="#262626" stroke="#262626" stroke-width="0.18">Fitness Cost (1-<tspan font-size="6.4" fill="#555" stroke="none" dx="0.1">ϵ</tspan><tspan font-size="6.4" dy="3.6" dx="1.4">A</tspan><tspan dy="-3.6"> = 1-</tspan><tspan font-size="6.4" fill="#555" stroke="none" dx="0.1">ϵ</tspan><tspan font-size="6.4" dy="3.6" dx="1.4">B</tspan><tspan dy="-3.6" dx="0.4">)</tspan></text>
<text transform="translate(373.8 151.9) rotate(-90)" font-size="8.45" text-anchor="middle" fill="#262626" stroke="#262626" stroke-width="0.18">Rate of Homing (<tspan font-size="7.2" fill="#555" stroke="none">Φ</tspan>)</text>
<text transform="translate(391.85 307.56) scale(0.93 1)" font-size="7.8" text-anchor="end" fill="#262626" stroke="#262626" stroke-width="0.18">1</text>
<text transform="translate(391.85 349.50) scale(0.93 1)" font-size="7.8" text-anchor="end" fill="#262626" stroke="#262626" stroke-width="0.18">0.95</text>
<text transform="translate(391.85 391.44) scale(0.93 1)" font-size="7.8" text-anchor="end" fill="#262626" stroke="#262626" stroke-width="0.18">0.9</text>
<text transform="translate(391.85 433.38) scale(0.93 1)" font-size="7.8" text-anchor="end" fill="#262626" stroke="#262626" stroke-width="0.18">0.85</text>
<text transform="translate(391.85 475.32) scale(0.93 1)" font-size="7.8" text-anchor="end" fill="#262626" stroke="#262626" stroke-width="0.18">0.8</text>
<text transform="translate(391.85 517.26) scale(0.93 1)" font-size="7.8" text-anchor="end" fill="#262626" stroke="#262626" stroke-width="0.18">0.75</text>
<text transform="translate(394.95 523.90) scale(0.93 1)" font-size="7.8" text-anchor="middle" fill="#262626" stroke="#262626" stroke-width="0.18">0</text>
<text transform="translate(442.74 523.90) scale(0.93 1)" font-size="7.8" text-anchor="middle" fill="#262626" stroke="#262626" stroke-width="0.18">0.05</text>
<text transform="translate(490.53 523.90) scale(0.93 1)" font-size="7.8" text-anchor="middle" fill="#262626" stroke="#262626" stroke-width="0.18">0.1</text>
<text transform="translate(538.32 523.90) scale(0.93 1)" font-size="7.8" text-anchor="middle" fill="#262626" stroke="#262626" stroke-width="0.18">0.15</text>
<text transform="translate(586.11 523.90) scale(0.93 1)" font-size="7.8" text-anchor="middle" fill="#262626" stroke="#262626" stroke-width="0.18">0.2</text>
<text transform="translate(633.90 523.90) scale(0.93 1)" font-size="7.8" text-anchor="middle" fill="#262626" stroke="#262626" stroke-width="0.18">0.25</text>
<text x="514.72" y="533.00" font-size="8.0" text-anchor="middle" fill="#262626" stroke="#262626" stroke-width="0.18">Fitness Cost (1-<tspan font-size="6.4" fill="#555" stroke="none" dx="0.1">ϵ</tspan><tspan font-size="6.4" dy="3.6" dx="1.4">A</tspan><tspan dy="-3.6"> = 1-</tspan><tspan font-size="6.4" fill="#555" stroke="none" dx="0.1">ϵ</tspan><tspan font-size="6.4" dy="3.6" dx="1.4">B</tspan><tspan dy="-3.6" dx="0.4">)</tspan></text>
<text transform="translate(377.4 409.3) rotate(-90)" font-size="8.45" text-anchor="middle" fill="#262626" stroke="#262626" stroke-width="0.18">Rate of Homing (<tspan font-size="7.2" fill="#555" stroke="none">Φ</tspan>)</text>
<rect x="303" y="46.7" width="9.7" height="209.9" fill="url(#cbg)"/>
<rect x="303" y="46.7" width="9.7" height="3.7" fill="rgb(255, 105, 45)"/>
<rect x="303" y="46.7" width="9.7" height="209.9" fill="none" stroke="#262626" stroke-opacity="0.55" stroke-width="0.5"/>
<path d="M311.1 256.6H312.7" stroke="#262626" stroke-width="0.5"/>
<text transform="translate(315.90 259.60) scale(0.95 1)" font-size="8.6" text-anchor="start" fill="#262626" stroke="#262626" stroke-width="0.18">0</text>
<path d="M311.1 235.8H312.7" stroke="#262626" stroke-width="0.5"/>
<text transform="translate(315.90 238.76) scale(0.95 1)" font-size="8.6" text-anchor="start" fill="#262626" stroke="#262626" stroke-width="0.18">0.1</text>
<path d="M311.1 214.9H312.7" stroke="#262626" stroke-width="0.5"/>
<text transform="translate(315.90 217.92) scale(0.95 1)" font-size="8.6" text-anchor="start" fill="#262626" stroke="#262626" stroke-width="0.18">0.2</text>
<path d="M311.1 194.1H312.7" stroke="#262626" stroke-width="0.5"/>
<text transform="translate(315.90 197.08) scale(0.95 1)" font-size="8.6" text-anchor="start" fill="#262626" stroke="#262626" stroke-width="0.18">0.3</text>
<path d="M311.1 173.2H312.7" stroke="#262626" stroke-width="0.5"/>
<text transform="translate(315.90 176.24) scale(0.95 1)" font-size="8.6" text-anchor="start" fill="#262626" stroke="#262626" stroke-width="0.18">0.4</text>
<path d="M311.1 152.4H312.7" stroke="#262626" stroke-width="0.5"/>
<text transform="translate(315.90 155.40) scale(0.95 1)" font-size="8.6" text-anchor="start" fill="#262626" stroke="#262626" stroke-width="0.18">0.5</text>
<path d="M311.1 131.6H312.7" stroke="#262626" stroke-width="0.5"/>
<text transform="translate(315.90 134.56) scale(0.95 1)" font-size="8.6" text-anchor="start" fill="#262626" stroke="#262626" stroke-width="0.18">0.6</text>
<path d="M311.1 110.7H312.7" stroke="#262626" stroke-width="0.5"/>
<text transform="translate(315.90 113.72) scale(0.95 1)" font-size="8.6" text-anchor="start" fill="#262626" stroke="#262626" stroke-width="0.18">0.7</text>
<path d="M311.1 89.9H312.7" stroke="#262626" stroke-width="0.5"/>
<text transform="translate(315.90 92.88) scale(0.95 1)" font-size="8.6" text-anchor="start" fill="#262626" stroke="#262626" stroke-width="0.18">0.8</text>
<path d="M311.1 69H312.7" stroke="#262626" stroke-width="0.5"/>
<text transform="translate(315.90 72.04) scale(0.95 1)" font-size="8.6" text-anchor="start" fill="#262626" stroke="#262626" stroke-width="0.18">0.9</text>
<path d="M311.1 48.2H312.7" stroke="#262626" stroke-width="0.5"/>
<text transform="translate(315.90 51.20) scale(0.95 1)" font-size="8.6" text-anchor="start" fill="#262626" stroke="#262626" stroke-width="0.18">1</text>
<text transform="translate(338.6 156.5) rotate(-90)" font-size="8.53" text-anchor="middle" fill="#262626" stroke="#262626" stroke-width="0.18">Equilibrium Resistance Allele Frequency</text>
<rect x="646.1" y="46.9" width="9.7" height="209.7" fill="url(#cbg)"/>
<rect x="646.1" y="46.9" width="9.7" height="209.7" fill="none" stroke="#262626" stroke-opacity="0.55" stroke-width="0.5"/>
<path d="M654.2 256.6H655.8" stroke="#262626" stroke-width="0.5"/>
<text transform="translate(658.10 259.24) scale(0.93 1)" font-size="7.9" text-anchor="start" fill="#262626" stroke="#262626" stroke-width="0.18">0</text>
<path d="M654.2 214.6H655.8" stroke="#262626" stroke-width="0.5"/>
<text transform="translate(658.10 217.26) scale(0.93 1)" font-size="7.9" text-anchor="start" fill="#262626" stroke="#262626" stroke-width="0.18">50</text>
<path d="M654.2 172.6H655.8" stroke="#262626" stroke-width="0.5"/>
<text transform="translate(658.10 175.28) scale(0.93 1)" font-size="7.9" text-anchor="start" fill="#262626" stroke="#262626" stroke-width="0.18">100</text>
<path d="M654.2 130.7H655.8" stroke="#262626" stroke-width="0.5"/>
<text transform="translate(658.10 133.30) scale(0.93 1)" font-size="7.9" text-anchor="start" fill="#262626" stroke="#262626" stroke-width="0.18">150</text>
<path d="M654.2 88.7H655.8" stroke="#262626" stroke-width="0.5"/>
<text transform="translate(658.10 91.32) scale(0.93 1)" font-size="7.9" text-anchor="start" fill="#262626" stroke="#262626" stroke-width="0.18">200</text>
<path d="M654.2 46.7H655.8" stroke="#262626" stroke-width="0.5"/>
<text transform="translate(658.10 49.34) scale(0.93 1)" font-size="7.9" text-anchor="start" fill="#262626" stroke="#262626" stroke-width="0.18">250+</text>
<text transform="translate(682.7 156.3) rotate(-90)" font-size="8.53" text-anchor="middle" fill="#262626" stroke="#262626" stroke-width="0.18">Generations with A Allele Frequency &gt;0.8</text>
<rect x="303" y="304.2" width="9.7" height="209.8" fill="url(#cbg)"/>
<rect x="303" y="304.2" width="9.7" height="3.7" fill="rgb(255, 105, 45)"/>
<rect x="303" y="304.2" width="9.7" height="209.8" fill="none" stroke="#262626" stroke-opacity="0.55" stroke-width="0.5"/>
<path d="M311.1 514H312.7" stroke="#262626" stroke-width="0.5"/>
<text transform="translate(315.90 516.71) scale(0.93 1)" font-size="7.8" text-anchor="start" fill="#262626" stroke="#262626" stroke-width="0.18">0</text>
<path d="M311.1 493.2H312.7" stroke="#262626" stroke-width="0.5"/>
<text transform="translate(315.90 495.87) scale(0.93 1)" font-size="7.8" text-anchor="start" fill="#262626" stroke="#262626" stroke-width="0.18">0.1</text>
<path d="M311.1 472.3H312.7" stroke="#262626" stroke-width="0.5"/>
<text transform="translate(315.90 475.03) scale(0.93 1)" font-size="7.8" text-anchor="start" fill="#262626" stroke="#262626" stroke-width="0.18">0.2</text>
<path d="M311.1 451.5H312.7" stroke="#262626" stroke-width="0.5"/>
<text transform="translate(315.90 454.19) scale(0.93 1)" font-size="7.8" text-anchor="start" fill="#262626" stroke="#262626" stroke-width="0.18">0.3</text>
<path d="M311.1 430.6H312.7" stroke="#262626" stroke-width="0.5"/>
<text transform="translate(315.90 433.35) scale(0.93 1)" font-size="7.8" text-anchor="start" fill="#262626" stroke="#262626" stroke-width="0.18">0.4</text>
<path d="M311.1 409.8H312.7" stroke="#262626" stroke-width="0.5"/>
<text transform="translate(315.90 412.51) scale(0.93 1)" font-size="7.8" text-anchor="start" fill="#262626" stroke="#262626" stroke-width="0.18">0.5</text>
<path d="M311.1 389H312.7" stroke="#262626" stroke-width="0.5"/>
<text transform="translate(315.90 391.67) scale(0.93 1)" font-size="7.8" text-anchor="start" fill="#262626" stroke="#262626" stroke-width="0.18">0.6</text>
<path d="M311.1 368.1H312.7" stroke="#262626" stroke-width="0.5"/>
<text transform="translate(315.90 370.83) scale(0.93 1)" font-size="7.8" text-anchor="start" fill="#262626" stroke="#262626" stroke-width="0.18">0.7</text>
<path d="M311.1 347.3H312.7" stroke="#262626" stroke-width="0.5"/>
<text transform="translate(315.90 349.99) scale(0.93 1)" font-size="7.8" text-anchor="start" fill="#262626" stroke="#262626" stroke-width="0.18">0.8</text>
<path d="M311.1 326.4H312.7" stroke="#262626" stroke-width="0.5"/>
<text transform="translate(315.90 329.15) scale(0.93 1)" font-size="7.8" text-anchor="start" fill="#262626" stroke="#262626" stroke-width="0.18">0.9</text>
<path d="M311.1 305.6H312.7" stroke="#262626" stroke-width="0.5"/>
<text transform="translate(315.90 308.31) scale(0.93 1)" font-size="7.8" text-anchor="start" fill="#262626" stroke="#262626" stroke-width="0.18">1</text>
<text transform="translate(338.6 413.9) rotate(-90)" font-size="8.53" text-anchor="middle" fill="#262626" stroke="#262626" stroke-width="0.18">Equilibrium Resistance Allele Frequency</text>
<rect x="646.1" y="304.3" width="9.7" height="209.7" fill="url(#cbg)"/>
<rect x="646.1" y="304.3" width="9.7" height="209.7" fill="none" stroke="#262626" stroke-opacity="0.55" stroke-width="0.5"/>
<path d="M654.2 514H655.8" stroke="#262626" stroke-width="0.5"/>
<text transform="translate(658.10 516.64) scale(0.93 1)" font-size="7.9" text-anchor="start" fill="#262626" stroke="#262626" stroke-width="0.18">0</text>
<path d="M654.2 472H655.8" stroke="#262626" stroke-width="0.5"/>
<text transform="translate(658.10 474.66) scale(0.93 1)" font-size="7.9" text-anchor="start" fill="#262626" stroke="#262626" stroke-width="0.18">50</text>
<path d="M654.2 430H655.8" stroke="#262626" stroke-width="0.5"/>
<text transform="translate(658.10 432.68) scale(0.93 1)" font-size="7.9" text-anchor="start" fill="#262626" stroke="#262626" stroke-width="0.18">100</text>
<path d="M654.2 388.1H655.8" stroke="#262626" stroke-width="0.5"/>
<text transform="translate(658.10 390.70) scale(0.93 1)" font-size="7.9" text-anchor="start" fill="#262626" stroke="#262626" stroke-width="0.18">150</text>
<path d="M654.2 346.1H655.8" stroke="#262626" stroke-width="0.5"/>
<text transform="translate(658.10 348.72) scale(0.93 1)" font-size="7.9" text-anchor="start" fill="#262626" stroke="#262626" stroke-width="0.18">200</text>
<path d="M654.2 304.1H655.8" stroke="#262626" stroke-width="0.5"/>
<text transform="translate(658.10 306.74) scale(0.93 1)" font-size="7.9" text-anchor="start" fill="#262626" stroke="#262626" stroke-width="0.18">250+</text>
<text transform="translate(682.7 413.8) rotate(-90)" font-size="8.53" text-anchor="middle" fill="#262626" stroke="#262626" stroke-width="0.18">Generations with A Allele Frequency &gt;0.8</text>
<text x="182.60" y="10.10" font-size="12.22" text-anchor="middle" fill="#000">Equilibrium Resistant</text>
<text x="182.60" y="25.70" font-size="12.22" text-anchor="middle" fill="#000">Allele Frequency</text>
<text x="526.00" y="10.10" font-size="12.22" text-anchor="middle" fill="#000">Generations with High</text>
<text x="526.00" y="25.70" font-size="12.22" text-anchor="middle" fill="#000">A Allele Frequency</text>
<text x="10.90" y="38.80" font-size="14.3" text-anchor="start" fill="#000">(a)</text>
<text x="353.90" y="38.80" font-size="14.3" text-anchor="start" fill="#000">(b)</text>
<text x="10.90" y="295.60" font-size="14.3" text-anchor="start" fill="#000">(c)</text>
<text x="353.90" y="295.60" font-size="14.3" text-anchor="start" fill="#000">(d)</text>
<text transform="translate(9.3 157) rotate(-90)" font-size="12.22" text-anchor="middle" fill="#000">Introduction Frequency = 0.5</text>
<text transform="translate(9.3 413.1) rotate(-90)" font-size="12.12" text-anchor="middle" fill="#000">Introduction Frequency = 0.75</text>
</svg>
</body></html>
